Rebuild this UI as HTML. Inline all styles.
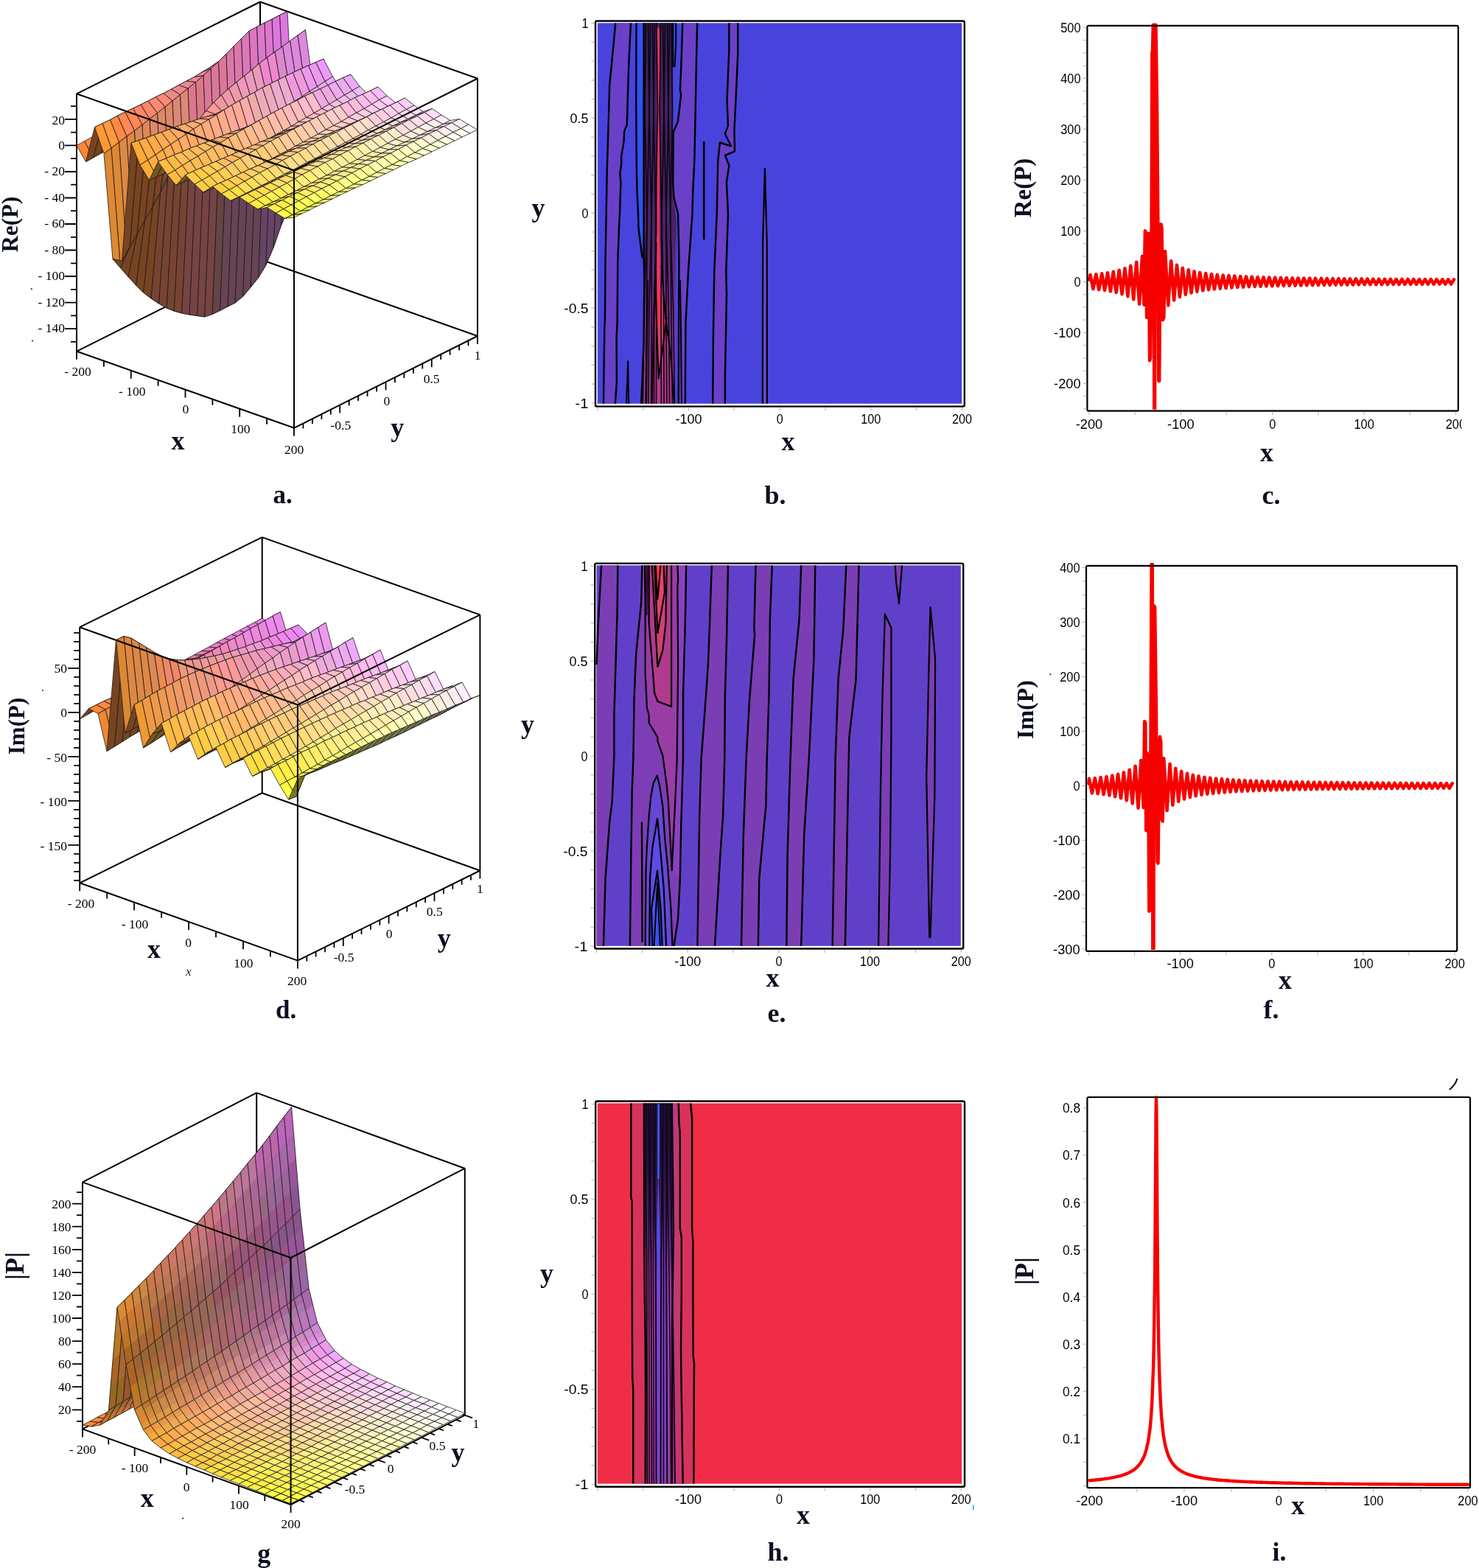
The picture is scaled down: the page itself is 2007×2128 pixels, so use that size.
<!DOCTYPE html>
<html><head><meta charset="utf-8"><title>Figure</title>
<style>html,body{margin:0;padding:0;background:#fff;}svg{display:block;}</style></head>
<body><svg xmlns="http://www.w3.org/2000/svg" width="2007" height="2128" viewBox="0 0 2007 2128">
<rect width="2007" height="2128" fill="#fff"/>
<rect x="810.8" y="31.3" width="494.4" height="516.5" fill="#4843dc"/>
<path d="M835.2 31.3 832 66.6 827.2 115.1 825.8 163.7 823.7 233 822.7 290 821.6 348.8 821 430.6 820.3 448.6 818.9 547.8 834.8 547.8 836.9 517.9 836.6 458.3 837.6 437.5 838.3 354.3 840.4 300 841 290 842.4 246.8 841.3 235.8 843.1 223.3 843.1 212.2 846.6 191.4 847.3 177.5 850.8 169.2 852.1 122 853.5 80.5 856 31.3Z" fill="#6a40c8"/>
<path d="M850 547.8 852.1 490.2 853.2 547.8Z" fill="#3a3fb8"/>
<path d="M863.5 31.3 863.2 136 863.9 233 864.6 260.7 866 290 866.5 310 871.6 350.2 873.6 300 873.6 31.3Z" fill="#3152f2"/>
<linearGradient id="gbd" x1="0" y1="0" x2="0" y2="1"><stop offset="0" stop-color="#3c1f5c"/><stop offset="0.55" stop-color="#4a2268"/><stop offset="0.75" stop-color="#7a3090"/><stop offset="1" stop-color="#a33a9a"/></linearGradient>
<path d="M873.6 31.3 873.6 350 874.3 375 873.6 465.3 870.2 547.8 915.9 547.8 916.5 400 918 300 914.5 267.7 913.2 246.9 913.2 31.3Z" fill="url(#gbd)"/>
<path d="M884.7 547.8 887.5 420 890.5 330 893.5 300 897.5 360 903 430 910 480 915 547.8Z" fill="#b23a88"/>
<path d="M889.5 393 893 380 897 393 904.8 430 893.7 513.8Z" fill="#e0406e"/>
<path d="M893 45 893.2 150 893.5 300 893.7 400 893.7 440" fill="none" stroke="#ff3050" stroke-width="3.2" stroke-linejoin="round"/>
<path d="M891.5 40 893 36 894.5 40 895 120 894.2 200 892.2 200 891.6 120Z" fill="#ff3a5a"/>
<path d="M913.8 31.3 917.2 31.3 917.2 60 914.8 90 913.8 90Z" fill="#3152f2"/>
<path d="M926.3 31.3 924.2 94.3 922.9 122 924.2 129 920.1 163.7 919.4 166.4 913.8 178.9 913.2 246.9 914.5 267.7 920.1 290 921.5 350 921 450 920.8 547.8 929.8 547.8 930.5 437.5 934 368.2 939.5 290 940.2 260.7 942.3 219.1 943.7 149.8 945 80.5 946.2 31.3Z" fill="#6a40c8"/>
<path d="M989.4 31.3 989.4 66.6 986.6 136 988 170.6 983.9 181.7 992.2 198.3 976.9 193.5 974.2 219.1 972.8 290 969.3 368.2 967.9 458.3 967.2 547.8 983.9 547.8 983.9 509.6 986 400 985.3 368.2 988 290 985.9 246.9 989.4 224.7 983.9 210.8 997 205.3 996.4 177.5 999.1 122 1001.2 73.5 1001.2 31.3Z" fill="#6a40c8"/>
<path d="M1034.8 547.8 1035.2 330 1037.9 228.8 1040.7 330 1040.9 547.8Z" fill="#6a48d0"/>
<path d="M876.5 31.3 875 150 878 300 874 420 872.4 547.8" fill="none" stroke="#0a0510" stroke-width="1.6" stroke-linejoin="round"/>
<path d="M879.5 31.3 881 150 878 300 877.5 420 876.1 547.8" fill="none" stroke="#0a0510" stroke-width="1.6" stroke-linejoin="round"/>
<path d="M882.5 31.3 881 150 884 300 880.9 420 879.9 547.8" fill="none" stroke="#0a0510" stroke-width="1.6" stroke-linejoin="round"/>
<path d="M885.5 31.3 887 150 884 300 884.4 420 883.6 547.8" fill="none" stroke="#0a0510" stroke-width="1.6" stroke-linejoin="round"/>
<path d="M888.5 31.3 887 150 890 300 887.8 420 887.4 547.8" fill="none" stroke="#0a0510" stroke-width="1.6" stroke-linejoin="round"/>
<path d="M891 31.3 892.5 150 889.5 300 890.7 420 890.5 547.8" fill="none" stroke="#0a0510" stroke-width="1.6" stroke-linejoin="round"/>
<path d="M896.5 31.3 895 150 898 300 897 420 897.4 547.8" fill="none" stroke="#0a0510" stroke-width="1.6" stroke-linejoin="round"/>
<path d="M899.5 31.3 901 150 898 300 900.5 420 901.1 547.8" fill="none" stroke="#0a0510" stroke-width="1.6" stroke-linejoin="round"/>
<path d="M902.5 31.3 901 150 904 300 903.9 420 904.9 547.8" fill="none" stroke="#0a0510" stroke-width="1.6" stroke-linejoin="round"/>
<path d="M905.5 31.3 907 150 904 300 907.4 420 908.6 547.8" fill="none" stroke="#0a0510" stroke-width="1.6" stroke-linejoin="round"/>
<path d="M908.5 31.3 907 150 910 300 910.8 420 912.4 547.8" fill="none" stroke="#0a0510" stroke-width="1.6" stroke-linejoin="round"/>
<path d="M911 31.3 912.5 150 909.5 300 913.7 420 915.5 547.8" fill="none" stroke="#0a0510" stroke-width="1.6" stroke-linejoin="round"/>
<path d="M835.2 31.3 832 66.6 827.2 115.1 825.8 163.7 823.7 233 822.7 290 821.6 348.8 821 430.6 820.3 448.6 818.9 547.8" fill="none" stroke="#000" stroke-width="2.4" stroke-linejoin="round"/>
<path d="M856 31.3 853.5 80.5 852.1 122 850.8 169.2 847.3 177.5 846.6 191.4 843.1 212.2 843.1 223.3 841.3 235.8 842.4 246.8 841 290 840.4 300 838.3 354.3 837.6 437.5 836.6 458.3 836.9 517.9 834.8 547.8" fill="none" stroke="#000" stroke-width="2.4" stroke-linejoin="round"/>
<path d="M926.3 31.3 924.2 94.3 922.9 122 924.2 129 920.1 163.7 919.4 166.4 913.8 178.9 913.2 246.9 914.5 267.7 920.1 290 921.5 350 921 450 920.8 547.8" fill="none" stroke="#000" stroke-width="2.4" stroke-linejoin="round"/>
<path d="M946.2 31.3 945 80.5 943.7 149.8 942.3 219.1 940.2 260.7 939.5 290 934 368.2 930.5 437.5 929.8 547.8" fill="none" stroke="#000" stroke-width="2.4" stroke-linejoin="round"/>
<path d="M989.4 31.3 989.4 66.6 986.6 136 988 170.6 983.9 181.7 992.2 198.3 976.9 193.5 974.2 219.1 972.8 290 969.3 368.2 967.9 458.3 967.2 547.8" fill="none" stroke="#000" stroke-width="2.4" stroke-linejoin="round"/>
<path d="M1001.2 31.3 1001.2 73.5 999.1 122 996.4 177.5 997 205.3 983.9 210.8 989.4 224.7 985.9 246.9 988 290 985.3 368.2 986 400 983.9 509.6 983.9 547.8" fill="none" stroke="#000" stroke-width="2.4" stroke-linejoin="round"/>
<path d="M863.5 31.3 863.2 136 863.9 233 864.6 260.7 866 290 866.5 310 871.6 350.2" fill="none" stroke="#000" stroke-width="2.4" stroke-linejoin="round"/>
<path d="M873.6 31.3 873.6 350 874.3 375 873.6 465.3 870.2 547.8" fill="none" stroke="#000" stroke-width="2.4" stroke-linejoin="round"/>
<path d="M913.2 31.3 913.2 90 915.5 90 917.2 60 917.2 31.3" fill="none" stroke="#000" stroke-width="2" stroke-linejoin="round"/>
<path d="M850 547.8 852.1 490.2 853.2 547.8" fill="none" stroke="#000" stroke-width="2" stroke-linejoin="round"/>
<path d="M1034.8 547.8 1035.2 330 1037.9 228.8 1040.7 330 1040.9 547.8" fill="none" stroke="#000" stroke-width="2.2" stroke-linejoin="round"/>
<path d="M955.2 191.9 955.2 325.2" fill="none" stroke="#000" stroke-width="2.6" stroke-linejoin="round"/>
<path d="M884.7 547.8 887.5 420 890.5 330" fill="none" stroke="#000" stroke-width="2" stroke-linejoin="round"/>
<path d="M915 547.8 910 480 903 430 897.5 360" fill="none" stroke="#000" stroke-width="2" stroke-linejoin="round"/>
<path d="M889.5 393 893.7 513.8 904.8 430" fill="none" stroke="#000" stroke-width="2" stroke-linejoin="round"/>
<path d="M877.1 547.8 878 450 879 380" fill="none" stroke="#000" stroke-width="2" stroke-linejoin="round"/>
<path d="M924.9 547.8 924 450 923 380" fill="none" stroke="#000" stroke-width="2" stroke-linejoin="round"/>
<rect x="808" y="28.5" width="500.8" height="523.1" fill="none" stroke="#000" stroke-width="2.4" rx="2"/>
<path d="M810.8 553.2v4M872.6 553.2v4M934.5 553.2v4M996.3 553.2v4M1058.2 553.2v4M1120 553.2v4M1181.8 553.2v4M1243.7 553.2v4M1305.5 553.2v4M806.4 547h-4M806.4 521.2h-4M806.4 495.4h-4M806.4 469.6h-4M806.4 443.9h-4M806.4 418.1h-4M806.4 392.3h-4M806.4 366.5h-4M806.4 340.8h-4M806.4 315h-4M806.4 289.2h-4M806.4 263.4h-4M806.4 237.6h-4M806.4 211.9h-4M806.4 186.1h-4M806.4 160.3h-4M806.4 134.5h-4M806.4 108.8h-4M806.4 83h-4M806.4 57.2h-4M806.4 31.4h-4" stroke="#b8b8b8" stroke-width="1.2" fill="none"/>
<text x="934.5" y="574.9" text-anchor="middle" font-family="'Liberation Sans', Arial, sans-serif" font-size="19" fill="#000" textLength="36" lengthAdjust="spacingAndGlyphs">-100</text>
<text x="1058.2" y="574.9" text-anchor="middle" font-family="'Liberation Sans', Arial, sans-serif" font-size="19" fill="#000" textLength="9" lengthAdjust="spacingAndGlyphs">0</text>
<text x="1181.8" y="574.9" text-anchor="middle" font-family="'Liberation Sans', Arial, sans-serif" font-size="19" fill="#000" textLength="27" lengthAdjust="spacingAndGlyphs">100</text>
<text x="1305.5" y="574.9" text-anchor="middle" font-family="'Liberation Sans', Arial, sans-serif" font-size="19" fill="#000" textLength="27" lengthAdjust="spacingAndGlyphs">200</text>
<text x="798.5" y="38.2" text-anchor="end" font-family="'Liberation Sans', Arial, sans-serif" font-size="19" fill="#000" textLength="9" lengthAdjust="spacingAndGlyphs">1</text>
<text x="798.5" y="167.1" text-anchor="end" font-family="'Liberation Sans', Arial, sans-serif" font-size="19" fill="#000" textLength="24.9" lengthAdjust="spacingAndGlyphs">0.5</text>
<text x="798.5" y="295.9" text-anchor="end" font-family="'Liberation Sans', Arial, sans-serif" font-size="19" fill="#000" textLength="9" lengthAdjust="spacingAndGlyphs">0</text>
<text x="798.5" y="424.8" text-anchor="end" font-family="'Liberation Sans', Arial, sans-serif" font-size="19" fill="#000" textLength="33.2" lengthAdjust="spacingAndGlyphs">-0.5</text>
<text x="798.5" y="553.7" text-anchor="end" font-family="'Liberation Sans', Arial, sans-serif" font-size="19" fill="#000" textLength="18" lengthAdjust="spacingAndGlyphs">-1</text>
<rect x="809.5" y="767.3" width="494.3" height="516.5" fill="#6040c9"/>
<path d="M809.5 902 809.5 902 811.2 859 813.3 817.5 816.1 767.3 838.3 767.3 837.6 831.3 835.5 900.7 833.4 970 833.4 1025 830.7 1087.4 827.2 1115.1 821.6 1191.4 818.9 1283.8 809.5 1283.8Z" fill="#7b3db4"/>
<path d="M871.3 767.3 870.2 817.5 863.2 886.8 860.5 949.2 859.4 1030 857.7 1073.5 856.3 1163.7 854.9 1283.8 914.5 1283.8 920.1 1246.9 922.9 1191.4 924.2 1122.1 927 1025 927 942.3 929.8 845.2 931.2 767.3Z" fill="#7d3db6"/>
<path d="M875 767.3 875.7 817.5 875.7 914.5 877.1 942.3 877.8 960.3 880.6 970 880.6 981 892.4 1000.5 892.4 1006 899.3 1025.4 902.1 1045.8 904.8 1066.6 906.9 1087.4 908.3 1115.1 911.8 1181.7 911.8 1181.7 913.2 1149.8 915.9 1094.3 918.7 1030 920.1 900.7 919.4 796.7 920.1 787 919.4 767.3Z" fill="#9a3ca6"/>
<path d="M880.6 767.3 880.6 845.2 888.2 940.9 892.4 952 911.1 958.9 911.1 767.3Z" fill="#b03a8c"/>
<path d="M884.7 767.3 892.4 904.8 899.3 882.6 900.7 870.2 903.4 845.2 904.8 767.3Z" fill="#d03f78"/>
<path d="M888.2 767.3 892.4 859 902 803.6 900.7 767.3Z" fill="#e5426a"/>
<path d="M889.6 767.3 892.4 813.3 896.5 767.3Z" fill="#fa3448"/>
<path d="M919.4 767.3 920.1 787 919.4 796.7 920.1 900.7 918.7 1030 915.9 1094.3 913.2 1149.8 911.8 1181.7 922.9 1191.4 924.2 1122.1 927 1025 927 942.3 929.8 845.2 931.2 767.3Z" fill="#8a40c0"/>
<path d="M875.7 1283.8 876.4 1184.5 877.8 1149.8 880.6 1108.2 883.3 1080.5 886.8 1062.4 891.7 1052.7 895.1 1066.6 899.3 1094.3 902.1 1135.9 906.2 1177.5 910.4 1233 912.5 1283.8Z" fill="#6646d4"/>
<path d="M881.3 1283.8 882 1191.4 885.4 1149.8 892.1 1111 895.8 1149.8 900.7 1205.3 904.1 1283.8Z" fill="#5a4ce6"/>
<path d="M885.4 1283.8 884 1233 892.1 1181.7 896.5 1233 898.6 1283.8Z" fill="#4a52f4"/>
<path d="M887.5 1283.8 892.1 1198.3 895.8 1283.8Z" fill="#3452ff"/>
<path d="M965.8 767.3 963.1 845.2 961 900.7 956.1 970 951.6 1030 949.2 1108.2 946.4 1283.8 970 1283.8 977.6 1156.7 981.1 1108.2 983.2 1030 983.9 942.3 985.9 873 988 767.3Z" fill="#7b3db4"/>
<path d="M1025.5 767.3 1023.4 852.1 1024.1 861.8 1017.1 949.2 1012.6 1030 1008.8 1135.9 1006 1283.8 1028.9 1283.8 1030.3 1191.4 1039.3 1094.3 1040.7 1030 1043.5 942.3 1044.9 838.3 1047.7 767.3Z" fill="#7b3db4"/>
<path d="M1087.2 767.3 1084.5 841.7 1076.6 921.4 1072.6 1027.6 1068.6 1160.4 1067.3 1283.8 1087.2 1283.8 1091.2 1133.8 1097.8 1027.6 1104.4 894.8 1106.3 767.3Z" fill="#7b3db4"/>
<path d="M1148.3 767.3 1144.3 855 1137.6 921.4 1133.7 1027.6 1129.7 1283.8 1146.9 1283.8 1149.6 1133.8 1152.3 1001 1161.6 921.4 1165.5 767.3Z" fill="#7b3db4"/>
<path d="M1214.7 767.3 1216 788.6 1220 819.1 1224 767.3Z" fill="#7b3db4"/>
<path d="M1192.1 1283.8 1194.8 1080.7 1197.4 947.9 1200.9 833.7 1209.4 852.3 1209.4 1001 1208 1160.4 1205.4 1283.8Z" fill="#7b3db4"/>
<path d="M1262.5 823.1 1269.1 894.8 1268.3 1080.7 1262.5 1272 1261.2 1271.9 1257.2 1054.2 1259.8 934.6Z" fill="#7b3db4"/>
<path d="M816.1 767.3 813.3 817.5 811.2 859 809.5 902" fill="none" stroke="#000" stroke-width="2.4" stroke-linejoin="round"/>
<path d="M838.3 767.3 837.6 831.3 835.5 900.7 833.4 970 833.4 1025 830.7 1087.4 827.2 1115.1 821.6 1191.4 818.9 1283.8" fill="none" stroke="#000" stroke-width="2.4" stroke-linejoin="round"/>
<path d="M871.3 767.3 870.2 817.5 863.2 886.8 860.5 949.2 859.4 1030 857.7 1073.5 856.3 1163.7 854.9 1283.8" fill="none" stroke="#000" stroke-width="2.4" stroke-linejoin="round"/>
<path d="M931.2 767.3 929.8 845.2 927 942.3 927 1025 924.2 1122.1 922.9 1191.4 920.1 1246.9 914.5 1283.8" fill="none" stroke="#000" stroke-width="2.4" stroke-linejoin="round"/>
<path d="M965.8 767.3 963.1 845.2 961 900.7 956.1 970 951.6 1030 949.2 1108.2 946.4 1283.8" fill="none" stroke="#000" stroke-width="2.4" stroke-linejoin="round"/>
<path d="M988 767.3 985.9 873 983.9 942.3 983.2 1030 981.1 1108.2 977.6 1156.7 970 1283.8" fill="none" stroke="#000" stroke-width="2.4" stroke-linejoin="round"/>
<path d="M1025.5 767.3 1023.4 852.1 1024.1 861.8 1017.1 949.2 1012.6 1030 1008.8 1135.9 1006 1283.8" fill="none" stroke="#000" stroke-width="2.4" stroke-linejoin="round"/>
<path d="M1047.7 767.3 1044.9 838.3 1043.5 942.3 1040.7 1030 1039.3 1094.3 1030.3 1191.4 1028.9 1283.8" fill="none" stroke="#000" stroke-width="2.4" stroke-linejoin="round"/>
<path d="M1087.2 767.3 1084.5 841.7 1076.6 921.4 1072.6 1027.6 1068.6 1160.4 1067.3 1283.8" fill="none" stroke="#000" stroke-width="2.4" stroke-linejoin="round"/>
<path d="M1106.3 767.3 1104.4 894.8 1097.8 1027.6 1091.2 1133.8 1087.2 1283.8" fill="none" stroke="#000" stroke-width="2.4" stroke-linejoin="round"/>
<path d="M1148.3 767.3 1144.3 855 1137.6 921.4 1133.7 1027.6 1129.7 1283.8" fill="none" stroke="#000" stroke-width="2.4" stroke-linejoin="round"/>
<path d="M1165.5 767.3 1161.6 921.4 1152.3 1001 1149.6 1133.8 1146.9 1283.8" fill="none" stroke="#000" stroke-width="2.4" stroke-linejoin="round"/>
<path d="M875 767.3 875.7 817.5 875.7 914.5 877.1 942.3 877.8 960.3 880.6 970 880.6 981 892.4 1000.5 892.4 1006 899.3 1025.4 902.1 1045.8 904.8 1066.6 906.9 1087.4 908.3 1115.1 911.8 1181.7" fill="none" stroke="#000" stroke-width="2.2" stroke-linejoin="round"/>
<path d="M919.4 767.3 920.1 787 919.4 796.7 920.1 900.7 918.7 1030 915.9 1094.3 913.2 1149.8 911.8 1181.7" fill="none" stroke="#000" stroke-width="2.2" stroke-linejoin="round"/>
<path d="M880.6 767.3 880.6 845.2 888.2 940.9 892.4 952 911.1 958.9 911.1 767.3" fill="none" stroke="#000" stroke-width="2.2" stroke-linejoin="round"/>
<path d="M884.7 767.3 892.4 904.8 899.3 882.6 900.7 870.2 903.4 845.2 904.8 767.3" fill="none" stroke="#000" stroke-width="2.2" stroke-linejoin="round"/>
<path d="M888.2 767.3 892.4 859 902 803.6 900.7 767.3" fill="none" stroke="#000" stroke-width="2.2" stroke-linejoin="round"/>
<path d="M889.6 767.3 892.4 813.3 896.5 767.3" fill="none" stroke="#000" stroke-width="2" stroke-linejoin="round"/>
<path d="M875.7 1283.8 876.4 1184.5 877.8 1149.8 880.6 1108.2 883.3 1080.5 886.8 1062.4 891.7 1052.7 895.1 1066.6 899.3 1094.3 902.1 1135.9 906.2 1177.5 910.4 1233 912.5 1283.8" fill="none" stroke="#000" stroke-width="2.2" stroke-linejoin="round"/>
<path d="M881.3 1283.8 882 1191.4 885.4 1149.8 892.1 1111 895.8 1149.8 900.7 1205.3 904.1 1283.8" fill="none" stroke="#000" stroke-width="2.2" stroke-linejoin="round"/>
<path d="M885.4 1283.8 884 1233 892.1 1181.7 896.5 1233 898.6 1283.8" fill="none" stroke="#000" stroke-width="2.2" stroke-linejoin="round"/>
<path d="M887.5 1283.8 892.1 1198.3 895.8 1283.8" fill="none" stroke="#000" stroke-width="2" stroke-linejoin="round"/>
<path d="M1214.7 767.3 1216 788.6 1220 819.1 1224 767.3" fill="none" stroke="#000" stroke-width="2.2" stroke-linejoin="round"/>
<path d="M1192.1 1283.8 1194.8 1080.7 1197.4 947.9 1200.9 833.7 1209.4 852.3 1209.4 1001 1208 1160.4 1205.4 1283.8" fill="none" stroke="#000" stroke-width="2.2" stroke-linejoin="round"/>
<path d="M1262.5 823.1 1269.1 894.8 1268.3 1080.7 1262.5 1272 1261.2 1271.9 1257.2 1054.2 1259.8 934.6 1262.5 823.1" fill="none" stroke="#000" stroke-width="2.2" stroke-linejoin="round"/>
<path d="M870.9 1115.8 871.6 1278.7" fill="none" stroke="#000" stroke-width="2.4" stroke-linejoin="round"/>
<path d="M877.5 767.3 877 800 876.3 835" fill="none" stroke="#1a0a20" stroke-width="1.4" stroke-linejoin="round"/>
<path d="M879 767.3 878.5 800 877.8 835" fill="none" stroke="#1a0a20" stroke-width="1.4" stroke-linejoin="round"/>
<rect x="807.2" y="764.6" width="500" height="522.9" fill="none" stroke="#000" stroke-width="2.4" rx="2"/>
<path d="M809.5 1289.1v4M871.4 1289.1v4M933.2 1289.1v4M995 1289.1v4M1056.9 1289.1v4M1118.8 1289.1v4M1180.6 1289.1v4M1242.4 1289.1v4M1304.3 1289.1v4M805.6 1283.8h-4M805.6 1258.1h-4M805.6 1232.3h-4M805.6 1206.5h-4M805.6 1180.7h-4M805.6 1154.9h-4M805.6 1129.1h-4M805.6 1103.4h-4M805.6 1077.6h-4M805.6 1051.8h-4M805.6 1026h-4M805.6 1000.2h-4M805.6 974.4h-4M805.6 948.6h-4M805.6 922.9h-4M805.6 897.1h-4M805.6 871.3h-4M805.6 845.5h-4M805.6 819.7h-4M805.6 793.9h-4M805.6 768.1h-4" stroke="#b8b8b8" stroke-width="1.2" fill="none"/>
<text x="933.2" y="1311" text-anchor="middle" font-family="'Liberation Sans', Arial, sans-serif" font-size="19" fill="#000" textLength="36" lengthAdjust="spacingAndGlyphs">-100</text>
<text x="1056.9" y="1311" text-anchor="middle" font-family="'Liberation Sans', Arial, sans-serif" font-size="19" fill="#000" textLength="9" lengthAdjust="spacingAndGlyphs">0</text>
<text x="1180.6" y="1311" text-anchor="middle" font-family="'Liberation Sans', Arial, sans-serif" font-size="19" fill="#000" textLength="27" lengthAdjust="spacingAndGlyphs">100</text>
<text x="1304.3" y="1311" text-anchor="middle" font-family="'Liberation Sans', Arial, sans-serif" font-size="19" fill="#000" textLength="27" lengthAdjust="spacingAndGlyphs">200</text>
<text x="797.5" y="774.9" text-anchor="end" font-family="'Liberation Sans', Arial, sans-serif" font-size="19" fill="#000" textLength="9" lengthAdjust="spacingAndGlyphs">1</text>
<text x="797.5" y="903.8" text-anchor="end" font-family="'Liberation Sans', Arial, sans-serif" font-size="19" fill="#000" textLength="24.9" lengthAdjust="spacingAndGlyphs">0.5</text>
<text x="797.5" y="1032.7" text-anchor="end" font-family="'Liberation Sans', Arial, sans-serif" font-size="19" fill="#000" textLength="9" lengthAdjust="spacingAndGlyphs">0</text>
<text x="797.5" y="1161.7" text-anchor="end" font-family="'Liberation Sans', Arial, sans-serif" font-size="19" fill="#000" textLength="33.2" lengthAdjust="spacingAndGlyphs">-0.5</text>
<text x="797.5" y="1290.6" text-anchor="end" font-family="'Liberation Sans', Arial, sans-serif" font-size="19" fill="#000" textLength="18" lengthAdjust="spacingAndGlyphs">-1</text>
<rect x="810.8" y="1497.3" width="494.3" height="516.3" fill="#f02d46"/>
<path d="M856.3 1497.3 856.3 1625.7 857.6 1629.8 857.8 1755 858.2 1870 859.3 1885 859.3 2013.6 941.3 2013.6 942 1850 940.7 1840 940.4 1755 940.4 1686.8 939.1 1666.5 939.1 1517.1 937.1 1497.3Z" fill="#d8325a"/>
<path d="M873.9 1497.3 874.3 1700 874.7 1755 875.7 1820 876 1888 875.7 2013.6 926.7 2013.6 924.7 1888 924 1830 924.8 1760 924.8 1680 922.8 1666.5 922.8 1537.5 921.4 1524 920.8 1497.3Z" fill="#c83272"/>
<linearGradient id="ghb" x1="874" y1="0" x2="926" y2="0" gradientUnits="userSpaceOnUse"><stop offset="0" stop-color="#d83878"/><stop offset="0.16" stop-color="#c040a0"/><stop offset="0.3" stop-color="#a040b0"/><stop offset="0.45" stop-color="#7e42c4"/><stop offset="0.58" stop-color="#8a40c0"/><stop offset="0.72" stop-color="#b03c90"/><stop offset="0.88" stop-color="#c83570"/><stop offset="1" stop-color="#cc3468"/></linearGradient>
<path d="M873.9 1497.3 874.3 1700 874.7 1755 875.7 1820 876 1888 875.7 2013.6 926.7 2013.6 924.7 1888 924 1830 924.8 1760 924.8 1680 922.8 1666.5 922.8 1537.5 921.4 1524 920.8 1497.3Z" fill="url(#ghb)"/>
<linearGradient id="ghd" x1="0" y1="1497" x2="0" y2="2014" gradientUnits="userSpaceOnUse"><stop offset="0" stop-color="#22103a"/><stop offset="0.18" stop-color="#2a1244"/><stop offset="0.3" stop-color="#3a1a5a" stop-opacity="0.85"/><stop offset="0.45" stop-color="#4a2070" stop-opacity="0.25"/><stop offset="0.6" stop-color="#4a2070" stop-opacity="0"/><stop offset="1" stop-color="#4a2070" stop-opacity="0"/></linearGradient>
<path d="M874.3 1497.3 874.5 1700 875 1760 876 1800 876 2013.6 912 2013.6 912 1800 913 1740 914 1666.5 911.9 1497.3Z" fill="url(#ghd)"/>
<path d="M889.5 1760 893.3 1690 898 1760 900 1880 897 1960 893.3 2013.6 890 1960 888.5 1880Z" fill="#7a44cc"/>
<path d="M891.2 1690 893.3 1580 895.6 1690 893.3 1760Z" fill="#4a50f0"/>
<path d="M893.6 1498.3 893.6 1540 893.4 1600" fill="none" stroke="#3a5cff" stroke-width="2.6" stroke-linejoin="round"/>
<path d="M877 1497.3 876 1600 877.5 1700 878 1850 878.5 2013.6" fill="none" stroke="#12061c" stroke-width="2" stroke-linejoin="round"/>
<path d="M880 1497.3 881 1600 880.4 1700 880.9 1850 881.3 2013.6" fill="none" stroke="#12061c" stroke-width="1.5" stroke-linejoin="round"/>
<path d="M883 1497.3 882 1600 883.5 1700 884 1850 884.5 2013.6" fill="none" stroke="#12061c" stroke-width="2" stroke-linejoin="round"/>
<path d="M886 1497.3 887 1600 886.4 1700 886.9 1850 887.3 2013.6" fill="none" stroke="#12061c" stroke-width="1.5" stroke-linejoin="round"/>
<path d="M889.5 1497.3 888.5 1600 889.8 1700 890.2 1850 890.5 2013.6" fill="none" stroke="#12061c" stroke-width="2" stroke-linejoin="round"/>
<path d="M897.5 1497.3 898.5 1600 897.2 1700 896.8 1850 896.5 2013.6" fill="none" stroke="#12061c" stroke-width="2" stroke-linejoin="round"/>
<path d="M900.5 1497.3 899.5 1600 900.5 1700 900.5 1850 900.5 2013.6" fill="none" stroke="#12061c" stroke-width="1.5" stroke-linejoin="round"/>
<path d="M903.5 1497.3 904.5 1600 904 1700 904.8 1850 905.3 2013.6" fill="none" stroke="#12061c" stroke-width="2" stroke-linejoin="round"/>
<path d="M906.5 1497.3 905.5 1600 907.7 1700 909.3 1850 910.5 2013.6" fill="none" stroke="#12061c" stroke-width="1.5" stroke-linejoin="round"/>
<path d="M909.5 1497.3 910.5 1600 911.5 1700 914 1850 916 2013.6" fill="none" stroke="#12061c" stroke-width="2" stroke-linejoin="round"/>
<path d="M856.3 1497.3 856.3 1625.7 857.6 1629.8 857.8 1755 858.2 1870 859.3 1885 859.3 2013.6" fill="none" stroke="#000" stroke-width="2.4" stroke-linejoin="round"/>
<path d="M873.9 1497.3 874.3 1700 874.7 1755 875.7 1820 876 1888 875.7 2013.6" fill="none" stroke="#000" stroke-width="2.4" stroke-linejoin="round"/>
<path d="M920.8 1497.3 921.4 1524 922.8 1537.5 922.8 1666.5 924.8 1680 924.8 1760 924 1830 924.7 1888 926.7 2013.6" fill="none" stroke="#000" stroke-width="2.4" stroke-linejoin="round"/>
<path d="M937.1 1497.3 939.1 1517.1 939.1 1666.5 940.4 1686.8 940.4 1755 940.7 1840 942 1850 941.3 2013.6" fill="none" stroke="#000" stroke-width="2.4" stroke-linejoin="round"/>
<path d="M911.9 1497.3 914 1666.5 913 1740 912 1800 912 2013.6" fill="none" stroke="#000" stroke-width="2.2" stroke-linejoin="round"/>
<rect x="808.2" y="1494.5" width="500.8" height="523.2" fill="none" stroke="#000" stroke-width="2.4" rx="2"/>
<path d="M810.8 2019.3v4M872.5 2019.3v4M934.1 2019.3v4M995.8 2019.3v4M1057.5 2019.3v4M1119.2 2019.3v4M1180.8 2019.3v4M1242.5 2019.3v4M1304.2 2019.3v4M806.6 2014.5h-4M806.6 1988.7h-4M806.6 1962.9h-4M806.6 1937.1h-4M806.6 1911.3h-4M806.6 1885.5h-4M806.6 1859.7h-4M806.6 1833.9h-4M806.6 1808.1h-4M806.6 1782.3h-4M806.6 1756.5h-4M806.6 1730.7h-4M806.6 1704.9h-4M806.6 1679.1h-4M806.6 1653.3h-4M806.6 1627.5h-4M806.6 1601.7h-4M806.6 1575.9h-4M806.6 1550.1h-4M806.6 1524.3h-4M806.6 1498.5h-4" stroke="#b8b8b8" stroke-width="1.2" fill="none"/>
<text x="934.1" y="2040.7" text-anchor="middle" font-family="'Liberation Sans', Arial, sans-serif" font-size="19" fill="#000" textLength="36" lengthAdjust="spacingAndGlyphs">-100</text>
<text x="1057.5" y="2040.7" text-anchor="middle" font-family="'Liberation Sans', Arial, sans-serif" font-size="19" fill="#000" textLength="9" lengthAdjust="spacingAndGlyphs">0</text>
<text x="1180.8" y="2040.7" text-anchor="middle" font-family="'Liberation Sans', Arial, sans-serif" font-size="19" fill="#000" textLength="27" lengthAdjust="spacingAndGlyphs">100</text>
<text x="1304.2" y="2040.7" text-anchor="middle" font-family="'Liberation Sans', Arial, sans-serif" font-size="19" fill="#000" textLength="27" lengthAdjust="spacingAndGlyphs">200</text>
<text x="798.5" y="1505.2" text-anchor="end" font-family="'Liberation Sans', Arial, sans-serif" font-size="19" fill="#000" textLength="9" lengthAdjust="spacingAndGlyphs">1</text>
<text x="798.5" y="1634.2" text-anchor="end" font-family="'Liberation Sans', Arial, sans-serif" font-size="19" fill="#000" textLength="24.9" lengthAdjust="spacingAndGlyphs">0.5</text>
<text x="798.5" y="1763.2" text-anchor="end" font-family="'Liberation Sans', Arial, sans-serif" font-size="19" fill="#000" textLength="9" lengthAdjust="spacingAndGlyphs">0</text>
<text x="798.5" y="1892.2" text-anchor="end" font-family="'Liberation Sans', Arial, sans-serif" font-size="19" fill="#000" textLength="33.2" lengthAdjust="spacingAndGlyphs">-0.5</text>
<text x="798.5" y="2021.2" text-anchor="end" font-family="'Liberation Sans', Arial, sans-serif" font-size="19" fill="#000" textLength="18" lengthAdjust="spacingAndGlyphs">-1</text>
<path d="M1320.8 2042.5v6.5" stroke="#4a90e0" stroke-width="1.6"/>
<path d="M1478 559.2v4M1540.2 559.2v4M1602.3 559.2v4M1664.5 559.2v4M1726.7 559.2v4M1788.9 559.2v4M1851.1 559.2v4M1913.2 559.2v4M1975.4 559.2v4" stroke="#bbb" stroke-width="1.2" fill="none"/>
<path d="M1473.9 554.9h-4M1473.9 537.6h-4M1473.9 520.4h-4M1473.9 503.1h-4M1473.9 485.9h-4M1473.9 468.6h-4M1473.9 451.4h-4M1473.9 434.1h-4M1473.9 416.9h-4M1473.9 399.6h-4M1473.9 382.4h-4M1473.9 365.1h-4M1473.9 347.9h-4M1473.9 330.6h-4M1473.9 313.4h-4M1473.9 296.1h-4M1473.9 278.9h-4M1473.9 261.6h-4M1473.9 244.4h-4M1473.9 227.1h-4M1473.9 209.9h-4M1473.9 192.7h-4M1473.9 175.4h-4M1473.9 158.2h-4M1473.9 140.9h-4M1473.9 123.6h-4M1473.9 106.4h-4M1473.9 89.1h-4M1473.9 71.9h-4M1473.9 54.6h-4M1473.9 37.4h-4" stroke="#bbb" stroke-width="1.2" fill="none"/>
<clipPath id="clc"><rect x="1475.4" y="30.799999999999997" width="503.39999999999986" height="524.9000000000001"/></clipPath>
<polyline clip-path="url(#clc)" points="1478,379.6 1479.5,373 1483.4,392.1 1487.3,372.3 1491.2,393 1495.2,371.3 1499.1,394 1503,370.2 1506.9,395.3 1510.8,368.7 1514.7,396.9 1518.7,366.9 1522.6,399.1 1526.5,364.3 1530.4,402.1 1534.3,360.8 1538.2,406.3 1542.2,355.7 1546.1,412.6 1550,347.9 1552.4,413.4 1553.9,313.4 1554.7,314.8 1556.1,430.7 1557.6,341 1558.8,316.8 1560.1,489.3 1561.1,485.9 1562.6,341 1563.4,71.9 1564.1,68.4 1564.8,33.9 1565.7,33.9 1566.3,560.4 1567,560.4 1567.8,33.9 1568.4,33.9 1570,140.9 1571.3,299.6 1572.3,516.9 1573.1,516.9 1574.4,354.8 1575.6,304.4 1576.5,309.9 1578,434.1 1579.3,430.7 1581,341 1585.3,414.4 1589.2,354.2 1593.1,407.5 1597,359.9 1600.9,402.9 1604.8,363.7 1608.8,399.7 1612.7,366.4 1616.6,397.4 1620.5,368.4 1624.4,395.6 1628.3,369.9 1632.3,394.3 1636.2,371.1 1640.1,393.2 1644,372.1 1647.9,392.3 1651.8,372.9 1655.8,391.6 1659.7,373.5 1663.6,391 1667.5,374.1 1671.4,390.4 1675.3,374.6 1679.3,390 1683.2,375 1687.1,389.6 1691,375.4 1694.9,389.2 1698.8,375.7 1702.8,388.9 1706.7,376 1710.6,388.6 1714.5,376.3 1718.4,388.4 1722.3,376.5 1726.3,388.2 1730.2,376.7 1734.1,388 1738,376.9 1741.9,387.8 1745.8,377.1 1749.8,387.6 1753.7,377.3 1757.6,387.5 1761.5,377.4 1765.4,387.3 1769.4,377.6 1773.3,387.2 1777.2,377.7 1781.1,387.1 1785,377.8 1788.9,386.9 1792.9,377.9 1796.8,386.8 1800.7,378 1804.6,386.7 1808.5,378.1 1812.4,386.6 1816.4,378.2 1820.3,386.5 1824.2,378.3 1828.1,386.5 1832,378.4 1835.9,386.4 1839.9,378.4 1843.8,386.3 1847.7,378.5 1851.6,386.2 1855.5,378.6 1859.4,386.2 1863.4,378.7 1867.3,386.1 1871.2,378.7 1875.1,386.1 1879,378.8 1882.9,386 1886.9,378.8 1890.8,385.9 1894.7,378.9 1898.6,385.9 1902.5,378.9 1906.4,385.8 1910.4,379 1914.3,385.8 1918.2,379 1922.1,385.8 1926,379.1 1930,385.7 1933.9,379.1 1937.8,385.7 1941.7,379.1 1945.6,385.6 1949.5,379.2 1953.5,385.6 1957.4,379.2 1961.3,385.6 1965.2,379.3 1969.1,385.5 1973,379.3" fill="none" stroke="#f70000" stroke-width="4.6" stroke-linejoin="round" stroke-linecap="round"/>
<rect x="1475.4" y="34.8" width="503.4" height="522.9" fill="none" stroke="#000" stroke-width="2.2" rx="2"/>
<text x="1466.5" y="44.1" text-anchor="end" font-family="'Liberation Sans', Arial, sans-serif" font-size="19" fill="#000" textLength="27.3" lengthAdjust="spacingAndGlyphs">500</text>
<text x="1466.5" y="113.1" text-anchor="end" font-family="'Liberation Sans', Arial, sans-serif" font-size="19" fill="#000" textLength="27.3" lengthAdjust="spacingAndGlyphs">400</text>
<text x="1466.5" y="182.1" text-anchor="end" font-family="'Liberation Sans', Arial, sans-serif" font-size="19" fill="#000" textLength="27.3" lengthAdjust="spacingAndGlyphs">300</text>
<text x="1466.5" y="251.1" text-anchor="end" font-family="'Liberation Sans', Arial, sans-serif" font-size="19" fill="#000" textLength="27.3" lengthAdjust="spacingAndGlyphs">200</text>
<text x="1466.5" y="320.1" text-anchor="end" font-family="'Liberation Sans', Arial, sans-serif" font-size="19" fill="#000" textLength="27.3" lengthAdjust="spacingAndGlyphs">100</text>
<text x="1466.5" y="389.1" text-anchor="end" font-family="'Liberation Sans', Arial, sans-serif" font-size="19" fill="#000" textLength="9.1" lengthAdjust="spacingAndGlyphs">0</text>
<text x="1466.5" y="458.1" text-anchor="end" font-family="'Liberation Sans', Arial, sans-serif" font-size="19" fill="#000" textLength="36.4" lengthAdjust="spacingAndGlyphs">-100</text>
<text x="1466.5" y="527.1" text-anchor="end" font-family="'Liberation Sans', Arial, sans-serif" font-size="19" fill="#000" textLength="36.4" lengthAdjust="spacingAndGlyphs">-200</text>
<text x="1478" y="582.3" text-anchor="middle" font-family="'Liberation Sans', Arial, sans-serif" font-size="19" fill="#000" textLength="36.4" lengthAdjust="spacingAndGlyphs">-200</text>
<text x="1602.3" y="582.3" text-anchor="middle" font-family="'Liberation Sans', Arial, sans-serif" font-size="19" fill="#000" textLength="36.4" lengthAdjust="spacingAndGlyphs">-100</text>
<text x="1726.7" y="582.3" text-anchor="middle" font-family="'Liberation Sans', Arial, sans-serif" font-size="19" fill="#000" textLength="9.1" lengthAdjust="spacingAndGlyphs">0</text>
<text x="1851.1" y="582.3" text-anchor="middle" font-family="'Liberation Sans', Arial, sans-serif" font-size="19" fill="#000" textLength="27.3" lengthAdjust="spacingAndGlyphs">100</text>
<text x="1975.4" y="582.3" text-anchor="middle" font-family="'Liberation Sans', Arial, sans-serif" font-size="19" fill="#000" textLength="27.3" lengthAdjust="spacingAndGlyphs">200</text>
<rect x="1983.6" y="560" width="30" height="30" fill="#fff"/>
<path d="M1477.5 1292.4v4M1539.6 1292.4v4M1601.7 1292.4v4M1663.7 1292.4v4M1725.8 1292.4v4M1787.9 1292.4v4M1849.9 1292.4v4M1912 1292.4v4M1974.1 1292.4v4" stroke="#bbb" stroke-width="1.2" fill="none"/>
<path d="M1472.5 1288.4h-4M1472.5 1269.9h-4M1472.5 1251.4h-4M1472.5 1232.9h-4M1472.5 1214.4h-4M1472.5 1195.9h-4M1472.5 1177.4h-4M1472.5 1158.9h-4M1472.5 1140.4h-4M1472.5 1121.9h-4M1472.5 1103.4h-4M1472.5 1084.9h-4M1472.5 1066.4h-4M1472.5 1047.9h-4M1472.5 1029.4h-4M1472.5 1010.9h-4M1472.5 992.4h-4M1472.5 973.9h-4M1472.5 955.4h-4M1472.5 936.9h-4M1472.5 918.4h-4M1472.5 899.9h-4M1472.5 881.4h-4M1472.5 862.9h-4M1472.5 844.4h-4M1472.5 825.9h-4M1472.5 807.4h-4M1472.5 788.9h-4M1472.5 770.4h-4" stroke="#bbb" stroke-width="1.2" fill="none"/>
<clipPath id="clf"><rect x="1474" y="763.9" width="503.20000000000005" height="525.0000000000001"/></clipPath>
<polyline clip-path="url(#clf)" points="1477.5,1063.5 1478,1056.8 1481.9,1076.3 1485.8,1056.1 1489.7,1077.2 1493.6,1055.1 1497.6,1078.2 1501.5,1054 1505.4,1079.5 1509.3,1052.5 1513.2,1081.1 1517.1,1050.7 1521,1083.3 1524.9,1048.2 1528.8,1086.2 1532.7,1044.7 1536.7,1090.4 1540.6,1039.7 1544.5,1096.6 1548.4,1032 1551.7,1096 1553.2,979.1 1554.2,981.3 1555.3,1127.1 1556.7,1022 1558.2,1036.8 1559.4,1236.6 1560.4,1235.1 1561.5,1022 1562.7,764.5 1563.7,764.5 1564.4,1292.8 1565.4,1292.8 1566.1,822.2 1567.1,823.7 1568.8,955.4 1570.6,1170 1571.5,1171.5 1573.1,1022 1574,999.8 1575.2,1007.2 1576.4,1110.8 1577.7,1114.5 1579.3,1029.4 1583.6,1100 1587.5,1036.9 1591.4,1092.6 1595.3,1042.9 1599.2,1087.7 1603.1,1046.9 1607.1,1084.4 1611,1049.7 1614.9,1081.9 1618.8,1051.8 1622.7,1080.1 1626.6,1053.4 1630.5,1078.7 1634.4,1054.7 1638.3,1077.6 1642.2,1055.7 1646.2,1076.7 1650.1,1056.5 1654,1075.9 1657.9,1057.2 1661.8,1075.3 1665.7,1057.8 1669.6,1074.7 1673.5,1058.3 1677.4,1074.2 1681.4,1058.8 1685.3,1073.8 1689.2,1059.2 1693.1,1073.5 1697,1059.5 1700.9,1073.2 1704.8,1059.8 1708.7,1072.9 1712.6,1060.1 1716.6,1072.6 1720.5,1060.3 1724.4,1072.4 1728.3,1060.5 1732.2,1072.2 1736.1,1060.7 1740,1072 1743.9,1060.9 1747.8,1071.8 1751.7,1061.1 1755.7,1071.6 1759.6,1061.2 1763.5,1071.5 1767.4,1061.4 1771.3,1071.4 1775.2,1061.5 1779.1,1071.2 1783,1061.6 1786.9,1071.1 1790.9,1061.7 1794.8,1071 1798.7,1061.8 1802.6,1070.9 1806.5,1061.9 1810.4,1070.8 1814.3,1062 1818.2,1070.7 1822.1,1062.1 1826.1,1070.6 1830,1062.2 1833.9,1070.5 1837.8,1062.3 1841.7,1070.5 1845.6,1062.4 1849.5,1070.4 1853.4,1062.4 1857.3,1070.3 1861.2,1062.5 1865.2,1070.3 1869.1,1062.6 1873,1070.2 1876.9,1062.6 1880.8,1070.2 1884.7,1062.7 1888.6,1070.1 1892.5,1062.7 1896.4,1070 1900.4,1062.8 1904.3,1070 1908.2,1062.8 1912.1,1069.9 1916,1062.9 1919.9,1069.9 1923.8,1062.9 1927.7,1069.9 1931.6,1063 1935.6,1069.8 1939.5,1063 1943.4,1069.8 1947.3,1063 1951.2,1069.7 1955.1,1063.1 1959,1069.7 1962.9,1063.1 1966.8,1069.7 1970.7,1063.2" fill="none" stroke="#f70000" stroke-width="4.6" stroke-linejoin="round" stroke-linecap="round"/>
<rect x="1474" y="767.9" width="503.2" height="523" fill="none" stroke="#000" stroke-width="2.2" rx="2"/>
<text x="1465.5" y="777.1" text-anchor="end" font-family="'Liberation Sans', Arial, sans-serif" font-size="19" fill="#000" textLength="27.3" lengthAdjust="spacingAndGlyphs">400</text>
<text x="1465.5" y="851.1" text-anchor="end" font-family="'Liberation Sans', Arial, sans-serif" font-size="19" fill="#000" textLength="27.3" lengthAdjust="spacingAndGlyphs">300</text>
<text x="1465.5" y="925.1" text-anchor="end" font-family="'Liberation Sans', Arial, sans-serif" font-size="19" fill="#000" textLength="27.3" lengthAdjust="spacingAndGlyphs">200</text>
<text x="1465.5" y="999.1" text-anchor="end" font-family="'Liberation Sans', Arial, sans-serif" font-size="19" fill="#000" textLength="27.3" lengthAdjust="spacingAndGlyphs">100</text>
<text x="1465.5" y="1073.1" text-anchor="end" font-family="'Liberation Sans', Arial, sans-serif" font-size="19" fill="#000" textLength="9.1" lengthAdjust="spacingAndGlyphs">0</text>
<text x="1465.5" y="1147.1" text-anchor="end" font-family="'Liberation Sans', Arial, sans-serif" font-size="19" fill="#000" textLength="36.4" lengthAdjust="spacingAndGlyphs">-100</text>
<text x="1465.5" y="1221.1" text-anchor="end" font-family="'Liberation Sans', Arial, sans-serif" font-size="19" fill="#000" textLength="36.4" lengthAdjust="spacingAndGlyphs">-200</text>
<text x="1465.5" y="1295.1" text-anchor="end" font-family="'Liberation Sans', Arial, sans-serif" font-size="19" fill="#000" textLength="36.4" lengthAdjust="spacingAndGlyphs">-300</text>
<text x="1601.7" y="1313.9" text-anchor="middle" font-family="'Liberation Sans', Arial, sans-serif" font-size="19" fill="#000" textLength="36.4" lengthAdjust="spacingAndGlyphs">-100</text>
<text x="1725.8" y="1313.9" text-anchor="middle" font-family="'Liberation Sans', Arial, sans-serif" font-size="19" fill="#000" textLength="9.1" lengthAdjust="spacingAndGlyphs">0</text>
<text x="1849.9" y="1313.9" text-anchor="middle" font-family="'Liberation Sans', Arial, sans-serif" font-size="19" fill="#000" textLength="27.3" lengthAdjust="spacingAndGlyphs">100</text>
<text x="1974.1" y="1313.9" text-anchor="middle" font-family="'Liberation Sans', Arial, sans-serif" font-size="19" fill="#000" textLength="27.3" lengthAdjust="spacingAndGlyphs">200</text>
<path d="M1478.5 2020.7v4M1542.7 2020.7v4M1606.9 2020.7v4M1671.1 2020.7v4M1735.2 2020.7v4M1799.4 2020.7v4M1863.6 2020.7v4M1927.8 2020.7v4M1992 2020.7v4" stroke="#bbb" stroke-width="1.2" fill="none"/>
<path d="M1473.9 2016.5h-4M1473.9 1984.4h-4M1473.9 1952.4h-4M1473.9 1920.3h-4M1473.9 1888.2h-4M1473.9 1856.2h-4M1473.9 1824.1h-4M1473.9 1792h-4M1473.9 1760h-4M1473.9 1727.9h-4M1473.9 1695.8h-4M1473.9 1663.8h-4M1473.9 1631.7h-4M1473.9 1599.7h-4M1473.9 1567.6h-4M1473.9 1535.5h-4M1473.9 1503.5h-4" stroke="#bbb" stroke-width="1.2" fill="none"/>
<polyline points="1478.5,2009.2 1481.1,2009 1483.6,2008.7 1486.2,2008.5 1488.8,2008.2 1491.3,2008 1493.9,2007.7 1496.5,2007.4 1499,2007 1501.6,2006.7 1504.2,2006.3 1506.7,2005.9 1509.3,2005.4 1511.9,2004.9 1514.4,2004.3 1517,2003.7 1519.6,2003.1 1522.1,2002.4 1524.7,2001.5 1527.3,2000.6 1529.8,1999.6 1532.4,1998.4 1535,1997 1537.6,1995.4 1540.1,1993.6 1542.7,1991.3 1545.3,1988.6 1547.8,1985.2 1550.4,1981 1553,1975.3 1555.5,1967.5 1558.1,1956.1 1560.7,1937.9 1561.9,1924 1563.2,1904.3 1565.2,1852.8 1565.8,1824.1 1566.4,1784.5 1567.1,1728.2 1567.7,1647.5 1568.2,1566.9 1568.4,1546.9 1568.6,1512.4 1569,1489.4 1569.4,1511.6 1569.8,1564.5 1570.3,1643.7 1570.9,1724.1 1571.6,1780.8 1572.2,1820.7 1572.9,1849.8 1573.5,1871.7 1574.8,1902.1 1576.1,1922.2 1578.6,1946.8 1581.2,1961.3 1583.8,1970.8 1586.3,1977.6 1588.9,1982.6 1591.5,1986.4 1594,1989.5 1596.6,1992 1599.2,1994.1 1601.7,1995.8 1604.3,1997.3 1606.9,1998.6 1609.4,1999.8 1612,2000.8 1614.6,2001.7 1617.1,2002.4 1619.7,2003.2 1622.3,2003.8 1624.8,2004.4 1627.4,2004.9 1630,2005.4 1632.5,2005.9 1635.1,2006.3 1637.7,2006.6 1640.3,2007 1642.8,2007.3 1645.4,2007.6 1648,2007.9 1650.5,2008.2 1653.1,2008.5 1655.7,2008.7 1658.2,2008.9 1660.8,2009.1 1663.4,2009.3 1665.9,2009.5 1668.5,2009.7 1671.1,2009.9 1673.6,2010 1676.2,2010.2 1678.8,2010.3 1681.3,2010.5 1683.9,2010.6 1686.5,2010.7 1689,2010.9 1691.6,2011 1694.2,2011.1 1696.7,2011.2 1699.3,2011.3 1701.9,2011.4 1704.4,2011.5 1707,2011.6 1709.6,2011.7 1712.1,2011.8 1714.7,2011.9 1717.3,2011.9 1719.8,2012 1722.4,2012.1 1725,2012.2 1727.5,2012.2 1730.1,2012.3 1732.7,2012.4 1735.2,2012.4 1737.8,2012.5 1740.4,2012.6 1743,2012.6 1745.5,2012.7 1748.1,2012.7 1750.7,2012.8 1753.2,2012.8 1755.8,2012.9 1758.4,2012.9 1760.9,2013 1763.5,2013 1766.1,2013.1 1768.6,2013.1 1771.2,2013.2 1773.8,2013.2 1776.3,2013.2 1778.9,2013.3 1781.5,2013.3 1784,2013.4 1786.6,2013.4 1789.2,2013.4 1791.7,2013.5 1794.3,2013.5 1796.9,2013.5 1799.4,2013.6 1802,2013.6 1804.6,2013.6 1807.1,2013.7 1809.7,2013.7 1812.3,2013.7 1814.8,2013.7 1817.4,2013.8 1820,2013.8 1822.5,2013.8 1825.1,2013.9 1827.7,2013.9 1830.2,2013.9 1832.8,2013.9 1835.4,2014 1838,2014 1840.5,2014 1843.1,2014 1845.7,2014.1 1848.2,2014.1 1850.8,2014.1 1853.4,2014.1 1855.9,2014.1 1858.5,2014.2 1861.1,2014.2 1863.6,2014.2 1866.2,2014.2 1868.8,2014.2 1871.3,2014.3 1873.9,2014.3 1876.5,2014.3 1879,2014.3 1881.6,2014.3 1884.2,2014.4 1886.7,2014.4 1889.3,2014.4 1891.9,2014.4 1894.4,2014.4 1897,2014.4 1899.6,2014.5 1902.1,2014.5 1904.7,2014.5 1907.3,2014.5 1909.8,2014.5 1912.4,2014.5 1915,2014.5 1917.5,2014.6 1920.1,2014.6 1922.7,2014.6 1925.2,2014.6 1927.8,2014.6 1930.4,2014.6 1932.9,2014.6 1935.5,2014.7 1938.1,2014.7 1940.7,2014.7 1943.2,2014.7 1945.8,2014.7 1948.4,2014.7 1950.9,2014.7 1953.5,2014.7 1956.1,2014.8 1958.6,2014.8 1961.2,2014.8 1963.8,2014.8 1966.3,2014.8 1968.9,2014.8 1971.5,2014.8 1974,2014.8 1976.6,2014.8 1979.2,2014.8 1981.7,2014.8 1984.3,2014.8 1986.9,2014.8 1989.4,2014.8 1992,2014.8" fill="none" stroke="#f70000" stroke-width="4.4" stroke-linejoin="round" stroke-linecap="round"/>
<rect x="1475.4" y="1489" width="519.6" height="530.2" fill="none" stroke="#000" stroke-width="2.2" rx="2"/>
<text x="1466" y="1959.1" text-anchor="end" font-family="'Liberation Sans', Arial, sans-serif" font-size="19" fill="#000" textLength="24" lengthAdjust="spacingAndGlyphs">0.1</text>
<text x="1466" y="1895" text-anchor="end" font-family="'Liberation Sans', Arial, sans-serif" font-size="19" fill="#000" textLength="24" lengthAdjust="spacingAndGlyphs">0.2</text>
<text x="1466" y="1830.9" text-anchor="end" font-family="'Liberation Sans', Arial, sans-serif" font-size="19" fill="#000" textLength="24" lengthAdjust="spacingAndGlyphs">0.3</text>
<text x="1466" y="1766.7" text-anchor="end" font-family="'Liberation Sans', Arial, sans-serif" font-size="19" fill="#000" textLength="24" lengthAdjust="spacingAndGlyphs">0.4</text>
<text x="1466" y="1702.6" text-anchor="end" font-family="'Liberation Sans', Arial, sans-serif" font-size="19" fill="#000" textLength="24" lengthAdjust="spacingAndGlyphs">0.5</text>
<text x="1466" y="1638.5" text-anchor="end" font-family="'Liberation Sans', Arial, sans-serif" font-size="19" fill="#000" textLength="24" lengthAdjust="spacingAndGlyphs">0.6</text>
<text x="1466" y="1574.3" text-anchor="end" font-family="'Liberation Sans', Arial, sans-serif" font-size="19" fill="#000" textLength="24" lengthAdjust="spacingAndGlyphs">0.7</text>
<text x="1466" y="1510.2" text-anchor="end" font-family="'Liberation Sans', Arial, sans-serif" font-size="19" fill="#000" textLength="24" lengthAdjust="spacingAndGlyphs">0.8</text>
<text x="1478.5" y="2042.7" text-anchor="middle" font-family="'Liberation Sans', Arial, sans-serif" font-size="19" fill="#000" textLength="36.4" lengthAdjust="spacingAndGlyphs">-200</text>
<text x="1606.9" y="2042.7" text-anchor="middle" font-family="'Liberation Sans', Arial, sans-serif" font-size="19" fill="#000" textLength="36.4" lengthAdjust="spacingAndGlyphs">-100</text>
<text x="1735.2" y="2042.7" text-anchor="middle" font-family="'Liberation Sans', Arial, sans-serif" font-size="19" fill="#000" textLength="9.1" lengthAdjust="spacingAndGlyphs">0</text>
<text x="1863.6" y="2042.7" text-anchor="middle" font-family="'Liberation Sans', Arial, sans-serif" font-size="19" fill="#000" textLength="27.3" lengthAdjust="spacingAndGlyphs">100</text>
<text x="1992" y="2042.7" text-anchor="middle" font-family="'Liberation Sans', Arial, sans-serif" font-size="19" fill="#000" textLength="27.3" lengthAdjust="spacingAndGlyphs">200</text>
<path d="M1967.6 1478.3Q1975 1472 1977.2 1464.5" fill="none" stroke="#000" stroke-width="2" stroke-linecap="round"/>
<path d="M353 352L353 2.5M353 352L104 476.8M353 352L648 456M353 2.5L104 127.3M353 2.5L648 106.5M104 476.8L104 127.3M648 456L648 106.5M104 476.8L399 580.8M399 580.8L648 456" stroke="#000" stroke-width="2" fill="none"/>
<g stroke="#1a1a1a" stroke-width="0.8" stroke-linejoin="round"><path d="M342.5 61l12.5 22 10.5-6-12.5-22z" fill="#e7e"/><path d="M355 83l12-48 10.5-7-12 49z" fill="#637"/><path d="M332 67l12.5 22 10.5-6-12.5-22z" fill="#e7e"/><path d="M367 35l12.5-14.5 10.5-5-12.5 12.5z" fill="#637"/><path d="M344.5 89l12.5-46.5 10-7.5-12 48z" fill="#636"/><path d="M322 73l12 22.5 10.5-6.5-12.5-22z" fill="#e7e"/><path d="M379.5 20.5l12.5 260.5 10-22.5-12-243z" fill="#d7d"/><path d="M357 42.5l12-16.5 10.5-5.5-12.5 14.5zM334 95.5l12.5-46 10.5-7-12.5 46.5z" fill="#636"/><path d="M311.5 79.5l12.5 22 10-6-12-22.5z" fill="#e7d"/><path d="M392 281l12-233 10.5-7.5-12.5 218z" fill="#647"/><path d="M369 26l12.5 280 10.5-25-12.5-260.5z" fill="#d7d"/><path d="M346.5 49.5l12.5-18.5 10-5-12 16.5zM324 101.5l12-44.5 10.5-7.5-12.5 46z" fill="#636"/><path d="M301 85.5l12.5 22 10.5-6-12.5-22z" fill="#e7d"/><path d="M404 48l12.5 87.5 10.5-1.5-12.5-93.5z" fill="#d8d"/><path d="M381.5 306l12-250.5 10.5-7.5-12 233z" fill="#646"/><path d="M359 31l12 305 10.5-30-12.5-280z" fill="#d7c"/><path d="M336 57l12.5-20.5 10.5-5.5-12.5 18.5z" fill="#646"/><path d="M313.5 107.5l12-43.5 10.5-7-12 44.5z" fill="#636"/><path d="M291 91.5l12 22 10.5-6-12.5-22z" fill="#e7c"/><path d="M416.5 135.5l12-51 10.5-4.5-12 54z" fill="#647"/><path d="M393.5 55.5l12.5 81.5 10.5-1.5-12.5-87.5z" fill="#d8d"/><path d="M371 336l12.5-273 10-7.5-12 250.5z" fill="#646"/><path d="M348.5 36.5l12 324 10.5-24.5-12-305z" fill="#d7c"/><path d="M325.5 64l12.5-22 10.5-5.5-12.5 20.5z" fill="#646"/><path d="M303 113.5l12.5-42 10-7.5-12 43.5z" fill="#635"/><path d="M428.5 84.5l12.5 26 10.5-6.5-12.5-24z" fill="#e9f"/><path d="M280.5 98l12 22 10.5-6.5-12-22z" fill="#e7c"/><path d="M406 137l12.5-48 10-4.5-12 51z" fill="#646"/><path d="M383.5 63l12 75 10.5-1-12.5-81.5z" fill="#d8d"/><path d="M360.5 360.5l12.5-290 10.5-7.5-12.5 273z" fill="#646"/><path d="M338 42l12.5 335 10-16.5-12-324z" fill="#d7b"/><path d="M315.5 71.5l12-19 10.5-10.5-12.5 22z" fill="#645"/><path d="M441 110.5l12 15.5 10.5-4.5-12-17.5z" fill="#eaf"/><path d="M292.5 120l12.5-41.5 10.5-7-12.5 42z" fill="#635"/><path d="M418.5 89l12 28.5 10.5-7-12.5-26z" fill="#e9e"/><path d="M270 104l12.5 22 10-6-12-22z" fill="#e7b"/><path d="M395.5 138l12.5-44.5 10.5-4.5-12.5 48z" fill="#646"/><path d="M373 70.5l12 69 10.5-1.5-12-75z" fill="#d8c"/><path d="M350.5 377l12-299 10.5-7.5-12.5 290z" fill="#646"/><path d="M327.5 52.5l12.5 337.5 10.5-13-12.5-335z" fill="#d7b"/><path d="M453 126l12.5-20.5 10.5-4.5-12.5 20.5z" fill="#657"/><path d="M305 78.5l12-15.5 10.5-10.5-12 19z" fill="#645"/><path d="M430.5 117.5l12.5 13 10-4.5-12-15.5z" fill="#eae"/><path d="M282.5 126l12-40.5 10.5-7-12.5 41.5z" fill="#635"/><path d="M408 93.5l12 30.5 10.5-6.5-12-28.5z" fill="#e9e"/><path d="M259.5 110l12.5 22 10.5-6-12.5-22z" fill="#e7b"/><path d="M385 139.5l12.5-41 10.5-5-12.5 44.5z" fill="#646"/><path d="M362.5 78l12.5 62.5 10-1-12-69z" fill="#e8c"/><path d="M340 390l12-304 10.5-8-12 299z" fill="#645"/><path d="M465.5 105.5l12.5 17.5 10-6-12-16z" fill="#eaf"/><path d="M317 63l12.5 339.5 10.5-12.5-12.5-337.5z" fill="#d7a"/><path d="M443 130.5l12-20 10.5-5-12.5 20.5z" fill="#656"/><path d="M294.5 85.5l12.5-12 10-10.5-12 15.5z" fill="#645"/><path d="M420 124l12.5 10.5 10.5-4-12.5-13z" fill="#eae"/><path d="M272 132l12-40 10.5-6.5-12 40.5z" fill="#635"/><path d="M397.5 98.5l12.5 32.5 10-7-12-30.5z" fill="#e9d"/><path d="M249 116l12.5 22 10.5-6-12.5-22z" fill="#e7a"/><path d="M375 140.5l12-37 10.5-5-12.5 41z" fill="#646"/><path d="M352 86l12.5 55.5 10.5-1-12.5-62.5z" fill="#e8c"/><path d="M478 123l12 11.5 10.5-5-12.5-12.5z" fill="#ebf"/><path d="M329.5 402.5l12.5-308 10-8.5-12 304z" fill="#645"/><path d="M455 110.5l12.5 18.5 10.5-6-12.5-17.5z" fill="#eae"/><path d="M307 73.5l12 337.5 10.5-8.5-12.5-339.5z" fill="#d7a"/><path d="M432.5 134.5l12.5-19 10-5-12 20z" fill="#656"/><path d="M284 92l12.5-8.5 10.5-10-12.5 12z" fill="#645"/><path d="M410 131l12 8 10.5-4.5-12.5-10.5z" fill="#ead"/><path d="M261.5 138l12.5-40 10-6-12 40z" fill="#635"/><path d="M387 103.5l12.5 34 10.5-6.5-12.5-32.5z" fill="#e9d"/><path d="M239 122l12 22 10.5-6-12.5-22z" fill="#e7a"/><path d="M364.5 141.5l12.5-33 10-5-12 37z" fill="#645"/><path d="M490 134.5l12.5-11.5 10.5-5-12.5 11.5z" fill="#757"/><path d="M342 94.5l12 48.5 10.5-1.5-12.5-55.5z" fill="#e9b"/><path d="M467.5 129l12.5 10 10-4.5-12-11.5z" fill="#ebe"/><path d="M319 411l12.5-308 10.5-8.5-12.5 308z" fill="#645"/><path d="M445 115.5l12 20 10.5-6.5-12.5-18.5z" fill="#eae"/><path d="M296.5 83.5l12.5 332.5 10-5-12-337.5z" fill="#d79"/><path d="M422 139l12.5-18.5 10.5-5-12.5 19z" fill="#656"/><path d="M274 98l12-5 10.5-9.5-12.5 8.5z" fill="#e8a"/><path d="M399.5 137.5l12.5 5.5 10-4-12-8z" fill="#ead"/><path d="M251 144l12.5-39.5 10.5-6.5-12.5 40z" fill="#634"/><path d="M377 108.5l12 35.5 10.5-6.5-12.5-34z" fill="#eac"/><path d="M502.5 123l12 12.5 10.5-5.5-12-12z" fill="#fbf"/><path d="M228.5 128l12.5 22 10-6-12-22z" fill="#e79"/><path d="M354 143l12.5-29 10.5-5.5-12.5 33z" fill="#645"/><path d="M480 139l12-11 10.5-5-12.5 11.5z" fill="#756"/><path d="M331.5 103l12.5 41.5 10-1.5-12-48.5z" fill="#e9b"/><path d="M457 135.5l12.5 8 10.5-4.5-12.5-10z" fill="#ebe"/><path d="M309 416l12-304.5 10.5-8.5-12.5 308z" fill="#645"/><path d="M434.5 120.5l12 21 10.5-6-12-20z" fill="#ead"/><path d="M286 93l12.5 328.5 10.5-5.5-12.5-332.5z" fill="#d79"/><path d="M412 143l12-17.5 10.5-5-12.5 18.5z" fill="#756"/><path d="M263.5 104.5l12.5-2 10-9.5-12 5z" fill="#e8a"/><path d="M389 144l12.5 3 10.5-4-12.5-5.5z" fill="#eac"/><path d="M514.5 135.5l12.5 9.5 10.5-5-12.5-10z" fill="#fcf"/><path d="M241 150l12-40 10.5-5.5-12.5 39.5z" fill="#644"/><path d="M366.5 114l12 36.5 10.5-6.5-12-35.5z" fill="#eac"/><path d="M492 128l12.5 13.5 10-6-12-12.5z" fill="#fbe"/><path d="M218 134l12.5 22 10.5-6-12.5-22z" fill="#e89"/><path d="M344 144.5l12-25.5 10.5-5-12.5 29z" fill="#645"/><path d="M469.5 143.5l12-11 10.5-4.5-12 11z" fill="#756"/><path d="M321 111.5l12.5 34.5 10.5-1.5-12.5-41.5z" fill="#e9b"/><path d="M446.5 141.5l12.5 6.5 10.5-4.5-12.5-8z" fill="#fbd"/><path d="M298.5 421.5l12-301.5 10.5-8.5-12 304.5z" fill="#645"/><path d="M424 125.5l12.5 22 10-6-12-21z" fill="#ead"/><path d="M276 102.5l12 324 10.5-5-12.5-328.5z" fill="#d79"/><path d="M401.5 147l12-16.5 10.5-5-12 17.5z" fill="#755"/><path d="M527 145l12.5-7 10-5-12 7z" fill="#757"/><path d="M253 110l12.5 1.5 10.5-9-12.5 2z" fill="#e89"/><path d="M378.5 150.5l12.5 0.5 10.5-4-12.5-3z" fill="#eac"/><path d="M504.5 141.5l12 8 10.5-4.5-12.5-9.5z" fill="#fce"/><path d="M230.5 156l12-40.5 10.5-5.5-12 40z" fill="#644"/><path d="M356 119l12.5 38 10-6.5-12-36.5z" fill="#eab"/><path d="M481.5 132.5l12.5 15 10.5-6-12.5-13.5z" fill="#fbe"/><path d="M208 139.5l12 22.5 10.5-6-12.5-22z" fill="#e88"/><path d="M333.5 146l12-21 10.5-6-12 25.5z" fill="#645"/><path d="M459 148l12.5-10 10-5.5-12 11z" fill="#756"/><path d="M310.5 120l12.5 28 10.5-2-12.5-34.5z" fill="#e9a"/><path d="M436.5 147.5l12 5 10.5-4.5-12.5-6.5z" fill="#fbd"/><path d="M288 426.5l12.5-297.5 10-9-12 301.5z" fill="#644"/><path d="M413.5 130.5l12.5 23 10.5-6-12.5-22z" fill="#fbc"/><path d="M539.5 138l12 10.5 10.5-5.5-12.5-10z" fill="#fcf"/><path d="M265.5 111.5l12 318.5 10.5-3.5-12-324z" fill="#d78"/><path d="M391 151l12.5-15 10-5.5-12 16.5z" fill="#755"/><path d="M516.5 149.5l12.5-6.5 10.5-5-12.5 7z" fill="#756"/><path d="M242.5 115.5l12.5 4.5 10.5-8.5-12.5-1.5z" fill="#e89"/><path d="M368.5 157l12-2 10.5-4-12.5-0.5z" fill="#eab"/><path d="M494 147.5l12 7 10.5-5-12-8z" fill="#fce"/><path d="M220 162l12.5-41 10-5.5-12 40.5z" fill="#644"/><path d="M345.5 125l12.5 38.5 10.5-6.5-12.5-38z" fill="#eab"/><path d="M471.5 138l12 15 10.5-5.5-12.5-15z" fill="#fbd"/><path d="M197.5 145.5l12 22 10.5-5.5-12-22.5z" fill="#e88"/><path d="M323 148l12.5-17.5 10-5.5-12 21z" fill="#745"/><path d="M448.5 152.5l12.5-9.5 10.5-5-12.5 10z" fill="#756"/><path d="M300.5 129l12 21 10.5-2-12.5-28z" fill="#e9a"/><path d="M426 153.5l12 3.5 10.5-4.5-12-5z" fill="#fbc"/><path d="M551.5 148.5l12.5 8 10-5-12-8.5z" fill="#fdf"/><path d="M277.5 430l12.5-291 10.5-10-12.5 297.5z" fill="#744"/><path d="M403.5 136l12 23.5 10.5-6-12.5-23z" fill="#fbc"/><path d="M529 143l12 11 10.5-5.5-12-10.5z" fill="#fce"/><path d="M255 120l12.5 308.5 10 1.5-12-318.5z" fill="#d78"/><path d="M380.5 155l12.5-14 10.5-5-12.5 15z" fill="#755"/><path d="M506 154.5l12.5-6.5 10.5-5-12.5 6.5z" fill="#756"/><path d="M232.5 121l12 7.5 10.5-8.5-12.5-4.5z" fill="#e88"/><path d="M358 163.5l12-4.5 10.5-4-12 2z" fill="#eaa"/><path d="M483.5 153l12.5 6.5 10-5-12-7z" fill="#fcd"/><path d="M209.5 167.5l12.5-41 10.5-5.5-12.5 41z" fill="#743"/><path d="M335.5 130.5l12 39.5 10.5-6.5-12.5-38.5z" fill="#eaa"/><path d="M461 143l12 16 10.5-6-12-15z" fill="#fbd"/><path d="M187 151.5l12.5 22 10-6-12-22z" fill="#e87"/><path d="M312.5 150l12.5-13.5 10.5-6-12.5 17.5z" fill="#744"/><path d="M438 157l12.5-9 10.5-5-12.5 9.5z" fill="#756"/><path d="M564 156.5l12-4 10.5-5-12.5 4z" fill="#ede"/><path d="M290 139l12 13 10.5-2-12-21z" fill="#e99"/><path d="M415.5 159.5l12.5 2 10-4.5-12-3.5z" fill="#fbc"/><path d="M541 154l12.5 7.5 10.5-5-12.5-8z" fill="#fde"/><path d="M267.5 428.5l12-278 10.5-11.5-12.5 291z" fill="#744"/><path d="M393 141l12 24.5 10.5-6-12-23.5z" fill="#fbb"/><path d="M518.5 148l12.5 12 10-6-12-11z" fill="#fce"/><path d="M244.5 128.5l12.5 298.5 10.5 1.5-12.5-308.5z" fill="#d87"/><path d="M370 159l12.5-12.5 10.5-5.5-12.5 14z" fill="#755"/><path d="M496 159.5l12-6.5 10.5-5-12.5 6.5z" fill="#756"/><path d="M222 126.5l12 10.5 10.5-8.5-12-7.5z" fill="#e88"/><path d="M347.5 170l12.5-7 10-4-12 4.5z" fill="#d9a"/><path d="M473 159l12.5 5 10.5-4.5-12.5-6.5z" fill="#fcd"/><path d="M199.5 173.5l12-42 10.5-5-12.5 41z" fill="#743"/><path d="M325 136.5l12 39.5 10.5-6-12-39.5z" fill="#faa"/><path d="M450.5 148l12.5 17 10-6-12-16z" fill="#fcc"/><path d="M176.5 157l12.5 22 10.5-5.5-12.5-22z" fill="#e87"/><path d="M576 152.5l12.5 9 10.5-5.5-12.5-8.5z" fill="#fdf"/><path d="M302 152l12.5-9.5 10.5-6-12.5 13.5z" fill="#744"/><path d="M428 161.5l12-8 10.5-5.5-12.5 9z" fill="#755"/><path d="M553.5 161.5l12.5-4 10-5-12 4z" fill="#ede"/><path d="M279.5 150.5l12.5 4.5 10-3-12-13z" fill="#f99"/><path d="M405 165.5l12.5 0.5 10.5-4.5-12.5-2z" fill="#fbb"/><path d="M531 160l12 6 10.5-4.5-12.5-7.5z" fill="#fde"/><path d="M257 427l12-263.5 10.5-13-12 278z" fill="#744"/><path d="M382.5 146.5l12.5 25 10-6-12-24.5z" fill="#fbb"/><path d="M508 153l12.5 12.5 10.5-5.5-12.5-12z" fill="#fcd"/><path d="M234 137l12.5 288 10.5 2-12.5-298.5z" fill="#d87"/><path d="M360 163l12-11 10.5-5.5-12.5 12.5z" fill="#755"/><path d="M485.5 164l12.5-5.5 10-5.5-12 6.5z" fill="#ebc"/><path d="M211.5 131.5l12.5 13.5 10-8-12-10.5z" fill="#f87"/><path d="M337 176l12.5-9.5 10.5-3.5-12.5 7z" fill="#744"/><path d="M463 165l12 3.5 10.5-4.5-12.5-5z" fill="#fcc"/><path d="M189 179l12-42 10.5-5.5-12 42z" fill="#743"/><path d="M588.5 161.5l12.5 7 10-5-12-7.5z" fill="#fef"/><path d="M314.5 142.5l12.5 39.5 10-6-12-39.5z" fill="#fa9"/><path d="M440 153.5l12.5 17 10.5-5.5-12.5-17z" fill="#fcc"/><path d="M166 163l12.5 22 10.5-6-12.5-22z" fill="#f86"/><path d="M566 157.5l12 9.5 10.5-5.5-12.5-9z" fill="#fde"/><path d="M292 155l12-6 10.5-6.5-12.5 9.5z" fill="#744"/><path d="M417.5 166l12.5-7.5 10-5-12 8z" fill="#755"/><path d="M543 166l12.5-3.5 10.5-5-12.5 4z" fill="#edd"/><path d="M269 163.5l12.5-5.5 10.5-3-12.5-4.5z" fill="#f98"/><path d="M395 171.5l12-1 10.5-4.5-12.5-0.5z" fill="#fbb"/><path d="M520.5 165.5l12.5 5.5 10-5-12-6z" fill="#fdd"/><path d="M246.5 425l12.5-246 10-15.5-12 263.5z" fill="#744"/><path d="M372 152l12.5 25.5 10.5-6-12.5-25z" fill="#fba"/><path d="M498 158.5l12 12.5 10.5-5.5-12.5-12.5z" fill="#fcd"/><path d="M224 145l12 277 10.5 3-12.5-288z" fill="#d86"/><path d="M349.5 166.5l12.5-9 10-5.5-12 11z" fill="#754"/><path d="M475 168.5l12.5-5 10.5-5-12.5 5.5z" fill="#ebb"/><path d="M201 137l12.5 16.5 10.5-8.5-12.5-13.5z" fill="#f87"/><path d="M601 168.5l12-2 10.5-5-12.5 2z" fill="#fef"/><path d="M327 182l12-11.5 10.5-4-12.5 9.5z" fill="#754"/><path d="M452.5 170.5l12.5 3 10-5-12-3.5z" fill="#fcc"/><path d="M178.5 185l12.5-43 10-5-12 42z" fill="#743"/><path d="M578 167l12.5 6.5 10.5-5-12.5-7z" fill="#fee"/><path d="M304 149l12.5 39 10.5-6-12.5-39.5z" fill="#fa9"/><path d="M430 158.5l12 17.5 10.5-5.5-12.5-17z" fill="#fcb"/><path d="M156 168.5l12 22.5 10.5-6-12.5-22z" fill="#f86"/><path d="M555.5 162.5l12 10 10.5-5.5-12-9.5z" fill="#fde"/><path d="M281.5 158l12.5-2.5 10-6.5-12 6z" fill="#e98"/><path d="M407 170.5l12.5-6.5 10.5-5.5-12.5 7.5z" fill="#755"/><path d="M533 171l12-3.5 10.5-5-12.5 3.5z" fill="#edd"/><path d="M259 179l12-18 10.5-3-12.5 5.5z" fill="#744"/><path d="M384.5 177.5l12.5-2.5 10-4.5-12 1z" fill="#fba"/><path d="M510 171l12.5 5 10.5-5-12.5-5.5z" fill="#fdd"/><path d="M236 422l12.5-224 10.5-19-12.5 246z" fill="#743"/><path d="M362 157.5l12 25.5 10.5-5.5-12.5-25.5z" fill="#fba"/><path d="M487.5 163.5l12 13 10.5-5.5-12-12.5z" fill="#fdc"/><path d="M213.5 153.5l12.5 264.5 10 4-12-277z" fill="#d86"/><path d="M613 166.5l12.5 8 10-5.5-12-7.5z" fill="#fef"/><path d="M339 170.5l12.5-7 10.5-6-12.5 9z" fill="#754"/><path d="M465 173.5l12-4.5 10.5-5.5-12.5 5z" fill="#ecb"/><path d="M191 142l12 19.5 10.5-8-12.5-16.5z" fill="#f86"/><path d="M590.5 173.5l12-2 10.5-5-12 2z" fill="#fee"/><path d="M316.5 188l12.5-13.5 10-4-12 11.5z" fill="#754"/><path d="M442 176l12.5 2 10.5-4.5-12.5-3z" fill="#fcb"/><path d="M168 191l12.5-44 10.5-5-12.5 43z" fill="#743"/><path d="M567.5 172.5l12.5 6 10.5-5-12.5-6.5z" fill="#fee"/><path d="M294 155.5l12 38.5 10.5-6-12.5-39z" fill="#fa8"/><path d="M419.5 164l12 18 10.5-6-12-17.5z" fill="#fcb"/><path d="M145.5 174.5l12.5 22 10-5.5-12-22.5z" fill="#f85"/><path d="M545 167.5l12.5 10.5 10-5.5-12-10z" fill="#fdd"/><path d="M271 161l12.5 1 10.5-6.5-12.5 2.5z" fill="#f98"/><path d="M397 175l12-5.5 10.5-5.5-12.5 6.5z" fill="#755"/><path d="M522.5 176l12-3 10.5-5.5-12 3.5z" fill="#edc"/><path d="M248.5 198l12.5-33.5 10-3.5-12 18z" fill="#743"/><path d="M374 183l12.5-4 10.5-4-12.5 2.5z" fill="#eba"/><path d="M499.5 176.5l12.5 4.5 10.5-5-12.5-5z" fill="#fdc"/><path d="M226 418l12-199 10.5-21-12.5 224z" fill="#743"/><path d="M625.5 174.5l12 6.5 10.5-5-12.5-7z" fill="#fff"/><path d="M351.5 163.5l12 25.5 10.5-6-12-25.5z" fill="#fb9"/><path d="M477 169l12.5 13.5 10-6-12-13z" fill="#fdc"/><path d="M203 161.5l12.5 250.5 10.5 6-12.5-264.5z" fill="#d86"/><path d="M602.5 171.5l12.5 8 10.5-5-12.5-8z" fill="#fee"/><path d="M329 174.5l12-5 10.5-6-12.5 7z" fill="#754"/><path d="M454.5 178l12-4 10.5-5-12 4.5z" fill="#ecb"/><path d="M180.5 147l12.5 22.5 10-8-12-19.5z" fill="#f86"/><path d="M580 178.5l12.5-2 10-5-12 2z" fill="#fee"/><path d="M306 194l12.5-16 10.5-3.5-12.5 13.5z" fill="#754"/><path d="M431.5 182l12.5 0.5 10.5-4.5-12.5-2z" fill="#fcb"/><path d="M158 196.5l12-44.5 10.5-5-12.5 44z" fill="#742"/><path d="M557.5 178l12 5.5 10.5-5-12.5-6z" fill="#fed"/><path d="M283.5 162l12 37.5 10.5-5.5-12-38.5z" fill="#fa8"/><path d="M409 169.5l12.5 18 10-5.5-12-18z" fill="#fca"/><path d="M135 180l12.5 22 10.5-5.5-12.5-22z" fill="#f85"/><path d="M534.5 173l12.5 10.5 10.5-5.5-12.5-10.5z" fill="#fdd"/><path d="M261 164.5l12 4 10.5-6.5-12.5-1z" fill="#fa7"/><path d="M386.5 179l12-4 10.5-5.5-12 5.5z" fill="#eb9"/><path d="M512 181l12.5-3 10-5-12 3z" fill="#edc"/><path d="M238 219l12.5-51 10.5-3.5-12.5 33.5z" fill="#743"/><path d="M363.5 189l12.5-5.5 10.5-4.5-12.5 4z" fill="#ea9"/><path d="M489.5 182.5l12 3 10.5-4.5-12.5-4.5z" fill="#fdc"/><path d="M215.5 412l12-171.5 10.5-21.5-12 199z" fill="#743"/><path d="M615 179.5l12 6.5 10.5-5-12-6.5z" fill="#ffe"/><path d="M341 169.5l12.5 25 10-5.5-12-25.5z" fill="#fb9"/><path d="M466.5 174l12.5 14 10.5-5.5-12.5-13.5z" fill="#fdb"/><path d="M193 169.5l12 235.5 10.5 7-12.5-250.5z" fill="#d85"/><path d="M592.5 176.5l12 8.5 10.5-5.5-12.5-8z" fill="#fee"/><path d="M318.5 178l12-3 10.5-5.5-12 5z" fill="#ea8"/><path d="M444 182.5l12.5-3 10-5.5-12 4z" fill="#eca"/><path d="M170 152l12.5 25.5 10.5-8-12.5-22.5z" fill="#f85"/><path d="M569.5 183.5l12.5-2 10.5-5-12.5 2z" fill="#fed"/><path d="M295.5 199.5l12.5-17.5 10.5-4-12.5 16z" fill="#754"/><path d="M421.5 187.5l12 0 10.5-5-12.5-0.5z" fill="#fca"/><path d="M147.5 202l12-45 10.5-5-12 44.5z" fill="#742"/><path d="M547 183.5l12 5 10.5-5-12-5.5z" fill="#fed"/><path d="M273 168.5l12.5 36.5 10-5.5-12-37.5z" fill="#fa7"/><path d="M398.5 175l12.5 18 10.5-5.5-12.5-18z" fill="#fca"/><path d="M125 186l12 22 10.5-6-12.5-22z" fill="#f84"/><path d="M524.5 178l12 11 10.5-5.5-12.5-10.5z" fill="#fec"/><path d="M250.5 168l12 7 10.5-6.5-12-4z" fill="#fa7"/><path d="M376 183.5l12.5-3 10-5.5-12 4z" fill="#eb9"/><path d="M501.5 185.5l12.5-2 10.5-5.5-12.5 3z" fill="#fdc"/><path d="M227.5 240.5l12.5-69 10.5-3.5-12.5 51z" fill="#743"/><path d="M353.5 194.5l12-6.5 10.5-4.5-12.5 5.5z" fill="#754"/><path d="M479 188l12 2.5 10.5-5-12-3z" fill="#fdb"/><path d="M205 405l12.5-143.5 10-21-12 171.5z" fill="#743"/><path d="M604.5 185l12.5 6 10-5-12-6.5z" fill="#ffe"/><path d="M330.5 175l12.5 25 10.5-5.5-12.5-25z" fill="#fb8"/><path d="M456.5 179.5l12 14 10.5-5.5-12.5-14z" fill="#fdb"/><path d="M182.5 177.5l12 219.5 10.5 8-12-235.5z" fill="#d85"/><path d="M582 181.5l12 9 10.5-5.5-12-8.5z" fill="#fed"/><path d="M308 182l12.5-1 10-6-12 3z" fill="#ea8"/><path d="M433.5 187.5l12.5-3 10.5-5-12.5 3z" fill="#eca"/><path d="M159.5 157l12.5 28 10.5-7.5-12.5-25.5z" fill="#f85"/><path d="M559 188.5l12.5-1.5 10.5-5.5-12.5 2z" fill="#fed"/><path d="M285.5 205l12-19 10.5-4-12.5 17.5z" fill="#753"/><path d="M411 193l12-1 10.5-4.5-12 0z" fill="#fca"/><path d="M137 208l12.5-45.5 10-5.5-12 45z" fill="#742"/><path d="M536.5 189l12.5 4 10-4.5-12-5z" fill="#fec"/><path d="M262.5 175l12.5 35.5 10.5-5.5-12.5-36.5z" fill="#fa7"/><path d="M388.5 180.5l12 18 10.5-5.5-12.5-18z" fill="#fc9"/><path d="M114.5 191.5l12 22.5 10.5-6-12-22z" fill="#f84"/><path d="M514 183.5l12 11 10.5-5.5-12-11z" fill="#fec"/><path d="M240 171.5l12.5 10.5 10-7-12-7z" fill="#fa6"/><path d="M365.5 188l12.5-2 10.5-5.5-12.5 3z" fill="#eb9"/><path d="M491 190.5l12.5-2 10.5-5-12.5 2z" fill="#fdb"/><path d="M217.5 261.5l12-86 10.5-4-12.5 69z" fill="#743"/><path d="M343 200l12-8 10.5-4-12 6.5z" fill="#754"/><path d="M468.5 193.5l12.5 1.5 10-4.5-12-2.5z" fill="#fdb"/><path d="M194.5 397l12.5-116.5 10.5-19-12.5 143.5z" fill="#742"/><path d="M594 190.5l12.5 5.5 10.5-5-12.5-6z" fill="#ffd"/><path d="M320.5 181l12 24.5 10.5-5.5-12.5-25z" fill="#fb8"/><path d="M446 184.5l12 14.5 10.5-5.5-12-14z" fill="#fda"/><path d="M172 185l12.5 202 10 10-12-219.5z" fill="#d84"/><path d="M571.5 187l12.5 9 10-5.5-12-9z" fill="#fed"/><path d="M297.5 186l12.5 1 10.5-6-12.5 1z" fill="#fa7"/><path d="M423 192l12.5-2 10.5-5.5-12.5 3z" fill="#fca"/><path d="M149.5 162.5l12 30.5 10.5-8-12.5-28z" fill="#f84"/><path d="M549 193l12-1 10.5-5-12.5 1.5z" fill="#fec"/><path d="M275 210.5l12-20.5 10.5-4-12 19z" fill="#753"/><path d="M400.5 198.5l12.5-2 10-4.5-12 1z" fill="#fc9"/><path d="M126.5 214l12.5-46.5 10.5-5-12.5 45.5z" fill="#742"/><path d="M526 194.5l12.5 3.5 10.5-5-12.5-4z" fill="#fec"/><path d="M252.5 182l12 34 10.5-5.5-12.5-35.5z" fill="#fa6"/><path d="M378 186l12 18.5 10.5-6-12-18z" fill="#fc9"/><path d="M104 197.5l12.5 22 10-5.5-12-22.5z" fill="#f83"/><path d="M503.5 188.5l12.5 11.5 10-5.5-12-11z" fill="#feb"/><path d="M229.5 175.5l12.5 13.5 10.5-7-12.5-10.5z" fill="#fa6"/><path d="M355 192l12.5-0.5 10.5-5.5-12.5 2z" fill="#fb8"/><path d="M481 195l12-1 10.5-5.5-12.5 2z" fill="#fdb"/><path d="M207 280.5l12-101 10.5-4-12 86z" fill="#742"/><path d="M332.5 205.5l12.5-9 10-4.5-12 8z" fill="#754"/><path d="M458 199l12.5 1 10.5-5-12.5-1.5z" fill="#fda"/><path d="M184.5 387l12-88 10.5-18.5-12.5 116.5z" fill="#742"/><path d="M584 196l12 5 10.5-5-12.5-5.5z" fill="#ffd"/><path d="M310 187l12 24 10.5-5.5-12-24.5z" fill="#fb7"/><path d="M435.5 190l12.5 14.5 10-5.5-12-14.5z" fill="#fda"/><path d="M161.5 193l12.5 182.5 10.5 11.5-12.5-202z" fill="#d84"/><path d="M561 192l12.5 9.5 10.5-5.5-12.5-9z" fill="#ffc"/><path d="M287 190l12.5 3.5 10.5-6.5-12.5-1z" fill="#fa7"/><path d="M413 196.5l12-1 10.5-5.5-12.5 2z" fill="#fc9"/><path d="M139 167.5l12 33.5 10.5-8-12-30.5z" fill="#f94"/><path d="M538.5 198l12.5-1 10-5-12 1z" fill="#fec"/><path d="M264.5 216l12.5-22 10-4-12 20.5z" fill="#753"/><path d="M390 204.5l12.5-3.5 10.5-4.5-12.5 2z" fill="#ec9"/><path d="M116.5 219.5l12-47 10.5-5-12.5 46.5z" fill="#742"/><path d="M516 200l12 3 10.5-5-12.5-3.5z" fill="#feb"/><path d="M242 189l12 32 10.5-5-12-34z" fill="#fa6"/><path d="M367.5 191.5l12.5 18 10-5-12-18.5z" fill="#fc8"/><path d="M493 194l12.5 11.5 10.5-5.5-12.5-11.5z" fill="#feb"/><path d="M219 179.5l12.5 16.5 10.5-7-12.5-13.5z" fill="#fa5"/><path d="M345 196.5l12 1 10.5-6-12.5 0.5z" fill="#fb8"/><path d="M470.5 200l12.5-1 10-5-12 1z" fill="#fda"/><path d="M196.5 299l12.5-116 10-3.5-12 101z" fill="#742"/><path d="M322 211l12.5-10 10.5-4.5-12.5 9z" fill="#753"/><path d="M448 204.5l12 0 10.5-4.5-12.5-1z" fill="#fda"/><path d="M174 375.5l12-58 10.5-18.5-12 88z" fill="#742"/><path d="M573.5 201.5l12.5 4.5 10-5-12-5z" fill="#ffc"/><path d="M299.5 193.5l12.5 23 10-5.5-12-24z" fill="#fb7"/><path d="M425 195.5l12.5 14.5 10.5-5.5-12.5-14.5z" fill="#fd9"/><path d="M151 201l12.5 162.5 10.5 12-12.5-182.5z" fill="#d83"/><path d="M551 197l12 10 10.5-5.5-12.5-9.5z" fill="#ffc"/><path d="M277 194l12 5.5 10.5-6-12.5-3.5z" fill="#fb6"/><path d="M402.5 201l12.5 0 10-5.5-12 1z" fill="#fc9"/><path d="M128.5 172.5l12.5 36 10-7.5-12-33.5z" fill="#f93"/><path d="M528 203l12.5-0.5 10.5-5.5-12.5 1z" fill="#feb"/><path d="M254 221l12.5-23 10.5-4-12.5 22z" fill="#753"/><path d="M380 209.5l12-4 10.5-4.5-12.5 3.5z" fill="#ec8"/><path d="M505.5 205.5l12.5 2.5 10-5-12-3z" fill="#feb"/><path d="M231.5 196l12.5 30 10-5-12-32z" fill="#fa5"/><path d="M357 197.5l12.5 17.5 10.5-5.5-12.5-18z" fill="#fc8"/><path d="M483 199l12 12 10.5-5.5-12.5-11.5z" fill="#fea"/><path d="M209 183l12 20 10.5-7-12.5-16.5z" fill="#fa5"/><path d="M334.5 201l12.5 2 10-5.5-12-1z" fill="#fb7"/><path d="M460 204.5l12.5 0 10.5-5.5-12.5 1z" fill="#fda"/><path d="M186 317.5l12.5-130.5 10.5-4-12.5 116z" fill="#742"/><path d="M312 216.5l12-11 10.5-4.5-12.5 10z" fill="#753"/><path d="M437.5 210l12.5-0.5 10-5-12 0z" fill="#fd9"/><path d="M163.5 363.5l12.5-28 10-18-12 58z" fill="#742"/><path d="M563 207l12.5 4 10.5-5-12.5-4.5z" fill="#ffc"/><path d="M289 199.5l12.5 22 10.5-5-12.5-23z" fill="#fb6"/><path d="M415 201l12 14.5 10.5-5.5-12.5-14.5z" fill="#fd9"/><path d="M141 208.5l12 143 10.5 12-12.5-162.5z" fill="#d83"/><path d="M540.5 202.5l12 10 10.5-5.5-12-10z" fill="#ffb"/><path d="M266.5 198l12.5 7.5 10-6-12-5.5z" fill="#fb6"/><path d="M392 205.5l12.5 1 10.5-5.5-12.5 0z" fill="#fc8"/><path d="M518 208l12 0 10.5-5.5-12.5 0.5z" fill="#feb"/><path d="M244 226l12-24 10.5-4-12.5 23z" fill="#752"/><path d="M369.5 215l12.5-4.5 10-5-12 4z" fill="#eb8"/><path d="M495 211l12.5 2 10.5-5-12.5-2.5z" fill="#fea"/><path d="M221 203l12.5 28 10.5-5-12.5-30z" fill="#fa5"/><path d="M347 203l12 17.5 10.5-5.5-12.5-17.5z" fill="#fc7"/><path d="M472.5 204.5l12 12 10.5-5.5-12-12z" fill="#fea"/><path d="M198.5 187l12.5 23 10-7-12-20z" fill="#fa4"/><path d="M324 205.5l12.5 3.5 10.5-6-12.5-2z" fill="#fb7"/><path d="M450 209.5l12 0.5 10.5-5.5-12.5 0z" fill="#fd9"/><path d="M176 335.5l12-145 10.5-3.5-12.5 130.5z" fill="#742"/><path d="M301.5 221.5l12.5-11.5 10-4.5-12 11z" fill="#753"/><path d="M427 215.5l12.5-1 10.5-5-12.5 0.5z" fill="#fd9"/><path d="M153 351.5l12.5 2.5 10.5-18.5-12.5 28z" fill="#742"/><path d="M552.5 212.5l12.5 3.5 10.5-5-12.5-4z" fill="#ffb"/><path d="M279 205.5l12 21.5 10.5-5.5-12.5-22z" fill="#fb6"/><path d="M404.5 206.5l12 14 10.5-5-12-14.5z" fill="#fd8"/><path d="M530 208l12.5 10 10-5.5-12-10z" fill="#ffb"/><path d="M256 202l12.5 10 10.5-6.5-12.5-7.5z" fill="#fb5"/><path d="M382 210.5l12 1.5 10.5-5.5-12.5-1z" fill="#fc8"/><path d="M507.5 213l12 0 10.5-5-12 0z" fill="#fea"/><path d="M233.5 231l12.5-24.5 10-4.5-12 24z" fill="#752"/><path d="M359 220.5l12.5-5.5 10.5-4.5-12.5 4.5z" fill="#eb7"/><path d="M484.5 216.5l12.5 1 10.5-4.5-12.5-2z" fill="#fea"/><path d="M211 210l12 25.5 10.5-4.5-12.5-28z" fill="#fa4"/><path d="M336.5 209l12 16.5 10.5-5-12-17.5z" fill="#fc7"/><path d="M462 210l12.5 12 10-5.5-12-12z" fill="#fe9"/><path d="M188 190.5l12.5 26.5 10.5-7-12.5-23z" fill="#fa4"/><path d="M314 210l12 4.5 10.5-5.5-12.5-3.5z" fill="#fb6"/><path d="M439.5 214.5l12 1 10.5-5.5-12-0.5z" fill="#fd9"/><path d="M165.5 354l12.5-160 10-3.5-12 145z" fill="#742"/><path d="M291 227l12.5-12.5 10.5-4.5-12.5 11.5z" fill="#753"/><path d="M416.5 220.5l12.5-1.5 10.5-4.5-12.5 1z" fill="#fd8"/><path d="M542.5 218l12 2.5 10.5-4.5-12.5-3.5z" fill="#ffb"/><path d="M268.5 212l12 20 10.5-5-12-21.5z" fill="#fb5"/><path d="M394 212l12.5 14 10-5.5-12-14z" fill="#fd8"/><path d="M519.5 213l12.5 10.5 10.5-5.5-12.5-10z" fill="#ffa"/><path d="M246 206.5l12 11.5 10.5-6-12.5-10z" fill="#fb5"/><path d="M371.5 215l12 2.5 10.5-5.5-12-1.5z" fill="#fc7"/><path d="M497 217.5l12.5 1 10-5.5-12 0z" fill="#fea"/><path d="M223 235.5l12.5-25 10.5-4-12.5 24.5z" fill="#752"/><path d="M348.5 225.5l12.5-6 10.5-4.5-12.5 5.5z" fill="#eb7"/><path d="M474.5 222l12 0.5 10.5-5-12.5-1z" fill="#fe9"/><path d="M200.5 217l12 23 10.5-4.5-12-25.5z" fill="#fa4"/><path d="M326 214.5l12.5 16.5 10-5.5-12-16.5z" fill="#fc7"/><path d="M451.5 215.5l12.5 11.5 10.5-5-12.5-12z" fill="#fe9"/><path d="M178 194l12 30 10.5-7-12.5-26.5z" fill="#fa3"/><path d="M303.5 214.5l12 6 10.5-6-12-4.5z" fill="#fb6"/><path d="M429 219l12.5 1.5 10-5-12-1z" fill="#fd9"/><path d="M280.5 232l12.5-13 10.5-4.5-12.5 12.5z" fill="#752"/><path d="M406.5 226l12-2 10.5-5-12.5 1.5z" fill="#fd8"/><path d="M532 223.5l12 2 10.5-5-12-2.5z" fill="#ffa"/><path d="M258 218l12.5 19 10-5-12-20z" fill="#fb5"/><path d="M383.5 217.5l12.5 14 10.5-5.5-12.5-14z" fill="#fd8"/><path d="M509.5 218.5l12 10 10.5-5-12.5-10.5z" fill="#ffa"/><path d="M235.5 210.5l12 14 10.5-6.5-12-11.5z" fill="#fb5"/><path d="M361 219.5l12.5 4 10-6-12-2.5z" fill="#fc7"/><path d="M486.5 222.5l12.5 1 10.5-5-12.5-1z" fill="#fea"/><path d="M212.5 240l12.5-25 10.5-4.5-12.5 25z" fill="#752"/><path d="M338.5 231l12-6.5 10.5-5-12.5 6z" fill="#753"/><path d="M464 227l12 0.5 10.5-5-12-0.5z" fill="#fe9"/><path d="M190 224l12.5 20.5 10-4.5-12-23z" fill="#fa3"/><path d="M315.5 220.5l12.5 15.5 10.5-5-12.5-16.5z" fill="#fc6"/><path d="M441.5 220.5l12 12 10.5-5.5-12.5-11.5z" fill="#fe9"/><path d="M293 219l12.5 7.5 10-6-12-6z" fill="#fb6"/><path d="M418.5 224l12.5 2 10.5-5.5-12.5-1.5z" fill="#fd8"/><path d="M270.5 237l12-13.5 10.5-4.5-12.5 13z" fill="#752"/><path d="M396 231.5l12-3 10.5-4.5-12 2z" fill="#fd7"/><path d="M521.5 228.5l12.5 2 10-5-12-2z" fill="#ffa"/><path d="M247.5 224.5l12.5 17.5 10.5-5-12.5-19z" fill="#fb5"/><path d="M373.5 223.5l12 13 10.5-5-12.5-14z" fill="#fd7"/><path d="M499 223.5l12 10.5 10.5-5.5-12-10z" fill="#ffa"/><path d="M225 215l12.5 16 10-6.5-12-14z" fill="#fb4"/><path d="M350.5 224.5l12.5 4.5 10.5-5.5-12.5-4z" fill="#fc7"/><path d="M476 227.5l12.5 1.5 10.5-5.5-12.5-1z" fill="#fe9"/><path d="M202.5 244.5l12-25 10.5-4.5-12.5 25z" fill="#752"/><path d="M328 236l12-7 10.5-4.5-12 6.5z" fill="#753"/><path d="M453.5 232.5l12.5-0.5 10-4.5-12-0.5z" fill="#fe9"/><path d="M305.5 226.5l12 14.5 10.5-5-12.5-15.5z" fill="#fc6"/><path d="M431 226l12 12 10.5-5.5-12-12z" fill="#fe8"/><path d="M282.5 223.5l12.5 9 10.5-6-12.5-7.5z" fill="#fc5"/><path d="M408 228.5l12.5 3 10.5-5.5-12.5-2z" fill="#fd8"/><path d="M260 242l12-14 10.5-4.5-12 13.5z" fill="#752"/><path d="M385.5 236.5l12.5-3 10-5-12 3z" fill="#ed7"/><path d="M511 234l12.5 1.5 10.5-5-12.5-2z" fill="#ffa"/><path d="M237.5 231l12 15.5 10.5-4.5-12.5-17.5z" fill="#fb4"/><path d="M363 229l12 13 10.5-5.5-12-13z" fill="#fd7"/><path d="M488.5 229l12.5 10.5 10-5.5-12-10.5z" fill="#ff9"/><path d="M214.5 219.5l12.5 17.5 10.5-6-12.5-16z" fill="#fb4"/><path d="M340 229l12.5 5.5 10.5-5.5-12.5-4.5z" fill="#fc6"/><path d="M466 232l12 2.5 10.5-5.5-12.5-1.5z" fill="#fe9"/><path d="M317.5 241l12.5-7.5 10-4.5-12 7z" fill="#753"/><path d="M443 238l12.5-1 10.5-5-12.5 0.5z" fill="#fe8"/><path d="M295 232.5l12 14 10.5-5.5-12-14.5z" fill="#fc5"/><path d="M420.5 231.5l12.5 11.5 10-5-12-12z" fill="#fe8"/><path d="M272 228l12.5 10.5 10.5-6-12.5-9z" fill="#fc5"/><path d="M398 233.5l12 3.5 10.5-5.5-12.5-3z" fill="#fd7"/><path d="M249.5 246.5l12.5-14 10-4.5-12 14z" fill="#752"/><path d="M375 242l12.5-4 10.5-4.5-12.5 3z" fill="#ed6"/><path d="M501 239.5l12 1 10.5-5-12.5-1.5z" fill="#ff9"/><path d="M227 237l12 14.5 10.5-5-12-15.5z" fill="#fb4"/><path d="M352.5 234.5l12.5 12.5 10-5-12-13z" fill="#fd6"/><path d="M478 234.5l12.5 10 10.5-5-12.5-10.5z" fill="#ff9"/><path d="M330 233.5l12 7 10.5-6-12.5-5.5z" fill="#fc6"/><path d="M455.5 237l12.5 3 10-5.5-12-2.5z" fill="#fe8"/><path d="M307 246.5l12.5-8 10.5-5-12.5 7.5z" fill="#752"/><path d="M433 243l12-1 10.5-5-12.5 1z" fill="#fe8"/><path d="M284.5 238.5l12.5 13 10-5-12-14z" fill="#fc5"/><path d="M410 237l12.5 11.5 10.5-5.5-12.5-11.5z" fill="#fe7"/><path d="M262 232.5l12 12 10.5-6-12.5-10.5z" fill="#fc4"/><path d="M387.5 238l12.5 4.5 10-5.5-12-3.5z" fill="#fd7"/><path d="M239 251.5l12.5-14 10.5-5-12.5 14z" fill="#752"/><path d="M365 247l12-4 10.5-5-12.5 4z" fill="#ec6"/><path d="M490.5 244.5l12.5 1 10-5-12-1z" fill="#ff9"/><path d="M342 240.5l12.5 11.5 10.5-5-12.5-12.5z" fill="#fd6"/><path d="M468 240l12 10 10.5-5.5-12.5-10z" fill="#ff8"/><path d="M319.5 238.5l12.5 7.5 10-5.5-12-7z" fill="#fc5"/><path d="M445 242l12.5 3.5 10.5-5.5-12.5-3z" fill="#fe8"/><path d="M297 251.5l12-8 10.5-5-12.5 8z" fill="#752"/><path d="M422.5 248.5l12.5-1.5 10-5-12 1z" fill="#fe7"/><path d="M274 244.5l12.5 12 10.5-5-12.5-13z" fill="#fc4"/><path d="M400 242.5l12 11 10.5-5-12.5-11.5z" fill="#fe7"/><path d="M251.5 237.5l12.5 12.5 10-5.5-12-12z" fill="#fc4"/><path d="M377 243l12.5 5.5 10.5-6-12.5-4.5z" fill="#fd6"/><path d="M354.5 252l12.5-4 10-5-12 4z" fill="#ec5"/><path d="M480 250l12.5 0.5 10.5-5-12.5-1z" fill="#ff8"/><path d="M332 246l12 11.5 10.5-5.5-12.5-11.5z" fill="#fd5"/><path d="M457.5 245.5l12 10 10.5-5.5-12-10z" fill="#ff8"/><path d="M309 243.5l12.5 8.5 10.5-6-12.5-7.5z" fill="#fc5"/><path d="M435 247l12 4 10.5-5.5-12.5-3.5z" fill="#fe7"/><path d="M286.5 256.5l12.5-8.5 10-4.5-12 8z" fill="#752"/><path d="M412 253.5l12.5-1.5 10.5-5-12.5 1.5z" fill="#fe7"/><path d="M264 250l12 11 10.5-4.5-12.5-12z" fill="#fc4"/><path d="M389.5 248.5l12 10.5 10.5-5.5-12-11z" fill="#fe6"/><path d="M367 248l12 6 10.5-5.5-12.5-5.5z" fill="#fd6"/><path d="M344 257.5l12.5-4.5 10.5-5-12.5 4z" fill="#ec5"/><path d="M469.5 255.5l12.5-0.5 10.5-4.5-12.5-0.5z" fill="#ff8"/><path d="M321.5 252l12 10.5 10.5-5-12-11.5z" fill="#fd5"/><path d="M447 251l12.5 9.5 10-5-12-10z" fill="#ff7"/><path d="M299 248l12 9.5 10.5-5.5-12.5-8.5z" fill="#fc4"/><path d="M424.5 252l12 4 10.5-5-12-4z" fill="#fe7"/><path d="M276 261l12.5-8 10.5-5-12.5 8.5z" fill="#752"/><path d="M401.5 259l12.5-2.5 10.5-4.5-12.5 1.5zM379 254l12.5 10 10-5-12-10.5z" fill="#fe6"/><path d="M356.5 253l12 6.5 10.5-5.5-12-6z" fill="#fd5"/><path d="M333.5 262.5l12.5-5 10.5-4.5-12.5 4.5z" fill="#ec4"/><path d="M459.5 260.5l12-0.5 10.5-5-12.5 0.5z" fill="#ff7"/><path d="M311 257.5l12.5 10 10-5-12-10.5z" fill="#fd4"/><path d="M436.5 256l12.5 9.5 10.5-5-12.5-9.5z" fill="#ff7"/><path d="M288.5 253l12 10 10.5-5.5-12-9.5z" fill="#fc4"/><path d="M414 256.5l12.5 5 10-5.5-12-4zM391.5 264l12-2.5 10.5-5-12.5 2.5z" fill="#fe6"/><path d="M368.5 259.5l12.5 9.5 10.5-5-12.5-10z" fill="#fe5"/><path d="M346 257.5l12.5 7.5 10-5.5-12-6.5z" fill="#fd5"/><path d="M323.5 267.5l12-5 10.5-5-12.5 5z" fill="#ec4"/><path d="M449 265.5l12-0.5 10.5-5-12 0.5z" fill="#ff7"/><path d="M300.5 263l12.5 9.5 10.5-5-12.5-10z" fill="#fd4"/><path d="M426.5 261.5l12 9.5 10.5-5.5-12.5-9.5z" fill="#ff6"/><path d="M403.5 261.5l12.5 5.5 10.5-5.5-12.5-5z" fill="#fe6"/><path d="M381 269l12-2.5 10.5-5-12 2.5zM358.5 265l12 9 10.5-5-12.5-9.5z" fill="#fe5"/><path d="M335.5 262.5l12.5 8 10.5-5.5-12.5-7.5z" fill="#fd4"/><path d="M313 272.5l12-5 10.5-5-12 5z" fill="#ec4"/><path d="M438.5 271l12.5-1 10-5-12 0.5zM416 267l12 9 10.5-5-12-9.5z" fill="#ff6"/><path d="M393 266.5l12.5 6 10.5-5.5-12.5-5.5zM370.5 274l12.5-2.5 10-5-12 2.5z" fill="#fe5"/><path d="M348 270.5l12 8.5 10.5-5-12-9z" fill="#fe4"/><path d="M325 267.5l12.5 8.5 10.5-5.5-12.5-8z" fill="#fd4"/><path d="M428 276l12.5-1 10.5-5-12.5 1z" fill="#ff6"/><path d="M405.5 272.5l12.5 8.5 10-5-12-9z" fill="#ff5"/><path d="M383 271.5l12 6.5 10.5-5.5-12.5-6z" fill="#fe5"/><path d="M360 279l12.5-2.5 10.5-5-12.5 2.5zM337.5 276l12.5 8 10-5-12-8.5z" fill="#fe4"/><path d="M418 281l12-1 10.5-5-12.5 1zM395 278l12.5 8.5 10.5-5.5-12.5-8.5z" fill="#ff5"/><path d="M372.5 276.5l12.5 7 10-5.5-12-6.5zM350 284l12-2.5 10.5-5-12.5 2.5z" fill="#fe4"/><path d="M407.5 286.5l12.5-1.5 10-5-12 1z" fill="#ff5"/><path d="M385 283.5l12 8 10.5-5-12.5-8.5z" fill="#ff4"/><path d="M362 281.5l12.5 7.5 10.5-5.5-12.5-7z" fill="#fe4"/><path d="M397 291.5l12.5-1.5 10.5-5-12.5 1.5zM374.5 289l12 7.5 10.5-5-12-8zM386.5 296.5l12.5-1.5 10.5-5-12.5 1.5z" fill="#ff4"/></g>
<path d="M399 580.8L399 231.3M399 231.3L104 127.3M399 231.3L648 106.5" stroke="#000" stroke-width="2" fill="none"/>
<path d="M104 161.9h-16M104 197.4h-16M104 233h-16M104 268.5h-16M104 304h-16M104 339.5h-16M104 375h-16M104 410.6h-16M104 446.1h-16M104 144.2h-8M104 179.7h-8M104 215.2h-8M104 250.7h-8M104 286.2h-8M104 321.8h-8M104 357.3h-8M104 392.8h-8M104 428.3h-8M104 463.8h-8M104 476.8v11M140.9 489.8v8M177.8 502.8v11M214.6 515.8v8M251.5 528.8v11M288.4 541.8v8M325.2 554.8v11M362.1 567.8v8M399 580.8v11M411.4 574.6l0 7M423.9 568.3l0 7M436.4 562.1l0 7M448.8 555.8l0 7M461.2 549.6l0 11M473.7 543.4l0 7M486.1 537.1l0 7M498.6 530.9l0 7M511.1 524.6l0 7M523.5 518.4l0 11M536 512.2l0 7M548.4 505.9l0 7M560.9 499.7l0 7M573.3 493.4l0 7M585.8 487.2l0 11M598.2 481l0 7M610.6 474.7l0 7M623.1 468.5l0 7M635.5 462.2l0 7M648 456l0 11" stroke="#000" stroke-width="1.8" fill="none"/>
<text x="88" y="168.5" text-anchor="end" font-family="'Liberation Serif', 'Times New Roman', serif" font-size="17.5" fill="#000">20</text>
<text x="88" y="202.8" text-anchor="end" font-family="'Liberation Serif', 'Times New Roman', serif" font-size="17.5" fill="#000">0</text>
<text x="88" y="238.2" text-anchor="end" font-family="'Liberation Serif', 'Times New Roman', serif" font-size="17.5" fill="#000">- 20</text>
<text x="88" y="273.7" text-anchor="end" font-family="'Liberation Serif', 'Times New Roman', serif" font-size="17.5" fill="#000">- 40</text>
<text x="88" y="309.2" text-anchor="end" font-family="'Liberation Serif', 'Times New Roman', serif" font-size="17.5" fill="#000">- 60</text>
<text x="88" y="344.6" text-anchor="end" font-family="'Liberation Serif', 'Times New Roman', serif" font-size="17.5" fill="#000">- 80</text>
<text x="88" y="380.1" text-anchor="end" font-family="'Liberation Serif', 'Times New Roman', serif" font-size="17.5" fill="#000">- 100</text>
<text x="88" y="415.6" text-anchor="end" font-family="'Liberation Serif', 'Times New Roman', serif" font-size="17.5" fill="#000">- 120</text>
<text x="88" y="451.1" text-anchor="end" font-family="'Liberation Serif', 'Times New Roman', serif" font-size="17.5" fill="#000">- 140</text>
<text x="105.6" y="509.9" text-anchor="middle" font-family="'Liberation Serif', 'Times New Roman', serif" font-size="17.5" fill="#000">- 200</text>
<text x="179.2" y="536.5" text-anchor="middle" font-family="'Liberation Serif', 'Times New Roman', serif" font-size="17.5" fill="#000">- 100</text>
<text x="251.8" y="561.1" text-anchor="middle" font-family="'Liberation Serif', 'Times New Roman', serif" font-size="17.5" fill="#000">0</text>
<text x="326.4" y="588.3" text-anchor="middle" font-family="'Liberation Serif', 'Times New Roman', serif" font-size="17.5" fill="#000">100</text>
<text x="399" y="615.5" text-anchor="middle" font-family="'Liberation Serif', 'Times New Roman', serif" font-size="17.5" fill="#000">200</text>
<text x="462.4" y="582.9" text-anchor="middle" font-family="'Liberation Serif', 'Times New Roman', serif" font-size="17.5" fill="#000">-0.5</text>
<text x="524.8" y="549.9" text-anchor="middle" font-family="'Liberation Serif', 'Times New Roman', serif" font-size="17.5" fill="#000">0</text>
<text x="585.6" y="519.5" text-anchor="middle" font-family="'Liberation Serif', 'Times New Roman', serif" font-size="17.5" fill="#000">0.5</text>
<text x="648" y="487.5" text-anchor="middle" font-family="'Liberation Serif', 'Times New Roman', serif" font-size="17.5" fill="#000">1</text>
<path d="M355.7 1076.2L355.7 729.1M355.7 1076.2L108.2 1198.3M355.7 1076.2L651.4 1181.5M355.7 729.1L108.2 851.2M355.7 729.1L651.4 834.4M108.2 1198.3L108.2 851.2M651.4 1181.5L651.4 834.4M108.2 1198.3L403.9 1303.6M403.9 1303.6L651.4 1181.5" stroke="#000" stroke-width="2" fill="none"/>
<g stroke="#1a1a1a" stroke-width="0.8" stroke-linejoin="round"><path d="M345.5 844.5l12 7 10.5-4.5-12.5-8z" fill="#e7e"/><path d="M357.5 851.5l12.5-15.5 10.5-5.5-12.5 16.5z" fill="#637"/><path d="M335 850l12.5 6 10-4.5-12-7z" fill="#e7e"/><path d="M370 836l12.5 40.5 10-6-12-40z" fill="#e8e"/><path d="M347.5 856l12-14 10.5-6-12.5 15.5z" fill="#636"/><path d="M325 855.5l12 5.5 10.5-5-12.5-6z" fill="#e7e"/><path d="M382.5 876.5l12-24 10.5-4.5-12.5 22.5z" fill="#647"/><path d="M359.5 842l12.5 40.5 10.5-6-12.5-40.5z" fill="#e8e"/><path d="M337 861l12.5-13 10-6-12 14z" fill="#636"/><path d="M314.5 861l12.5 4.5 10-4.5-12-5.5z" fill="#e7d"/><path d="M394.5 852.5l12.5 14 10.5-6-12.5-12.5z" fill="#e8f"/><path d="M372 882.5l12.5-25.5 10-4.5-12 24z" fill="#646"/><path d="M349.5 848l12 40.5 10.5-6-12.5-40.5z" fill="#e8d"/><path d="M327 865.5l12-12 10.5-5.5-12.5 13z" fill="#636"/><path d="M304 866.5l12.5 3.5 10.5-4.5-12.5-4.5z" fill="#e7d"/><path d="M407 866.5l12.5 0 10-2-12-4z" fill="#e9f"/><path d="M384.5 857l12 15 10.5-5.5-12.5-14z" fill="#e8e"/><path d="M361.5 888.5l12.5-27 10.5-4.5-12.5 25.5z" fill="#646"/><path d="M339 853.5l12.5 41 10-6-12-40.5z" fill="#e8d"/><path d="M316.5 870l12.5-10.5 10-6-12 12z" fill="#636"/><path d="M294 872l12 3 10.5-5-12.5-3.5z" fill="#e7c"/><path d="M419.5 866.5l12-15 10.5-6.5-12.5 19.5z" fill="#647"/><path d="M396.5 872l12.5-3.5 10.5-2-12.5 0z" fill="#e9e"/><path d="M374 861.5l12.5 16 10-5.5-12-15z" fill="#e8e"/><path d="M351.5 894.5l12-29 10.5-4-12.5 27z" fill="#646"/><path d="M329 859.5l12 41 10.5-6-12.5-41z" fill="#e8d"/><path d="M306 875l12.5-9.5 10.5-6-12.5 10.5z" fill="#635"/><path d="M431.5 851.5l12.5 48 10.5-6-12.5-48.5z" fill="#e9e"/><path d="M283.5 878l12.5 1.5 10-4.5-12-3z" fill="#e7c"/><path d="M409 868.5l12.5-10.5 10-6.5-12 15zM386.5 877.5l12-6.5 10.5-2.5-12.5 3.5z" fill="#646"/><path d="M363.5 865.5l12.5 17.5 10.5-5.5-12.5-16z" fill="#e8d"/><path d="M341 900.5l12.5-30.5 10-4.5-12 29z" fill="#646"/><path d="M318.5 865.5l12.5 41 10-6-12-41z" fill="#e8c"/><path d="M444 899.5l12.5-18.5 10-3.5-12 16z" fill="#647"/><path d="M296 879.5l12-8.5 10.5-5.5-12.5 9.5z" fill="#635"/><path d="M421.5 858l12 47.5 10.5-6-12.5-48z" fill="#e9e"/><path d="M273 883.5l12.5 0.5 10.5-4.5-12.5-1.5z" fill="#e7b"/><path d="M398.5 871l12.5-6.5 10.5-6.5-12.5 10.5zM376 883l12.5-10 10-2-12 6.5z" fill="#646"/><path d="M353.5 870l12 18.5 10.5-5.5-12.5-17.5z" fill="#e8d"/><path d="M331 906.5l12-33 10.5-3.5-12.5 30.5z" fill="#645"/><path d="M456.5 881l12-9.5 10.5-6-12.5 12z" fill="#657"/><path d="M308 871l12.5 41.5 10.5-6-12.5-41z" fill="#e8c"/><path d="M433.5 905.5l12.5-21.5 10.5-3-12.5 18.5z" fill="#646"/><path d="M285.5 884l12.5-7 10-6-12 8.5z" fill="#635"/><path d="M411 864.5l12.5 47 10-6-12-47.5z" fill="#e9d"/><path d="M263 889l12 0 10.5-5-12.5-0.5z" fill="#e7b"/><path d="M388.5 873l12-1.5 10.5-7-12.5 6.5z" fill="#e9d"/><path d="M365.5 888.5l12.5-13 10.5-2.5-12.5 10z" fill="#646"/><path d="M343 873.5l12.5 21 10-6-12-18.5z" fill="#e9c"/><path d="M468.5 871.5l12.5 35.5 10-5.5-12-36z" fill="#eaf"/><path d="M320.5 912.5l12.5-35 10-4-12 33z" fill="#645"/><path d="M446 884l12.5-6 10-6.5-12 9.5z" fill="#656"/><path d="M298 877l12 41.5 10.5-6-12.5-41.5z" fill="#e8b"/><path d="M423.5 911.5l12-24 10.5-3.5-12.5 21.5z" fill="#646"/><path d="M275 889l12.5-6 10.5-6-12.5 7z" fill="#635"/><path d="M400.5 871.5l12.5 45.5 10.5-5.5-12.5-47z" fill="#e9d"/><path d="M252.5 894.5l12.5-1 10-4.5-12 0z" fill="#e7a"/><path d="M378 875.5l12.5 3 10-7-12 1.5z" fill="#e9d"/><path d="M355.5 894.5l12.5-16.5 10-2.5-12.5 13z" fill="#645"/><path d="M481 907l12-12.5 10.5-3.5-12.5 10.5z" fill="#757"/><path d="M333 877.5l12 22.5 10.5-5.5-12.5-21z" fill="#e9c"/><path d="M458.5 878l12 35 10.5-6-12.5-35.5z" fill="#eae"/><path d="M310 918.5l12.5-37.5 10.5-3.5-12.5 35z" fill="#645"/><path d="M435.5 887.5l12.5-3.5 10.5-6-12.5 6z" fill="#e9d"/><path d="M287.5 883l12.5 41.5 10-6-12-41.5z" fill="#e8b"/><path d="M413 917l12.5-26 10-3.5-12 24z" fill="#646"/><path d="M265 893.5l12-5 10.5-5.5-12.5 6z" fill="#d7a"/><path d="M390.5 878.5l12 43.5 10.5-5-12.5-45.5z" fill="#e9c"/><path d="M242.5 900l12-1.5 10.5-5-12.5 1z" fill="#e7a"/><path d="M368 878l12 7.5 10.5-7-12.5-3z" fill="#e9c"/><path d="M493 894.5l12.5-6.5 10.5-6-12.5 9z" fill="#757"/><path d="M345 900l12.5-19.5 10.5-2.5-12.5 16.5z" fill="#645"/><path d="M470.5 913l12.5-15 10-3.5-12 12.5z" fill="#756"/><path d="M322.5 881l12.5 24.5 10-5.5-12-22.5z" fill="#e9b"/><path d="M448 884l12.5 34.5 10-5.5-12-35z" fill="#eae"/><path d="M300 924.5l12-40 10.5-3.5-12.5 37.5z" fill="#645"/><path d="M425.5 891l12-0.5 10.5-6.5-12.5 3.5z" fill="#ead"/><path d="M277 888.5l12.5 42 10.5-6-12.5-41.5z" fill="#e8a"/><path d="M402.5 922l12.5-27.5 10.5-3.5-12.5 26z" fill="#646"/><path d="M254.5 898.5l12.5-4 10-6-12 5z" fill="#e79"/><path d="M380 885.5l12.5 42 10-5.5-12-43.5z" fill="#e9c"/><path d="M505.5 888l12.5 29.5 10-5.5-12-30z" fill="#fbf"/><path d="M232 906l12.5-3 10-4.5-12 1.5z" fill="#e79"/><path d="M357.5 880.5l12.5 12.5 10-7.5-12-7.5z" fill="#e9c"/><path d="M483 898l12-4 10.5-6-12.5 6.5z" fill="#ead"/><path d="M335 905.5l12-22.5 10.5-2.5-12.5 19.5z" fill="#645"/><path d="M460.5 918.5l12-16.5 10.5-4-12.5 15z" fill="#756"/><path d="M312 884.5l12.5 26.5 10.5-5.5-12.5-24.5z" fill="#e9b"/><path d="M437.5 890.5l12.5 33.5 10.5-5.5-12.5-34.5z" fill="#ead"/><path d="M289.5 930.5l12.5-43 10-3-12 40z" fill="#645"/><path d="M415 894.5l12.5 2 10-6-12 0.5z" fill="#ead"/><path d="M267 894.5l12 42.5 10.5-6.5-12.5-42z" fill="#e8a"/><path d="M392.5 927.5l12-29.5 10.5-3.5-12.5 27.5z" fill="#645"/><path d="M518 917.5l12-9.5 10.5-4-12.5 8z" fill="#757"/><path d="M244.5 903l12-3 10.5-5.5-12.5 4z" fill="#e89"/><path d="M370 893l12 39.5 10.5-5-12.5-42z" fill="#eac"/><path d="M495 894l12.5 29 10.5-5.5-12.5-29.5z" fill="#fbe"/><path d="M221.5 911.5l12.5-3.5 10.5-5-12.5 3z" fill="#e78"/><path d="M347 883l12.5 17 10.5-7-12.5-12.5z" fill="#e9b"/><path d="M472.5 902l12.5-2 10-6-12 4z" fill="#ebd"/><path d="M324.5 911l12.5-25 10-3-12 22.5z" fill="#645"/><path d="M450 924l12.5-18.5 10-3.5-12 16.5z" fill="#756"/><path d="M302 887.5l12 29 10.5-5.5-12.5-26.5z" fill="#e9a"/><path d="M427.5 896.5l12 32.5 10.5-5-12.5-33.5z" fill="#ead"/><path d="M279 937l12.5-47 10.5-2.5-12.5 43z" fill="#644"/><path d="M404.5 898l12.5 5 10.5-6.5-12.5-2z" fill="#eac"/><path d="M530 908l12.5-5 10.5-6-12.5 7z" fill="#757"/><path d="M256.5 900l12.5 43 10-6-12-42.5z" fill="#e89"/><path d="M382 932.5l12.5-31 10-3.5-12 29.5z" fill="#745"/><path d="M507.5 923l12.5-11 10-4-12 9.5z" fill="#756"/><path d="M234 908l12.5-2 10-6-12 3z" fill="#e89"/><path d="M359.5 900l12.5 37 10-4.5-12-39.5z" fill="#eab"/><path d="M485 900l12.5 28.5 10-5.5-12.5-29z" fill="#fbe"/><path d="M211.5 917.5l12-5 10.5-4.5-12.5 3.5z" fill="#e78"/><path d="M337 886l12 21.5 10.5-7.5-12.5-17z" fill="#e9b"/><path d="M462.5 905.5l12 0.5 10.5-6-12.5 2z" fill="#fbd"/><path d="M314 916.5l12.5-27.5 10.5-3-12.5 25z" fill="#645"/><path d="M439.5 929l12.5-19.5 10.5-4-12.5 18.5z" fill="#756"/><path d="M291.5 890l12.5 32 10-5.5-12-29z" fill="#e9a"/><path d="M417 903l12.5 31.5 10-5.5-12-32.5z" fill="#fbc"/><path d="M542.5 903l12.5 26 10-5.5-12-26.5z" fill="#fcf"/><path d="M269 943l12-51 10.5-2-12.5 47z" fill="#644"/><path d="M394.5 901.5l12 8 10.5-6.5-12.5-5z" fill="#eac"/><path d="M520 912l12-3.5 10.5-5.5-12.5 5z" fill="#ece"/><path d="M246.5 906l12 43 10.5-6-12.5-43z" fill="#e89"/><path d="M372 937l12-32 10.5-3.5-12.5 31z" fill="#745"/><path d="M497.5 928.5l12-12.5 10.5-4-12.5 11z" fill="#756"/><path d="M223.5 912.5l12.5-1 10.5-5.5-12.5 2z" fill="#e88"/><path d="M349 907.5l12.5 34.5 10.5-5-12.5-37z" fill="#eab"/><path d="M474.5 906l12.5 28 10.5-5.5-12.5-28.5z" fill="#fbd"/><path d="M201 923l12.5-5.5 10-5-12 5z" fill="#e77"/><path d="M326.5 889l12.5 26 10-7.5-12-21.5z" fill="#e9a"/><path d="M452 909.5l12.5 2.5 10-6-12-0.5z" fill="#fbd"/><path d="M304 922l12-30 10.5-3-12.5 27.5z" fill="#744"/><path d="M429.5 934.5l12-21 10.5-4-12.5 19.5z" fill="#755"/><path d="M555 929l12-8 10.5-4-12.5 6.5z" fill="#767"/><path d="M281 892l12.5 36 10.5-6-12.5-32z" fill="#e99"/><path d="M406.5 909.5l12.5 30 10.5-5-12.5-31.5z" fill="#fbc"/><path d="M532 908.5l12.5 26 10.5-5.5-12.5-26z" fill="#fce"/><path d="M258.5 949l12.5-55 10-2-12 51z" fill="#744"/><path d="M384 905l12.5 11.5 10-7-12-8z" fill="#fab"/><path d="M509.5 916l12.5-1.5 10-6-12 3.5z" fill="#ece"/><path d="M236 911.5l12.5 44 10-6.5-12-43z" fill="#e88"/><path d="M361.5 942l12.5-33.5 10-3.5-12 32z" fill="#745"/><path d="M487 934l12.5-14.5 10-3.5-12 12.5z" fill="#756"/><path d="M213.5 917.5l12 0 10.5-6-12.5 1z" fill="#e88"/><path d="M339 915l12 31.5 10.5-4.5-12.5-34.5z" fill="#eaa"/><path d="M464.5 912l12 27 10.5-5-12.5-28z" fill="#fbd"/><path d="M190.5 929l12.5-6.5 10.5-5-12.5 5.5z" fill="#d77"/><path d="M316 892l12.5 30.5 10.5-7.5-12.5-26z" fill="#e9a"/><path d="M441.5 913.5l12.5 4.5 10.5-6-12.5-2.5z" fill="#fbc"/><path d="M567 921l12.5-3.5 10.5-6-12.5 5.5z" fill="#ece"/><path d="M293.5 928l12.5-32.5 10-3.5-12 30z" fill="#744"/><path d="M419 939.5l12.5-22.5 10-3.5-12 21z" fill="#755"/><path d="M544.5 934.5l12.5-9 10-4.5-12 8z" fill="#766"/><path d="M271 894l12 39.5 10.5-5.5-12.5-36z" fill="#e99"/><path d="M396.5 916.5l12 27.5 10.5-4.5-12.5-30z" fill="#fbb"/><path d="M522 914.5l12 25.5 10.5-5.5-12.5-26z" fill="#fce"/><path d="M248.5 955.5l12-60.5 10.5-1-12.5 55z" fill="#744"/><path d="M374 908.5l12 14.5 10.5-6.5-12.5-11.5z" fill="#fab"/><path d="M499.5 919.5l12 1 10.5-6-12.5 1.5z" fill="#fcd"/><path d="M225.5 917.5l12.5 44.5 10.5-6.5-12.5-44z" fill="#e88"/><path d="M351 946.5l12.5-34 10.5-4-12.5 33.5z" fill="#745"/><path d="M476.5 939l12.5-15.5 10.5-4-12.5 14.5z" fill="#756"/><path d="M203 922.5l12.5 0.5 10-5.5-12 0z" fill="#e87"/><path d="M328.5 922.5l12.5 28 10-4-12-31.5z" fill="#faa"/><path d="M454 918l12.5 26.5 10-5.5-12-27z" fill="#fcc"/><path d="M579.5 917.5l12.5 23.5 10-5.5-12-24z" fill="#fdf"/><path d="M180.5 935l12-8 10.5-4.5-12.5 6.5z" fill="#733"/><path d="M306 895.5l12 34.5 10.5-7.5-12.5-30.5z" fill="#f99"/><path d="M431.5 917l12 7.5 10.5-6.5-12.5-4.5z" fill="#fbc"/><path d="M557 925.5l12-2.5 10.5-5.5-12.5 3.5z" fill="#ede"/><path d="M283 933.5l12.5-34 10.5-4-12.5 32.5z" fill="#744"/><path d="M408.5 944l12.5-23 10.5-4-12.5 22.5z" fill="#755"/><path d="M534 940l12.5-10.5 10.5-4-12.5 9z" fill="#766"/><path d="M260.5 895l12.5 44 10-5.5-12-39.5z" fill="#e98"/><path d="M386 923l12.5 26 10-5-12-27.5z" fill="#fbb"/><path d="M511.5 920.5l12.5 25 10-5.5-12-25.5z" fill="#fcd"/><path d="M238 962l12.5-66 10-1-12 60.5z" fill="#743"/><path d="M363.5 912.5l12.5 17 10-6.5-12-14.5z" fill="#faa"/><path d="M489 923.5l12.5 3 10-6-12-1z" fill="#fcd"/><path d="M215.5 923l12 45 10.5-6-12.5-44.5z" fill="#e87"/><path d="M341 950.5l12-34 10.5-4-12.5 34z" fill="#744"/><path d="M466.5 944.5l12-16.5 10.5-4.5-12.5 15.5z" fill="#756"/><path d="M592 941l12-6.5 10.5-4-12.5 5z" fill="#767"/><path d="M192.5 927l12.5 2 10.5-6-12.5-0.5z" fill="#f87"/><path d="M318 930l12.5 25 10.5-4.5-12.5-28z" fill="#fa9"/><path d="M443.5 924.5l12.5 25 10.5-5-12.5-26.5z" fill="#fcc"/><path d="M569 923l12.5 23.5 10.5-5.5-12.5-23.5z" fill="#fde"/><path d="M170 940.5l12.5-8.5 10-5-12 8z" fill="#733"/><path d="M295.5 899.5l12.5 38 10-7.5-12-34.5z" fill="#f99"/><path d="M421 921l12.5 10 10-6.5-12-7.5z" fill="#fbb"/><path d="M546.5 929.5l12.5-0.5 10-6-12 2.5z" fill="#fde"/><path d="M273 939l12-35.5 10.5-4-12.5 34z" fill="#744"/><path d="M398.5 949l12-23.5 10.5-4.5-12.5 23z" fill="#755"/><path d="M524 945.5l12-12 10.5-4-12.5 10.5z" fill="#766"/><path d="M250.5 896l12 48.5 10.5-5.5-12.5-44z" fill="#e98"/><path d="M376 929.5l12 24 10.5-4.5-12.5-26z" fill="#fba"/><path d="M501.5 926.5l12 24 10.5-5-12.5-25z" fill="#fcd"/><path d="M227.5 968l12.5-72.5 10.5 0.5-12.5 66z" fill="#743"/><path d="M353 916.5l12.5 20 10.5-7-12.5-17z" fill="#faa"/><path d="M478.5 928l12.5 4.5 10.5-6-12.5-3z" fill="#fcc"/><path d="M604 934.5l12.5-3 10.5-5.5-12.5 4.5z" fill="#eee"/><path d="M205 929l12.5 45.5 10-6.5-12-45z" fill="#e87"/><path d="M330.5 955l12.5-34.5 10-4-12 34z" fill="#754"/><path d="M456 949.5l12.5-17.5 10-4-12 16.5z" fill="#755"/><path d="M581.5 946.5l12.5-8 10-4-12 6.5z" fill="#766"/><path d="M182.5 932l12 2.5 10.5-5.5-12.5-2z" fill="#f86"/><path d="M308 937.5l12 21 10.5-3.5-12.5-25z" fill="#fa9"/><path d="M433.5 931l12 23.5 10.5-5-12.5-25z" fill="#fcb"/><path d="M559 929l12 23 10.5-5.5-12.5-23.5z" fill="#fde"/><path d="M160 946.5l12-9.5 10.5-5-12.5 8.5z" fill="#733"/><path d="M285 903.5l12.5 41.5 10.5-7.5-12.5-38z" fill="#f98"/><path d="M410.5 925.5l12.5 11.5 10.5-6-12.5-10z" fill="#fbb"/><path d="M536 933.5l12.5 1 10.5-5.5-12.5 0.5z" fill="#fdd"/><path d="M262.5 944.5l12.5-37 10-4-12 35.5z" fill="#744"/><path d="M388 953.5l12.5-24 10-4-12 23.5z" fill="#755"/><path d="M513.5 950.5l12.5-13 10-4-12 12z" fill="#766"/><path d="M240 895.5l12.5 54.5 10-5.5-12-48.5z" fill="#e97"/><path d="M365.5 936.5l12.5 21.5 10-4.5-12-24z" fill="#fba"/><path d="M491 932.5l12.5 23 10-5-12-24z" fill="#fdc"/><path d="M616.5 931.5l12.5 22 10-5.5-12-22z" fill="#fef"/><path d="M217.5 974.5l12-80.5 10.5 1.5-12.5 72.5z" fill="#743"/><path d="M343 920.5l12 22.5 10.5-6.5-12.5-20z" fill="#fa9"/><path d="M468.5 932l12 6.5 10.5-6-12.5-4.5z" fill="#fcc"/><path d="M594 938.5l12-1.5 10.5-5.5-12.5 3z" fill="#fee"/><path d="M194.5 934.5l12.5 46.5 10.5-6.5-12.5-45.5z" fill="#e86"/><path d="M320 958.5l12.5-33.5 10.5-4.5-12.5 34.5z" fill="#754"/><path d="M445.5 954.5l12.5-18.5 10.5-4-12.5 17.5z" fill="#755"/><path d="M571 952l12.5-9 10.5-4.5-12.5 8z" fill="#766"/><path d="M172 937l12.5 3 10-5.5-12-2.5z" fill="#f86"/><path d="M297.5 945l12.5 17.5 10-4-12-21z" fill="#fa8"/><path d="M423 937l12.5 22 10-4.5-12-23.5z" fill="#fcb"/><path d="M548.5 934.5l12.5 22.5 10-5-12-23z" fill="#fdd"/><path d="M149.5 952.5l12.5-10.5 10-5-12 9.5z" fill="#742"/><path d="M275 907.5l12.5 45 10-7.5-12.5-41.5z" fill="#e98"/><path d="M400.5 929.5l12 14 10.5-6.5-12.5-11.5z" fill="#fba"/><path d="M526 937.5l12 3 10.5-6-12.5-1z" fill="#fdd"/><path d="M252.5 950l12-38 10.5-4.5-12.5 37z" fill="#743"/><path d="M378 958l12-24.5 10.5-4-12.5 24z" fill="#754"/><path d="M503.5 955.5l12-13.5 10.5-4.5-12.5 13z" fill="#766"/><path d="M629 953.5l12-6 10.5-4-12.5 4.5z" fill="#eee"/><path d="M229.5 894l12.5 61.5 10.5-5.5-12.5-54.5z" fill="#e86"/><path d="M355 943l12.5 19.5 10.5-4.5-12.5-21.5z" fill="#fb9"/><path d="M480.5 938.5l12.5 22 10.5-5-12.5-23z" fill="#fdc"/><path d="M606 937l12.5 21.5 10.5-5-12.5-22z" fill="#fee"/><path d="M207 981l12.5-90.5 10 3.5-12 80.5z" fill="#743"/><path d="M332.5 925l12.5 25 10-7-12-22.5z" fill="#fa9"/><path d="M458 936l12.5 8.5 10-6-12-6.5z" fill="#fcb"/><path d="M583.5 943l12.5-0.5 10-5.5-12 1.5z" fill="#fee"/><path d="M184.5 940l12 47.5 10.5-6.5-12.5-46.5z" fill="#e86"/><path d="M310 962.5l12-33 10.5-4.5-12.5 33.5z" fill="#754"/><path d="M435.5 959l12-19 10.5-4-12.5 18.5z" fill="#755"/><path d="M561 957l12-10 10.5-4-12.5 9z" fill="#766"/><path d="M162 942l12 4 10.5-6-12.5-3z" fill="#f85"/><path d="M287.5 952.5l12 14 10.5-4-12.5-17.5z" fill="#fa8"/><path d="M412.5 943.5l12.5 20.5 10.5-5-12.5-22z" fill="#fca"/><path d="M538 940.5l12.5 22 10.5-5.5-12.5-22.5z" fill="#fdd"/><path d="M139 958l12.5-11 10.5-5-12.5 10.5z" fill="#742"/><path d="M264.5 912l12.5 48 10.5-7.5-12.5-45z" fill="#e97"/><path d="M390 933.5l12.5 16.5 10-6.5-12-14z" fill="#fba"/><path d="M515.5 942l12.5 4.5 10-6-12-3z" fill="#fdc"/><path d="M242 955.5l12.5-39 10-4.5-12 38z" fill="#743"/><path d="M367.5 962.5l12.5-24.5 10-4.5-12 24.5z" fill="#754"/><path d="M493 960.5l12.5-14.5 10-4-12 13.5z" fill="#765"/><path d="M618.5 958.5l12.5-6.5 10-4.5-12 6z" fill="#776"/><path d="M219.5 890.5l12 71 10.5-6-12.5-61.5z" fill="#e86"/><path d="M345 950l12 17 10.5-4.5-12.5-19.5z" fill="#fb9"/><path d="M470.5 944.5l12 21 10.5-5-12.5-22z" fill="#fdb"/><path d="M596 942.5l12 21.5 10.5-5.5-12.5-21.5z" fill="#fee"/><path d="M196.5 987.5l12.5-102.5 10.5 5.5-12.5 90.5z" fill="#743"/><path d="M322 929.5l12.5 27 10.5-6.5-12.5-25z" fill="#fa8"/><path d="M447.5 940l12.5 11 10.5-6.5-12.5-8.5z" fill="#fcb"/><path d="M573 947l12.5 1.5 10.5-6-12.5 0.5z" fill="#fed"/><path d="M174 946l12.5 48 10-6.5-12-47.5z" fill="#e85"/><path d="M299.5 966.5l12.5-32.5 10-4.5-12 33z" fill="#754"/><path d="M425 964l12.5-19.5 10-4.5-12 19z" fill="#755"/><path d="M550.5 962.5l12.5-11 10-4.5-12 10z" fill="#766"/><path d="M151.5 947l12.5 4.5 10-5.5-12-4z" fill="#f85"/><path d="M277 960l12.5 10 10-3.5-12-14z" fill="#fa7"/><path d="M402.5 950l12.5 18.5 10-4.5-12.5-20.5z" fill="#fca"/><path d="M528 946.5l12 21 10.5-5-12.5-22z" fill="#fec"/><path d="M129 964l12-12.5 10.5-4.5-12.5 11z" fill="#742"/><path d="M254.5 916.5l12 50.5 10.5-7-12.5-48z" fill="#e97"/><path d="M380 938l12 18.5 10.5-6.5-12.5-16.5z" fill="#fb9"/><path d="M505.5 946l12 6.5 10.5-6-12.5-4.5z" fill="#fdc"/><path d="M231.5 961.5l12.5-40 10.5-5-12.5 39z" fill="#743"/><path d="M357 967l12.5-24.5 10.5-4.5-12.5 24.5z" fill="#754"/><path d="M482.5 965.5l12.5-15 10.5-4.5-12.5 14.5z" fill="#765"/><path d="M608 964l12.5-8 10.5-4-12.5 6.5z" fill="#776"/><path d="M209 885l12.5 82 10-5.5-12-71z" fill="#e85"/><path d="M334.5 956.5l12.5 14.5 10-4-12-17z" fill="#fb8"/><path d="M460 951l12.5 19.5 10-5-12-21z" fill="#fdb"/><path d="M585.5 948.5l12.5 21 10-5.5-12-21.5z" fill="#fed"/><path d="M186.5 994l12-115.5 10.5 6.5-12.5 102.5z" fill="#742"/><path d="M312 934l12 29.5 10.5-7-12.5-27z" fill="#fa8"/><path d="M437.5 944.5l12 12.5 10.5-6-12.5-11z" fill="#fca"/><path d="M563 951.5l12 3 10.5-6-12.5-1.5z" fill="#fed"/><path d="M164 951.5l12 48.5 10.5-6-12.5-48z" fill="#e85"/><path d="M289.5 970l12-31.5 10.5-4.5-12.5 32.5z" fill="#753"/><path d="M415 968.5l12-19.5 10.5-4.5-12.5 19.5z" fill="#754"/><path d="M540 967.5l12.5-12 10.5-4-12.5 11z" fill="#766"/><path d="M141 951.5l12.5 6 10.5-6-12.5-4.5z" fill="#f84"/><path d="M266.5 967l12.5 6.5 10.5-3.5-12.5-10z" fill="#fa7"/><path d="M392 956.5l12.5 16.5 10.5-4.5-12.5-18.5z" fill="#fc9"/><path d="M517.5 952.5l12.5 20 10-5-12-21z" fill="#fec"/><path d="M118.5 970l12.5-13.5 10-5-12 12.5z" fill="#742"/><path d="M244 921.5l12.5 53 10-7.5-12-50.5z" fill="#e96"/><path d="M369.5 942.5l12.5 20 10-6-12-18.5z" fill="#fb9"/><path d="M495 950.5l12.5 8 10-6-12-6.5z" fill="#fdb"/><path d="M221.5 967l12-40 10.5-5.5-12.5 40z" fill="#743"/><path d="M347 971l12-24 10.5-4.5-12.5 24.5z" fill="#754"/><path d="M472.5 970.5l12-16 10.5-4-12.5 15z" fill="#765"/><path d="M598 969.5l12-9 10.5-4.5-12.5 8z" fill="#776"/><path d="M198.5 878.5l12.5 94 10.5-5.5-12.5-82z" fill="#d85"/><path d="M324 963.5l12.5 11.5 10.5-4-12.5-14.5z" fill="#fb8"/><path d="M449.5 957l12.5 18 10.5-4.5-12.5-19.5z" fill="#fda"/><path d="M575 954.5l12.5 20 10.5-5-12.5-21z" fill="#fed"/><path d="M176 1000l12.5-127.5 10 6-12 115.5z" fill="#742"/><path d="M301.5 938.5l12.5 31.5 10-6.5-12-29.5z" fill="#fa7"/><path d="M427 949l12.5 14 10-6-12-12.5z" fill="#fca"/><path d="M552.5 955.5l12.5 4.5 10-5.5-12-3z" fill="#fec"/><path d="M153.5 957.5l12.5 49 10-6.5-12-48.5z" fill="#e84"/><path d="M279 973.5l12.5-30 10-5-12 31.5z" fill="#753"/><path d="M404.5 973l12.5-19.5 10-4.5-12 19.5z" fill="#754"/><path d="M530 972.5l12-12.5 10.5-4.5-12.5 12z" fill="#765"/><path d="M131 956.5l12 6.5 10.5-5.5-12.5-6z" fill="#f84"/><path d="M256.5 974.5l12 2 10.5-3-12.5-6.5z" fill="#fa6"/><path d="M382 962.5l12 15 10.5-4.5-12.5-16.5z" fill="#fc9"/><path d="M507.5 958.5l12 19 10.5-5-12.5-20z" fill="#feb"/><path d="M108 976l12.5-14.5 10.5-5-12.5 13.5z" fill="#742"/><path d="M233.5 927l12.5 54.5 10.5-7-12.5-53z" fill="#e96"/><path d="M359 947l12.5 22 10.5-6.5-12.5-20z" fill="#fb8"/><path d="M484.5 954.5l12.5 10 10.5-6-12.5-8z" fill="#fdb"/><path d="M211 972.5l12.5-40 10-5.5-12 40z" fill="#742"/><path d="M336.5 975l12.5-23.5 10-4.5-12 24z" fill="#754"/><path d="M462 975l12.5-16 10-4.5-12 16z" fill="#765"/><path d="M587.5 974.5l12.5-9.5 10-4.5-12 9z" fill="#776"/><path d="M188.5 872.5l12 105.5 10.5-5.5-12.5-94z" fill="#d84"/><path d="M314 970l12 9 10.5-4-12.5-11.5z" fill="#fb7"/><path d="M439.5 963l12 17 10.5-5-12.5-18z" fill="#fda"/><path d="M565 960l12 19.5 10.5-5-12.5-20z" fill="#ffc"/><path d="M166 1006.5l12-140.5 10.5 6.5-12.5 127.5z" fill="#742"/><path d="M291.5 943.5l12 33 10.5-6.5-12.5-31.5z" fill="#fa7"/><path d="M417 953.5l12 16 10.5-6.5-12.5-14z" fill="#fc9"/><path d="M542 960l12.5 6 10.5-6-12.5-4.5z" fill="#fec"/><path d="M143 963l12.5 50 10.5-6.5-12.5-49z" fill="#e84"/><path d="M268.5 976.5l12.5-28 10.5-5-12.5 30z" fill="#753"/><path d="M394 977.5l12.5-19.5 10.5-4.5-12.5 19.5z" fill="#754"/><path d="M519.5 977.5l12.5-13.5 10-4-12 12.5z" fill="#765"/><path d="M120.5 961.5l12.5 7 10-5.5-12-6.5z" fill="#f83"/><path d="M246 981.5l12.5-1.5 10-3.5-12-2z" fill="#fa6"/><path d="M371.5 969l12.5 13 10-4.5-12-15z" fill="#fc8"/><path d="M497 964.5l12.5 18 10-5-12-19z" fill="#feb"/><path d="M223.5 932.5l12 56 10.5-7-12.5-54.5z" fill="#e95"/><path d="M349 951.5l12 24 10.5-6.5-12.5-22z" fill="#fb8"/><path d="M474.5 959l12 11.5 10.5-6-12.5-10z" fill="#fda"/><path d="M200.5 978l12.5-40 10.5-5.5-12.5 40z" fill="#742"/><path d="M326 979l12.5-22.5 10.5-5-12.5 23.5z" fill="#753"/><path d="M451.5 980l12.5-16.5 10.5-4.5-12.5 16z" fill="#764"/><path d="M577 979.5l12.5-10.5 10.5-4-12.5 9.5z" fill="#776"/><path d="M178 866l12.5 117.5 10-5.5-12-105.5z" fill="#d84"/><path d="M303.5 976.5l12.5 6.5 10-4-12-9z" fill="#fb7"/><path d="M429 969.5l12.5 15 10-4.5-12-17z" fill="#fd9"/><path d="M554.5 966l12.5 18.5 10-5-12-19.5z" fill="#ffc"/><path d="M155.5 1013l12.5-149.5 10 2.5-12 140.5z" fill="#742"/><path d="M281 948.5l12.5 34.5 10-6.5-12-33z" fill="#fb6"/><path d="M406.5 958l12.5 17.5 10-6-12-16z" fill="#fc9"/><path d="M532 964l12.5 8 10-6-12.5-6z" fill="#feb"/><path d="M133 968.5l12 51 10.5-6.5-12.5-50z" fill="#e83"/><path d="M258.5 980l12-26.5 10.5-5-12.5 28z" fill="#753"/><path d="M384 982l12-19.5 10.5-4.5-12.5 19.5z" fill="#754"/><path d="M509.5 982.5l12-14 10.5-4.5-12.5 13.5z" fill="#765"/><path d="M235.5 988.5l12.5-5.5 10.5-3-12.5 1.5z" fill="#ea5"/><path d="M361 975.5l12.5 10.5 10.5-4-12.5-13z" fill="#fc8"/><path d="M486.5 970.5l12.5 16.5 10.5-4.5-12.5-18z" fill="#fea"/><path d="M213 938l12.5 57.5 10-7-12-56z" fill="#e95"/><path d="M338.5 956.5l12.5 25.5 10-6.5-12-24z" fill="#fb7"/><path d="M464 963.5l12.5 13 10-6-12-11.5z" fill="#fda"/><path d="M190.5 983.5l12.5-39.5 10-6-12.5 40z" fill="#742"/><path d="M316 983l12-21.5 10.5-5-12.5 22.5z" fill="#753"/><path d="M441.5 984.5l12-16.5 10.5-4.5-12.5 16.5z" fill="#764"/><path d="M567 984.5l12-11 10.5-4.5-12.5 10.5z" fill="#775"/><path d="M168 863.5l12 126 10.5-6-12.5-117.5z" fill="#d84"/><path d="M293.5 983l12 3.5 10.5-3.5-12.5-6.5z" fill="#fb6"/><path d="M419 975.5l12 13.5 10.5-4.5-12.5-15z" fill="#fd9"/><path d="M544.5 972l12 17.5 10.5-5-12.5-18.5z" fill="#ffb"/><path d="M145 1019.5l12.5-151 10.5-5-12.5 149.5z" fill="#742"/><path d="M270.5 953.5l12.5 36 10.5-6.5-12.5-34.5z" fill="#fb6"/><path d="M396 962.5l12.5 19.5 10.5-6.5-12.5-17.5z" fill="#fc8"/><path d="M521.5 968.5l12.5 9.5 10.5-6-12.5-8z" fill="#feb"/><path d="M248 983l12.5-24 10-5.5-12 26.5z" fill="#752"/><path d="M373.5 986l12.5-18.5 10-5-12 19.5z" fill="#754"/><path d="M499 987l12.5-14 10-4.5-12 14z" fill="#765"/><path d="M225.5 995.5l12-9.5 10.5-3-12.5 5.5z" fill="#742"/><path d="M351 982l12 8 10.5-4-12.5-10.5z" fill="#fc7"/><path d="M476.5 976.5l12 15.5 10.5-5-12.5-16.5z" fill="#fea"/><path d="M203 944l12 58 10.5-6.5-12.5-57.5z" fill="#e94"/><path d="M328 961.5l12.5 26.5 10.5-6-12.5-25.5z" fill="#fb7"/><path d="M453.5 968l12.5 14.5 10.5-6-12.5-13z" fill="#fd9"/><path d="M180 989.5l12.5-39 10.5-6.5-12.5 39.5z" fill="#742"/><path d="M305.5 986.5l12.5-20 10-5-12 21.5z" fill="#753"/><path d="M431 989l12.5-16.5 10-4.5-12 16.5z" fill="#764"/><path d="M556.5 989.5l12.5-11.5 10-4.5-12 11z" fill="#775"/><path d="M157.5 868.5l12.5 126.5 10-5.5-12-126z" fill="#d83"/><path d="M283 989.5l12.5 1 10-4-12-3.5z" fill="#fb6"/><path d="M408.5 982l12.5 11.5 10-4.5-12-13.5z" fill="#fd8"/><path d="M534 978l12.5 16.5 10-5-12-17.5z" fill="#ffb"/><path d="M260.5 959l12 37 10.5-6.5-12.5-36z" fill="#fb5"/><path d="M386 967.5l12 20.5 10.5-6-12.5-19.5z" fill="#fc8"/><path d="M511.5 973l12 11 10.5-6-12.5-9.5z" fill="#fea"/><path d="M237.5 986l12.5-21.5 10.5-5.5-12.5 24z" fill="#752"/><path d="M363 990l12.5-18 10.5-4.5-12.5 18.5z" fill="#753"/><path d="M488.5 992l12.5-14.5 10.5-4.5-12.5 14z" fill="#764"/><path d="M215 1002l12.5-12.5 10-3.5-12 9.5z" fill="#752"/><path d="M340.5 988l12.5 6.5 10-4.5-12-8z" fill="#fc7"/><path d="M466 982.5l12.5 14 10-4.5-12-15.5z" fill="#fe9"/><path d="M192.5 950.5l12.5 58 10-6.5-12-58z" fill="#e94"/><path d="M318 966.5l12 28 10.5-6.5-12.5-26.5z" fill="#fb6"/><path d="M443.5 972.5l12 16 10.5-6-12.5-14.5z" fill="#fd9"/><path d="M170 995l12-38.5 10.5-6-12.5 39z" fill="#742"/><path d="M295.5 990.5l12-19 10.5-5-12.5 20z" fill="#753"/><path d="M421 993.5l12-16 10.5-5-12.5 16.5z" fill="#764"/><path d="M546.5 994.5l12-12 10.5-4.5-12.5 11.5z" fill="#775"/><path d="M272.5 996l12.5-2 10.5-3.5-12.5-1z" fill="#fb5"/><path d="M398 988l12.5 10 10.5-4.5-12.5-11.5z" fill="#fd8"/><path d="M523.5 984l12.5 15.5 10.5-5-12.5-16.5z" fill="#ffa"/><path d="M250 964.5l12.5 37.5 10-6-12-37z" fill="#fb5"/><path d="M375.5 972l12.5 22 10-6-12-20.5z" fill="#fc7"/><path d="M501 977.5l12.5 12.5 10-6-12-11z" fill="#fea"/><path d="M227.5 989.5l12-19.5 10.5-5.5-12.5 21.5z" fill="#752"/><path d="M353 994.5l12-17.5 10.5-5-12.5 18z" fill="#753"/><path d="M478.5 996.5l12-14.5 10.5-4.5-12.5 14.5z" fill="#764"/><path d="M205 1008.5l12-16 10.5-3-12.5 12.5z" fill="#752"/><path d="M330 994.5l12.5 4 10.5-4-12.5-6.5z" fill="#fc7"/><path d="M455.5 988.5l12.5 12.5 10.5-4.5-12.5-14z" fill="#fe9"/><path d="M182 956.5l12.5 58.5 10.5-6.5-12.5-58z" fill="#e93"/><path d="M307.5 971.5l12.5 29 10-6-12-28z" fill="#fb6"/><path d="M433 977.5l12.5 17.5 10-6.5-12-16z" fill="#fd9"/><path d="M285 994l12.5-17.5 10-5-12 19z" fill="#752"/><path d="M410.5 998l12.5-16 10-4.5-12 16z" fill="#764"/><path d="M536 999.5l12.5-12.5 10-4.5-12 12z" fill="#775"/><path d="M262.5 1002l12-4 10.5-4-12.5 2z" fill="#eb5"/><path d="M388 994l12 8 10.5-4-12.5-10z" fill="#fd8"/><path d="M513.5 990l12 14 10.5-4.5-12.5-15.5z" fill="#ffa"/><path d="M239.5 970l12.5 38.5 10.5-6.5-12.5-37.5z" fill="#fb5"/><path d="M365 977l12.5 23.5 10.5-6.5-12.5-22z" fill="#fc7"/><path d="M490.5 982l12.5 14 10.5-6-12.5-12.5z" fill="#fea"/><path d="M217 992.5l12.5-16.5 10-6-12 19.5z" fill="#752"/><path d="M342.5 998.5l12.5-16.5 10-5-12 17.5z" fill="#753"/><path d="M468 1001l12.5-14 10-5-12 14.5z" fill="#764"/><path d="M194.5 1015l12.5-19.5 10-3-12 16z" fill="#752"/><path d="M320 1000.5l12.5 2 10-4-12.5-4z" fill="#fc6"/><path d="M445.5 995l12 10.5 10.5-4.5-12.5-12.5z" fill="#fe9"/><path d="M297.5 976.5l12 30 10.5-6-12.5-29z" fill="#fb6"/><path d="M423 982l12 19 10.5-6-12.5-17.5z" fill="#fd8"/><path d="M274.5 998l12.5-16 10.5-5.5-12.5 17.5z" fill="#752"/><path d="M400 1002l12.5-15 10.5-5-12.5 16z" fill="#763"/><path d="M525.5 1004l12.5-12.5 10.5-4.5-12.5 12.5z" fill="#775"/><path d="M252 1008.5l12.5-7 10-3.5-12 4z" fill="#ea4"/><path d="M377.5 1000.5l12.5 6 10-4.5-12-8z" fill="#fd7"/><path d="M503 996l12.5 13 10-5-12-14z" fill="#ffa"/><path d="M229.5 976l12 38.5 10.5-6-12.5-38.5z" fill="#fb4"/><path d="M355 982l12 24.5 10.5-6-12.5-23.5z" fill="#fc7"/><path d="M480.5 987l12 15 10.5-6-12.5-14z" fill="#fe9"/><path d="M207 995.5l12-14 10.5-5.5-12.5 16.5z" fill="#752"/><path d="M332.5 1002.5l12-15.5 10.5-5-12.5 16.5z" fill="#753"/><path d="M457.5 1005.5l12.5-14 10.5-4.5-12.5 14z" fill="#764"/><path d="M309.5 1006.5l12.5-0.5 10.5-3.5-12.5-2z" fill="#fc6"/><path d="M435 1001l12.5 9 10-4.5-12-10.5z" fill="#fe8"/><path d="M287 982l12.5 30.5 10-6-12-30z" fill="#fc5"/><path d="M412.5 987l12.5 20 10-6-12-19z" fill="#fd8"/><path d="M264.5 1001.5l12-14 10.5-5.5-12.5 16z" fill="#752"/><path d="M390 1006.5l12-14.5 10.5-5-12.5 15z" fill="#763"/><path d="M515.5 1009l12-13 10.5-4.5-12.5 12.5z" fill="#774"/><path d="M241.5 1014.5l12.5-9.5 10.5-3.5-12.5 7z" fill="#752"/><path d="M367 1006.5l12.5 4 10.5-4-12.5-6z" fill="#fd7"/><path d="M492.5 1002l12.5 11.5 10.5-4.5-12.5-13z" fill="#ff9"/><path d="M219 981.5l12.5 39 10-6-12-38.5z" fill="#fb4"/><path d="M344.5 987l12.5 25.5 10-6-12-24.5z" fill="#fc6"/><path d="M470 991.5l12.5 16 10-5.5-12-15z" fill="#fe9"/><path d="M322 1006l12.5-13.5 10-5.5-12 15.5z" fill="#753"/><path d="M447.5 1010l12.5-13.5 10-5-12.5 14z" fill="#764"/><path d="M299.5 1012.5l12-2.5 10.5-4-12.5 0.5z" fill="#fc5"/><path d="M425 1007l12 7.5 10.5-4.5-12.5-9z" fill="#fe8"/><path d="M276.5 987.5l12.5 31 10.5-6-12.5-30.5z" fill="#fc5"/><path d="M402 992l12.5 21 10.5-6-12.5-20z" fill="#fd7"/><path d="M254 1005l12.5-11.5 10-6-12 14z" fill="#752"/><path d="M379.5 1010.5l12.5-13.5 10-5-12 14.5z" fill="#763"/><path d="M505 1013.5l12.5-12.5 10-5-12 13z" fill="#774"/><path d="M231.5 1020.5l12-12 10.5-3.5-12.5 9.5z" fill="#752"/><path d="M357 1012.5l12 2 10.5-4-12.5-4z" fill="#fd6"/><path d="M482.5 1007.5l12 10.5 10.5-4.5-12.5-11.5z" fill="#ff9"/><path d="M334.5 992.5l12 26 10.5-6-12.5-25.5z" fill="#fc6"/><path d="M460 996.5l12 17 10.5-6-12.5-16z" fill="#fe8"/><path d="M311.5 1010l12.5-12 10.5-5.5-12.5 13.5z" fill="#752"/><path d="M437 1014.5l12.5-13 10.5-5-12.5 13.5z" fill="#763"/><path d="M289 1018.5l12.5-4.5 10-4-12 2.5z" fill="#eb4"/><path d="M414.5 1013l12.5 5.5 10-4-12-7.5z" fill="#fe7"/><path d="M266.5 993.5l12 31 10.5-6-12.5-31z" fill="#fc4"/><path d="M392 997l12 22 10.5-6-12.5-21z" fill="#fd7"/><path d="M243.5 1008.5l12.5-9.5 10.5-5.5-12.5 11.5z" fill="#752"/><path d="M369 1014.5l12.5-12.5 10.5-5-12.5 13.5z" fill="#763"/><path d="M494.5 1018l12.5-12.5 10.5-4.5-12.5 12.5z" fill="#774"/><path d="M346.5 1018.5l12.5 0.5 10-4.5-12-2z" fill="#fd6"/><path d="M472 1013.5l12.5 9 10-4.5-12-10.5z" fill="#ff8"/><path d="M324 998l12.5 26.5 10-6-12-26z" fill="#fc5"/><path d="M449.5 1001.5l12.5 18 10-6-12-17z" fill="#fe8"/><path d="M301.5 1014l12-11 10.5-5-12.5 12z" fill="#752"/><path d="M427 1018.5l12-12.5 10.5-4.5-12.5 13z" fill="#763"/><path d="M278.5 1024.5l12.5-6.5 10.5-4-12.5 4.5z" fill="#eb4"/><path d="M404 1019l12.5 4 10.5-4.5-12.5-5.5z" fill="#fe7"/><path d="M256 999l12.5 31.5 10-6-12-31z" fill="#fc4"/><path d="M381.5 1002l12.5 23 10-6-12-22z" fill="#fd6"/><path d="M359 1019l12-11.5 10.5-5.5-12.5 12.5z" fill="#763"/><path d="M484.5 1022.5l12-12 10.5-5-12.5 12.5z" fill="#774"/><path d="M336.5 1024.5l12-1.5 10.5-4-12.5-0.5z" fill="#fd5"/><path d="M462 1019.5l12 7.5 10.5-4.5-12.5-9z" fill="#ff8"/><path d="M313.5 1003l12.5 27 10.5-5.5-12.5-26.5z" fill="#fc5"/><path d="M439 1006l12.5 19.5 10.5-6-12.5-18z" fill="#fe7"/><path d="M291 1018l12.5-9 10-6-12 11z" fill="#752"/><path d="M416.5 1023l12.5-11.5 10-5.5-12 12.5z" fill="#763"/><path d="M268.5 1030.5l12-9 10.5-3.5-12.5 6.5z" fill="#752"/><path d="M394 1025l12 2.5 10.5-4.5-12.5-4z" fill="#fe6"/><path d="M371 1007.5l12.5 23 10.5-5.5-12.5-23z" fill="#fd6"/><path d="M348.5 1023l12.5-10.5 10-5-12 11.5z" fill="#762"/><path d="M474 1027l12.5-11.5 10-5-12 12z" fill="#773"/><path d="M326 1030l12.5-3 10-4-12 1.5z" fill="#fd5"/><path d="M451.5 1025.5l12.5 6 10-4.5-12-7.5z" fill="#ff7"/><path d="M303.5 1009l12 27 10.5-6-12.5-27z" fill="#fc4"/><path d="M429 1011.5l12 20 10.5-6-12.5-19.5z" fill="#fe7"/><path d="M280.5 1021.5l12.5-7 10.5-5.5-12.5 9z" fill="#752"/><path d="M406 1027.5l12.5-11 10.5-5-12.5 11.5z" fill="#763"/><path d="M383.5 1030.5l12.5 1 10-4-12-2.5z" fill="#fe6"/><path d="M361 1012.5l12 24 10.5-6-12.5-23z" fill="#fd5"/><path d="M338.5 1027l12-9 10.5-5.5-12.5 10.5z" fill="#762"/><path d="M464 1031.5l12-11 10.5-5-12.5 11.5z" fill="#773"/><path d="M315.5 1036l12.5-5 10.5-4-12.5 3z" fill="#ec4"/><path d="M441 1031.5l12.5 4 10.5-4-12.5-6z" fill="#ff7"/><path d="M293 1014.5l12.5 27 10-5.5-12-27z" fill="#fc4"/><path d="M418.5 1016.5l12.5 21 10-6-12-20z" fill="#fe6"/><path d="M396 1031.5l12-10 10.5-5-12.5 11z" fill="#763"/><path d="M373 1036.5l12.5-1 10.5-4-12.5-1z" fill="#fe5"/><path d="M350.5 1018l12.5 24 10-5.5-12-24z" fill="#fd5"/><path d="M328 1031l12.5-7.5 10-5.5-12 9z" fill="#762"/><path d="M453.5 1035.5l12.5-10 10-5-12 11z" fill="#773"/><path d="M305.5 1041.5l12-6.5 10.5-4-12.5 5z" fill="#762"/><path d="M431 1037.5l12 2.5 10.5-4.5-12.5-4z" fill="#ff6"/><path d="M408 1021.5l12.5 21.5 10.5-5.5-12.5-21z" fill="#fe6"/><path d="M385.5 1035.5l12.5-8.5 10-5.5-12 10z" fill="#762"/><path d="M363 1042l12-2 10.5-4.5-12.5 1z" fill="#fe5"/><path d="M340.5 1023.5l12 24.5 10.5-6-12.5-24z" fill="#fd4"/><path d="M317.5 1035l12.5-6 10.5-5.5-12.5 7.5z" fill="#762"/><path d="M443 1040l12.5-9.5 10.5-5-12.5 10z" fill="#773"/><path d="M420.5 1043l12.5 1.5 10-4.5-12-2.5z" fill="#ff6"/><path d="M398 1027l12 22 10.5-6-12.5-21.5z" fill="#fe5"/><path d="M375 1040l12.5-7.5 10.5-5.5-12.5 8.5z" fill="#762"/><path d="M352.5 1048l12.5-4 10-4-12 2z" fill="#ed4"/><path d="M330 1029l12.5 24.5 10-5.5-12-24.5z" fill="#fd4"/><path d="M433 1044.5l12-9 10.5-5-12.5 9.5z" fill="#773"/><path d="M410 1049l12.5-0.5 10.5-4-12.5-1.5z" fill="#ff5"/><path d="M387.5 1032.5l12.5 22 10-5.5-12-22z" fill="#fe5"/><path d="M365 1044l12-6.5 10.5-5-12.5 7.5z" fill="#762"/><path d="M342.5 1053.5l12-5.5 10.5-4-12.5 4z" fill="#ed4"/><path d="M422.5 1048.5l12.5-7.5 10-5.5-12 9z" fill="#772"/><path d="M400 1054.5l12-1.5 10.5-4.5-12.5 0.5z" fill="#ff5"/><path d="M377 1037.5l12.5 22.5 10.5-5.5-12.5-22z" fill="#fe4"/><path d="M354.5 1048l12.5-5 10-5.5-12 6.5z" fill="#ed4"/><path d="M412 1053l12.5-6.5 10.5-5.5-12.5 7.5z" fill="#772"/><path d="M389.5 1060l12.5 21 10-28-12 1.5z" fill="#ff4"/><path d="M367 1043l12.5 22.5 10-5.5-12.5-22.5z" fill="#fe4"/><path d="M402 1081l12-29.5 10.5-5-12.5 6.5z" fill="#dd4"/><path d="M379.5 1065.5l12 19.5 10.5-4-12.5-21z" fill="#ff4"/><path d="M391.5 1085l12.5-28 10-5.5-12 29.5z" fill="#772"/></g>
<path d="M403.9 1303.6L403.9 956.5M403.9 956.5L108.2 851.2M403.9 956.5L651.4 834.4" stroke="#000" stroke-width="2" fill="none"/>
<path d="M108.2 906.9h-16M108.2 966.9h-16M108.2 1026.9h-16M108.2 1086.9h-16M108.2 1146.9h-16M108.2 858.9h-8M108.2 870.9h-8M108.2 882.9h-8M108.2 894.9h-8M108.2 918.9h-8M108.2 930.9h-8M108.2 942.9h-8M108.2 954.9h-8M108.2 978.9h-8M108.2 990.9h-8M108.2 1002.9h-8M108.2 1014.9h-8M108.2 1038.9h-8M108.2 1050.9h-8M108.2 1062.9h-8M108.2 1074.9h-8M108.2 1098.9h-8M108.2 1110.9h-8M108.2 1122.9h-8M108.2 1134.9h-8M108.2 1158.9h-8M108.2 1170.9h-8M108.2 1182.9h-8M108.2 1194.9h-8M108.2 1198.3v11M145.2 1211.5v8M182.1 1224.6v11M219.1 1237.8v8M256.1 1251v11M293 1264.1v8M330 1277.3v11M366.9 1290.4v8M403.9 1303.6v11M416.3 1297.5l0 7M428.6 1291.4l0 7M441 1285.3l0 7M453.4 1279.2l0 7M465.8 1273.1l0 11M478.1 1267l0 7M490.5 1260.9l0 7M502.9 1254.8l0 7M515.3 1248.7l0 7M527.6 1242.5l0 11M540 1236.4l0 7M552.4 1230.3l0 7M564.8 1224.2l0 7M577.1 1218.1l0 7M589.5 1212l0 11M601.9 1205.9l0 7M614.3 1199.8l0 7M626.6 1193.7l0 7M639 1187.6l0 7M651.4 1181.5l0 11" stroke="#000" stroke-width="1.8" fill="none"/>
<text x="91" y="913.1" text-anchor="end" font-family="'Liberation Serif', 'Times New Roman', serif" font-size="17.5" fill="#000">50</text>
<text x="91" y="972.8" text-anchor="end" font-family="'Liberation Serif', 'Times New Roman', serif" font-size="17.5" fill="#000">0</text>
<text x="91" y="1033.6" text-anchor="end" font-family="'Liberation Serif', 'Times New Roman', serif" font-size="17.5" fill="#000">- 50</text>
<text x="91" y="1094.1" text-anchor="end" font-family="'Liberation Serif', 'Times New Roman', serif" font-size="17.5" fill="#000">- 100</text>
<text x="91" y="1153.9" text-anchor="end" font-family="'Liberation Serif', 'Times New Roman', serif" font-size="17.5" fill="#000">- 150</text>
<text x="110" y="1232.2" text-anchor="middle" font-family="'Liberation Serif', 'Times New Roman', serif" font-size="17.5" fill="#000">- 200</text>
<text x="183" y="1260.2" text-anchor="middle" font-family="'Liberation Serif', 'Times New Roman', serif" font-size="17.5" fill="#000">- 100</text>
<text x="255.7" y="1284.5" text-anchor="middle" font-family="'Liberation Serif', 'Times New Roman', serif" font-size="17.5" fill="#000">0</text>
<text x="330.3" y="1312.5" text-anchor="middle" font-family="'Liberation Serif', 'Times New Roman', serif" font-size="17.5" fill="#000">100</text>
<text x="403.1" y="1336.7" text-anchor="middle" font-family="'Liberation Serif', 'Times New Roman', serif" font-size="17.5" fill="#000">200</text>
<text x="466.6" y="1305" text-anchor="middle" font-family="'Liberation Serif', 'Times New Roman', serif" font-size="17.5" fill="#000">-0.5</text>
<text x="528.2" y="1273.3" text-anchor="middle" font-family="'Liberation Serif', 'Times New Roman', serif" font-size="17.5" fill="#000">0</text>
<text x="589.8" y="1243.4" text-anchor="middle" font-family="'Liberation Serif', 'Times New Roman', serif" font-size="17.5" fill="#000">0.5</text>
<text x="651.4" y="1211.7" text-anchor="middle" font-family="'Liberation Serif', 'Times New Roman', serif" font-size="17.5" fill="#000">1</text>
<path d="M348.2 1818.1L348.2 1483.1M348.2 1818.1L112 1939.4M348.2 1818.1L630.8 1920.7M348.2 1483.1L112 1604.4M348.2 1483.1L630.8 1585.7M112 1939.4L112 1604.4M630.8 1920.7L630.8 1585.7M112 1939.4L394.6 2042M394.6 2042L630.8 1920.7" stroke="#000" stroke-width="2" fill="none"/>
<g stroke="#1a1a1a" stroke-width="0.8" stroke-linejoin="round"><path d="M338.5 1813.5l11.5-0.5 10-5-12 0z" fill="#e7f"/><path d="M350 1813l3-1.5 10-5.1-3 1.6z" fill="#e7e" stroke="#e7e" stroke-width="0.6"/><path d="M353 1811.5l3-1.5 10-5.2-3 1.6z" fill="#d7e" stroke="#d7e" stroke-width="0.6"/><path d="M356 1810l3-1.5 10-5.4-3 1.6z" fill="#d7d" stroke="#d7d" stroke-width="0.6"/><path d="M359 1808.5l3-1.5 10-5.5-3 1.6z" fill="#d7d" stroke="#d7d" stroke-width="0.6"/><path d="M350 1813l12-6 10-5.5-12 6.5z" fill="none"/><path d="M328.5 1818.5l12 0 9.5-5.5-11.5 0.5z" fill="#e7e"/><path d="M362 1807l2.9-9.8 10-5.9-2.9 10.1z" fill="#b6b" stroke="#b6b" stroke-width="0.6"/><path d="M364.9 1797.2l2.9-9.8 10-6.2-2.9 10.1z" fill="#a5a" stroke="#a5a" stroke-width="0.6"/><path d="M367.8 1787.5l2.9-9.8 10-6.6-2.9 10.1z" fill="#959" stroke="#959" stroke-width="0.6"/><path d="M370.6 1777.8l2.9-9.8 10-7-2.9 10.1z" fill="#858" stroke="#858" stroke-width="0.6"/><path d="M362 1807l11.5-39 10-7-11.5 40.5z" fill="none"/><path d="M340.5 1818.5l2.9-1.5 9.6-5.5-3 1.5z" fill="#e7e" stroke="#e7e" stroke-width="0.6"/><path d="M343.4 1817l2.9-1.5 9.8-5.5-3 1.5z" fill="#e7e" stroke="#e7e" stroke-width="0.6"/><path d="M346.2 1815.5l2.9-1.5 9.9-5.5-3 1.5z" fill="#d7d" stroke="#d7d" stroke-width="0.6"/><path d="M349.1 1814l2.9-1.5 10-5.5-3 1.5z" fill="#d7d" stroke="#d7d" stroke-width="0.6"/><path d="M340.5 1818.5l11.5-6 10-5.5-12 6z" fill="none"/><path d="M318.5 1824l12 0 10-5.5-12 0z" fill="#e7e"/><path d="M373.5 1768l3-63.1 10-8.5-3 64.6z" fill="#848" stroke="#848" stroke-width="0.6"/><path d="M376.5 1704.9l3-63.1 10-10-3 64.6z" fill="#959" stroke="#959" stroke-width="0.6"/><path d="M379.5 1641.8l3-63.1 10-11.5-3 64.6z" fill="#959" stroke="#959" stroke-width="0.6"/><path d="M382.5 1578.6l3-63.1 10-13-3 64.6z" fill="#a6a" stroke="#a6a" stroke-width="0.6"/><path d="M373.5 1768l12-252.5 10-13-12 258.5z" fill="none"/><path d="M352 1812.5l3-9.5 9.9-5.8-2.9 9.8z" fill="#b6b" stroke="#b6b" stroke-width="0.6"/><path d="M355 1803l3-9.5 9.8-6-2.9 9.8z" fill="#a5a" stroke="#a5a" stroke-width="0.6"/><path d="M358 1793.5l3-9.5 9.6-6.2-2.9 9.8z" fill="#959" stroke="#959" stroke-width="0.6"/><path d="M361 1784l3-9.5 9.5-6.5-2.9 9.8z" fill="#858" stroke="#858" stroke-width="0.6"/><path d="M352 1812.5l12-38 9.5-6.5-11.5 39z" fill="none"/><path d="M330.5 1824l2.9-1.4 10-5.6-2.9 1.5z" fill="#e7d" stroke="#e7d" stroke-width="0.6"/><path d="M333.4 1822.6l2.9-1.4 10-5.8-2.9 1.5z" fill="#e7d" stroke="#e7d" stroke-width="0.6"/><path d="M336.2 1821.2l2.9-1.4 10-5.9-2.9 1.5z" fill="#d7d" stroke="#d7d" stroke-width="0.6"/><path d="M339.1 1819.9l2.9-1.4 10-6-2.9 1.5z" fill="#d7c" stroke="#d7c" stroke-width="0.6"/><path d="M330.5 1824l11.5-5.5 10-6-11.5 6z" fill="none"/><path d="M309 1829l11.5 0.5 10-5.5-12 0z" fill="#e7d"/><path d="M385.5 1515.5l2.9 33.9 10-12.2-2.9-34.6z" fill="#b6b" stroke="#b6b" stroke-width="0.6"/><path d="M388.4 1549.4l2.9 33.9 10-11.5-2.9-34.6z" fill="#a6a" stroke="#a6a" stroke-width="0.6"/><path d="M391.2 1583.2l2.9 33.9 10-10.8-2.9-34.6z" fill="#959" stroke="#959" stroke-width="0.6"/><path d="M394.1 1617.1l2.9 33.9 10-10-2.9-34.6z" fill="#859" stroke="#859" stroke-width="0.6"/><path d="M385.5 1515.5l11.5 135.5 10-10-11.5-138.5z" fill="none"/><path d="M364 1774.5l2.9-61.5 9.6-8.1-3 63.1z" fill="#858" stroke="#858" stroke-width="0.6"/><path d="M366.9 1713l2.9-61.5 9.8-9.8-3 63.1z" fill="#959" stroke="#959" stroke-width="0.6"/><path d="M369.8 1651.5l2.9-61.5 9.9-11.4-3 63.1z" fill="#959" stroke="#959" stroke-width="0.6"/><path d="M372.6 1590l2.9-61.5 10-13-3 63.1z" fill="#a6a" stroke="#a6a" stroke-width="0.6"/><path d="M364 1774.5l11.5-246 10-13-12 252.5z" fill="none"/><path d="M342 1818.5l3-9.4 10-6.1-3 9.5z" fill="#b6a" stroke="#b6a" stroke-width="0.6"/><path d="M345 1809.1l3-9.4 10-6.2-3 9.5z" fill="#a5a" stroke="#a5a" stroke-width="0.6"/><path d="M348 1799.8l3-9.4 10-6.4-3 9.5z" fill="#959" stroke="#959" stroke-width="0.6"/><path d="M351 1790.4l3-9.4 10-6.5-3 9.5z" fill="#858" stroke="#858" stroke-width="0.6"/><path d="M342 1818.5l12-37.5 10-6.5-12 38z" fill="none"/><path d="M320.5 1829.5l3-1.4 9.9-5.5-2.9 1.4z" fill="#e7d" stroke="#e7d" stroke-width="0.6"/><path d="M323.5 1828.1l3-1.4 9.8-5.5-2.9 1.4z" fill="#e7d" stroke="#e7d" stroke-width="0.6"/><path d="M326.5 1826.8l3-1.4 9.6-5.5-2.9 1.4z" fill="#d7c" stroke="#d7c" stroke-width="0.6"/><path d="M329.5 1825.4l3-1.4 9.5-5.5-2.9 1.4z" fill="#d7c" stroke="#d7c" stroke-width="0.6"/><path d="M320.5 1829.5l12-5.5 9.5-5.5-11.5 5.5z" fill="none"/><path d="M299 1834.5l12 0.5 9.5-5.5-11.5-0.5z" fill="#e7d"/><path d="M397 1651l3 26.2 10-9.4-3-26.9z" fill="#858" stroke="#858" stroke-width="0.6"/><path d="M400 1677.2l3 26.2 10-8.8-3-26.9z" fill="#959" stroke="#959" stroke-width="0.6"/><path d="M403 1703.5l3 26.2 10-8.1-3-26.9z" fill="#969" stroke="#969" stroke-width="0.6"/><path d="M406 1729.8l3 26.2 10-7.5-3-26.9z" fill="#96a" stroke="#96a" stroke-width="0.6"/><path d="M397 1651l12 105 10-7.5-12-107.5z" fill="none"/><path d="M375.5 1528.5l3 33.1 9.9-12.2-2.9-33.9z" fill="#b6b" stroke="#b6b" stroke-width="0.6"/><path d="M378.5 1561.6l3 33.1 9.8-11.5-2.9-33.9z" fill="#a6a" stroke="#a6a" stroke-width="0.6"/><path d="M381.5 1594.8l3 33.1 9.6-10.8-2.9-33.9z" fill="#969" stroke="#969" stroke-width="0.6"/><path d="M384.5 1627.9l3 33.1 9.5-10-2.9-33.9z" fill="#958" stroke="#958" stroke-width="0.6"/><path d="M375.5 1528.5l12 132.5 9.5-10-11.5-135.5z" fill="none"/><path d="M354 1781l3-59.9 9.9-8.1-2.9 61.5z" fill="#858" stroke="#858" stroke-width="0.6"/><path d="M357 1721.1l3-59.9 9.8-9.8-2.9 61.5z" fill="#958" stroke="#958" stroke-width="0.6"/><path d="M360 1661.2l3-59.9 9.6-11.4-2.9 61.5z" fill="#959" stroke="#959" stroke-width="0.6"/><path d="M363 1601.4l3-59.9 9.5-13-2.9 61.5z" fill="#a69" stroke="#a69" stroke-width="0.6"/><path d="M354 1781l12-239.5 9.5-13-11.5 246z" fill="none"/><path d="M332.5 1824l2.9-9 9.6-5.9-3 9.4z" fill="#b6a" stroke="#b6a" stroke-width="0.6"/><path d="M335.4 1815l2.9-9 9.8-6.2-3 9.4z" fill="#a69" stroke="#a69" stroke-width="0.6"/><path d="M338.2 1806l2.9-9 9.9-6.6-3 9.4z" fill="#958" stroke="#958" stroke-width="0.6"/><path d="M341.1 1797l2.9-9 10-7-3 9.4z" fill="#858" stroke="#858" stroke-width="0.6"/><path d="M332.5 1824l11.5-36 10-7-12 37.5z" fill="none"/><path d="M311 1835l2.9-1.4 9.6-5.5-3 1.4z" fill="#e7d" stroke="#e7d" stroke-width="0.6"/><path d="M313.9 1833.6l2.9-1.4 9.8-5.5-3 1.4z" fill="#e7c" stroke="#e7c" stroke-width="0.6"/><path d="M316.8 1832.2l2.9-1.4 9.9-5.5-3 1.4z" fill="#d7c" stroke="#d7c" stroke-width="0.6"/><path d="M319.6 1830.9l2.9-1.4 10-5.5-3 1.4z" fill="#d7c" stroke="#d7c" stroke-width="0.6"/><path d="M311 1835l11.5-5.5 10-5.5-12 5.5z" fill="none"/><path d="M289 1840l12 0 10-5-12-0.5z" fill="#e7c"/><path d="M409 1756l3 11.4 9.9-7.2-2.9-11.6z" fill="#a6a" stroke="#a6a" stroke-width="0.6"/><path d="M412 1767.4l3 11.4 9.8-7-2.9-11.6z" fill="#a6a" stroke="#a6a" stroke-width="0.6"/><path d="M415 1778.8l3 11.4 9.6-6.8-2.9-11.6z" fill="#b7b" stroke="#b7b" stroke-width="0.6"/><path d="M418 1790.1l3 11.4 9.5-6.5-2.9-11.6z" fill="#b7c" stroke="#b7c" stroke-width="0.6"/><path d="M409 1756l12 45.5 9.5-6.5-11.5-46.5z" fill="none"/><path d="M387.5 1661l2.9 25.5 9.6-9.2-3-26.2z" fill="#858" stroke="#858" stroke-width="0.6"/><path d="M390.4 1686.5l2.9 25.5 9.8-8.5-3-26.2z" fill="#959" stroke="#959" stroke-width="0.6"/><path d="M393.2 1712l2.9 25.5 9.9-7.8-3-26.2z" fill="#969" stroke="#969" stroke-width="0.6"/><path d="M396.1 1737.5l2.9 25.5 10-7-3-26.2z" fill="#969" stroke="#969" stroke-width="0.6"/><path d="M387.5 1661l11.5 102 10-7-12-105z" fill="none"/><path d="M366 1541.5l2.9 32.2 9.6-12.1-3-33.1z" fill="#b6a" stroke="#b6a" stroke-width="0.6"/><path d="M368.9 1573.8l2.9 32.2 9.8-11.2-3-33.1z" fill="#a6a" stroke="#a6a" stroke-width="0.6"/><path d="M371.8 1606l2.9 32.2 9.9-10.4-3-33.1z" fill="#969" stroke="#969" stroke-width="0.6"/><path d="M374.6 1638.2l2.9 32.2 10-9.5-3-33.1z" fill="#958" stroke="#958" stroke-width="0.6"/><path d="M366 1541.5l11.5 129 10-9.5-12-132.5z" fill="none"/><path d="M344 1788l3-58.4 10-8.5-3 59.9z" fill="#858" stroke="#858" stroke-width="0.6"/><path d="M347 1729.6l3-58.4 10-10-3 59.9z" fill="#958" stroke="#958" stroke-width="0.6"/><path d="M350 1671.2l3-58.4 10-11.5-3 59.9z" fill="#959" stroke="#959" stroke-width="0.6"/><path d="M353 1612.9l3-58.4 10-13-3 59.9z" fill="#a69" stroke="#a69" stroke-width="0.6"/><path d="M344 1788l12-233.5 10-13-12 239.5z" fill="none"/><path d="M322.5 1829.5l3-8.8 9.9-5.8-2.9 9z" fill="#b6a" stroke="#b6a" stroke-width="0.6"/><path d="M325.5 1820.8l3-8.8 9.8-6-2.9 9z" fill="#a69" stroke="#a69" stroke-width="0.6"/><path d="M328.5 1812l3-8.8 9.6-6.2-2.9 9z" fill="#958" stroke="#958" stroke-width="0.6"/><path d="M331.5 1803.2l3-8.8 9.5-6.5-2.9 9z" fill="#857" stroke="#857" stroke-width="0.6"/><path d="M322.5 1829.5l12-35 9.5-6.5-11.5 36z" fill="none"/><path d="M301 1840l2.9-1.2 10-5.1-2.9 1.4z" fill="#e7c" stroke="#e7c" stroke-width="0.6"/><path d="M303.9 1838.8l2.9-1.2 10-5.2-2.9 1.4z" fill="#e7c" stroke="#e7c" stroke-width="0.6"/><path d="M306.8 1837.5l2.9-1.2 10-5.4-2.9 1.4z" fill="#d7b" stroke="#d7b" stroke-width="0.6"/><path d="M309.6 1836.2l2.9-1.2 10-5.5-2.9 1.4z" fill="#d7b" stroke="#d7b" stroke-width="0.6"/><path d="M301 1840l11.5-5 10-5.5-11.5 5.5z" fill="none"/><path d="M421 1801.5l2.9 5.8 9.6-6.4-3-5.9z" fill="#c8c" stroke="#c8c" stroke-width="0.6"/><path d="M423.9 1807.2l2.9 5.8 9.8-6.2-3-5.9z" fill="#c8c" stroke="#c8c" stroke-width="0.6"/><path d="M426.8 1813l2.9 5.8 9.9-6.1-3-5.9z" fill="#d8d" stroke="#d8d" stroke-width="0.6"/><path d="M429.6 1818.8l2.9 5.8 10-6-3-5.9z" fill="#d9d" stroke="#d9d" stroke-width="0.6"/><path d="M421 1801.5l11.5 23 10-6-12-23.5z" fill="none"/><path d="M279.5 1845l11.5 0.5 10-5.5-12 0z" fill="#f7c"/><path d="M399 1763l3 11.2 10-6.9-3-11.4z" fill="#a6a" stroke="#a6a" stroke-width="0.6"/><path d="M402 1774.2l3 11.2 10-6.8-3-11.4z" fill="#a7a" stroke="#a7a" stroke-width="0.6"/><path d="M405 1785.5l3 11.2 10-6.6-3-11.4z" fill="#b7b" stroke="#b7b" stroke-width="0.6"/><path d="M408 1796.8l3 11.2 10-6.5-3-11.4z" fill="#b7b" stroke="#b7b" stroke-width="0.6"/><path d="M399 1763l12 45 10-6.5-12-45.5z" fill="none"/><path d="M377.5 1670.5l3 25 9.9-9-2.9-25.5z" fill="#858" stroke="#858" stroke-width="0.6"/><path d="M380.5 1695.5l3 25 9.8-8.5-2.9-25.5z" fill="#958" stroke="#958" stroke-width="0.6"/><path d="M383.5 1720.5l3 25 9.6-8-2.9-25.5z" fill="#969" stroke="#969" stroke-width="0.6"/><path d="M386.5 1745.5l3 25 9.5-7.5-2.9-25.5z" fill="#969" stroke="#969" stroke-width="0.6"/><path d="M377.5 1670.5l12 100 9.5-7.5-11.5-102z" fill="none"/><path d="M356 1554.5l2.9 31.5 10-12.2-2.9-32.2z" fill="#b6a" stroke="#b6a" stroke-width="0.6"/><path d="M358.9 1586l2.9 31.5 10-11.5-2.9-32.2z" fill="#a69" stroke="#a69" stroke-width="0.6"/><path d="M361.8 1617.5l2.9 31.5 10-10.8-2.9-32.2z" fill="#969" stroke="#969" stroke-width="0.6"/><path d="M364.6 1649l2.9 31.5 10-10-2.9-32.2z" fill="#958" stroke="#958" stroke-width="0.6"/><path d="M356 1554.5l11.5 126 10-10-11.5-129z" fill="none"/><path d="M334.5 1794.5l2.9-56.9 9.6-8-3 58.4z" fill="#857" stroke="#857" stroke-width="0.6"/><path d="M337.4 1737.6l2.9-56.9 9.8-9.5-3 58.4z" fill="#958" stroke="#958" stroke-width="0.6"/><path d="M340.2 1680.8l2.9-56.9 9.9-11-3 58.4z" fill="#958" stroke="#958" stroke-width="0.6"/><path d="M343.1 1623.9l2.9-56.9 10-12.5-3 58.4z" fill="#a69" stroke="#a69" stroke-width="0.6"/><path d="M334.5 1794.5l11.5-227.5 10-12.5-12 233.5z" fill="none"/><path d="M312.5 1835l3-8.5 10-5.8-3 8.8z" fill="#b69" stroke="#b69" stroke-width="0.6"/><path d="M315.5 1826.5l3-8.5 10-6-3 8.8z" fill="#a69" stroke="#a69" stroke-width="0.6"/><path d="M318.5 1818l3-8.5 10-6.2-3 8.8z" fill="#958" stroke="#958" stroke-width="0.6"/><path d="M321.5 1809.5l3-8.5 10-6.5-3 8.8z" fill="#857" stroke="#857" stroke-width="0.6"/><path d="M312.5 1835l12-34 10-6.5-12 35z" fill="none"/><path d="M432.5 1824.5l12 14.5 9.5-6-11.5-14.5z" fill="#e9e"/><path d="M291 1845.5l3-1.1 9.9-5.6-2.9 1.2z" fill="#e7c" stroke="#e7c" stroke-width="0.6"/><path d="M294 1844.4l3-1.1 9.8-5.8-2.9 1.2z" fill="#e7b" stroke="#e7b" stroke-width="0.6"/><path d="M297 1843.2l3-1.1 9.6-5.9-2.9 1.2z" fill="#d7b" stroke="#d7b" stroke-width="0.6"/><path d="M300 1842.1l3-1.1 9.5-6-2.9 1.2z" fill="#d7b" stroke="#d7b" stroke-width="0.6"/><path d="M291 1845.5l12-4.5 9.5-6-11.5 5z" fill="none"/><path d="M411 1808l2.9 5.6 10-6.4-2.9-5.8z" fill="#c8c" stroke="#c8c" stroke-width="0.6"/><path d="M413.9 1813.6l2.9 5.6 10-6.2-2.9-5.8z" fill="#c8c" stroke="#c8c" stroke-width="0.6"/><path d="M416.8 1819.2l2.9 5.6 10-6.1-2.9-5.8z" fill="#d8d" stroke="#d8d" stroke-width="0.6"/><path d="M419.6 1824.9l2.9 5.6 10-6-2.9-5.8z" fill="#d9d" stroke="#d9d" stroke-width="0.6"/><path d="M411 1808l11.5 22.5 10-6-11.5-23z" fill="none"/><path d="M269.5 1850.5l11.5 0.5 10-5.5-11.5-0.5z" fill="#f7b"/><path d="M389.5 1770.5l2.9 10.9 9.6-7.1-3-11.2z" fill="#a69" stroke="#a69" stroke-width="0.6"/><path d="M392.4 1781.4l2.9 10.9 9.8-6.8-3-11.2z" fill="#a7a" stroke="#a7a" stroke-width="0.6"/><path d="M395.2 1792.2l2.9 10.9 9.9-6.4-3-11.2z" fill="#b7a" stroke="#b7a" stroke-width="0.6"/><path d="M398.1 1803.1l2.9 10.9 10-6-3-11.2z" fill="#b7b" stroke="#b7b" stroke-width="0.6"/><path d="M389.5 1770.5l11.5 43.5 10-6-12-45z" fill="none"/><path d="M367.5 1680.5l3 24.2 10-9.2-3-25z" fill="#858" stroke="#858" stroke-width="0.6"/><path d="M370.5 1704.8l3 24.2 10-8.5-3-25z" fill="#958" stroke="#958" stroke-width="0.6"/><path d="M373.5 1729l3 24.2 10-7.8-3-25z" fill="#968" stroke="#968" stroke-width="0.6"/><path d="M376.5 1753.2l3 24.2 10-7-3-25z" fill="#a69" stroke="#a69" stroke-width="0.6"/><path d="M367.5 1680.5l12 97 10-7-12-100z" fill="none"/><path d="M346 1567l3 30.8 9.9-11.8-2.9-31.5z" fill="#b6a" stroke="#b6a" stroke-width="0.6"/><path d="M349 1597.8l3 30.8 9.8-11-2.9-31.5z" fill="#a69" stroke="#a69" stroke-width="0.6"/><path d="M352 1628.5l3 30.8 9.6-10.2-2.9-31.5z" fill="#968" stroke="#968" stroke-width="0.6"/><path d="M355 1659.2l3 30.8 9.5-9.5-2.9-31.5z" fill="#958" stroke="#958" stroke-width="0.6"/><path d="M346 1567l12 123 9.5-9.5-11.5-126z" fill="none"/><path d="M324.5 1801l2.9-55.5 10-7.9-2.9 56.9z" fill="#857" stroke="#857" stroke-width="0.6"/><path d="M327.4 1745.5l2.9-55.5 10-9.2-2.9 56.9z" fill="#958" stroke="#958" stroke-width="0.6"/><path d="M330.2 1690l2.9-55.5 10-10.6-2.9 56.9z" fill="#958" stroke="#958" stroke-width="0.6"/><path d="M333.1 1634.5l2.9-55.5 10-12-2.9 56.9z" fill="#a69" stroke="#a69" stroke-width="0.6"/><path d="M324.5 1801l11.5-222 10-12-11.5 227.5z" fill="none"/><path d="M444.5 1839l11.5 10 10-5.5-12-10.5z" fill="#eaf"/><path d="M303 1841l2.9-8.4 9.6-6.1-3 8.5z" fill="#b69" stroke="#b69" stroke-width="0.6"/><path d="M305.9 1832.6l2.9-8.4 9.8-6.2-3 8.5z" fill="#a68" stroke="#a68" stroke-width="0.6"/><path d="M308.8 1824.2l2.9-8.4 9.9-6.4-3 8.5z" fill="#958" stroke="#958" stroke-width="0.6"/><path d="M311.6 1815.9l2.9-8.4 10-6.5-3 8.5z" fill="#857" stroke="#857" stroke-width="0.6"/><path d="M303 1841l11.5-33.5 10-6.5-12 34z" fill="none"/><path d="M422.5 1830.5l12 14 10-5.5-12-14.5z" fill="#e9e"/><path d="M281 1851l3-1.1 10-5.5-3 1.1z" fill="#e8b" stroke="#e8b" stroke-width="0.6"/><path d="M284 1849.9l3-1.1 10-5.5-3 1.1z" fill="#e7b" stroke="#e7b" stroke-width="0.6"/><path d="M287 1848.8l3-1.1 10-5.5-3 1.1z" fill="#e7b" stroke="#e7b" stroke-width="0.6"/><path d="M290 1847.6l3-1.1 10-5.5-3 1.1z" fill="#d7a" stroke="#d7a" stroke-width="0.6"/><path d="M281 1851l12-4.5 10-5.5-12 4.5z" fill="none"/><path d="M401 1814l3 5.6 9.9-6-2.9-5.6z" fill="#c8b" stroke="#c8b" stroke-width="0.6"/><path d="M404 1819.6l3 5.6 9.8-6-2.9-5.6z" fill="#c8c" stroke="#c8c" stroke-width="0.6"/><path d="M407 1825.2l3 5.6 9.6-6-2.9-5.6z" fill="#d8c" stroke="#d8c" stroke-width="0.6"/><path d="M410 1830.9l3 5.6 9.5-6-2.9-5.6z" fill="#d9d" stroke="#d9d" stroke-width="0.6"/><path d="M401 1814l12 22.5 9.5-6-11.5-22.5z" fill="none"/><path d="M259.5 1855.5l12 1 9.5-5.5-11.5-0.5z" fill="#f8b"/><path d="M379.5 1777.5l3 10.8 9.9-6.9-2.9-10.9z" fill="#a69" stroke="#a69" stroke-width="0.6"/><path d="M382.5 1788.2l3 10.8 9.8-6.8-2.9-10.9z" fill="#a7a" stroke="#a7a" stroke-width="0.6"/><path d="M385.5 1799l3 10.8 9.6-6.6-2.9-10.9z" fill="#b7a" stroke="#b7a" stroke-width="0.6"/><path d="M388.5 1809.8l3 10.8 9.5-6.5-2.9-10.9z" fill="#c7b" stroke="#c7b" stroke-width="0.6"/><path d="M379.5 1777.5l12 43 9.5-6.5-11.5-43.5z" fill="none"/><path d="M358 1690l2.9 23.8 9.6-9-3-24.2z" fill="#857" stroke="#857" stroke-width="0.6"/><path d="M360.9 1713.8l2.9 23.8 9.8-8.5-3-24.2z" fill="#958" stroke="#958" stroke-width="0.6"/><path d="M363.8 1737.5l2.9 23.8 9.9-8-3-24.2z" fill="#968" stroke="#968" stroke-width="0.6"/><path d="M366.6 1761.2l2.9 23.8 10-7.5-3-24.2z" fill="#a68" stroke="#a68" stroke-width="0.6"/><path d="M358 1690l11.5 95 10-7.5-12-97z" fill="none"/><path d="M336 1579l3 30 10-11.2-3-30.8z" fill="#b79" stroke="#b79" stroke-width="0.6"/><path d="M339 1609l3 30 10-10.5-3-30.8z" fill="#a69" stroke="#a69" stroke-width="0.6"/><path d="M342 1639l3 30 10-9.8-3-30.8z" fill="#a68" stroke="#a68" stroke-width="0.6"/><path d="M345 1669l3 30 10-9-3-30.8z" fill="#957" stroke="#957" stroke-width="0.6"/><path d="M336 1579l12 120 10-9-12-123z" fill="none"/><path d="M456 1849l12 8 9.5-5.5-11.5-8z" fill="#fbf"/><path d="M314.5 1807.5l3-54.1 9.9-7.9-2.9 55.5z" fill="#857" stroke="#857" stroke-width="0.6"/><path d="M317.5 1753.4l3-54.1 9.8-9.2-2.9 55.5z" fill="#957" stroke="#957" stroke-width="0.6"/><path d="M320.5 1699.2l3-54.1 9.6-10.6-2.9 55.5z" fill="#a68" stroke="#a68" stroke-width="0.6"/><path d="M323.5 1645.1l3-54.1 9.5-12-2.9 55.5z" fill="#a68" stroke="#a68" stroke-width="0.6"/><path d="M314.5 1807.5l12-216.5 9.5-12-11.5 222z" fill="none"/><path d="M434.5 1844.5l12 10 9.5-5.5-11.5-10z" fill="#fae"/><path d="M293 1846.5l3-8.1 9.9-5.8-2.9 8.4z" fill="#b69" stroke="#b69" stroke-width="0.6"/><path d="M296 1838.4l3-8.1 9.8-6-2.9 8.4z" fill="#a68" stroke="#a68" stroke-width="0.6"/><path d="M299 1830.2l3-8.1 9.6-6.2-2.9 8.4z" fill="#957" stroke="#957" stroke-width="0.6"/><path d="M302 1822.1l3-8.1 9.5-6.5-2.9 8.4z" fill="#957" stroke="#957" stroke-width="0.6"/><path d="M293 1846.5l12-32.5 9.5-6.5-11.5 33.5z" fill="none"/><path d="M413 1836.5l11.5 13.5 10-5.5-12-14z" fill="#e9d"/><path d="M271.5 1856.5l2.9-1.1 9.6-5.5-3 1.1z" fill="#e8b" stroke="#e8b" stroke-width="0.6"/><path d="M274.4 1855.4l2.9-1.1 9.8-5.5-3 1.1z" fill="#e7a" stroke="#e7a" stroke-width="0.6"/><path d="M277.2 1854.2l2.9-1.1 9.9-5.5-3 1.1z" fill="#e7a" stroke="#e7a" stroke-width="0.6"/><path d="M280.1 1853.1l2.9-1.1 10-5.5-3 1.1z" fill="#d7a" stroke="#d7a" stroke-width="0.6"/><path d="M271.5 1856.5l11.5-4.5 10-5.5-12 4.5z" fill="none"/><path d="M391.5 1820.5l2.9 5.4 9.6-6.2-3-5.6z" fill="#c8b" stroke="#c8b" stroke-width="0.6"/><path d="M394.4 1825.9l2.9 5.4 9.8-6-3-5.6z" fill="#c8b" stroke="#c8b" stroke-width="0.6"/><path d="M397.2 1831.2l2.9 5.4 9.9-5.8-3-5.6z" fill="#d9c" stroke="#d9c" stroke-width="0.6"/><path d="M400.1 1836.6l2.9 5.4 10-5.5-3-5.6z" fill="#d9c" stroke="#d9c" stroke-width="0.6"/><path d="M391.5 1820.5l11.5 21.5 10-5.5-12-22.5z" fill="none"/><path d="M250 1861l11.5 0.5 10-5-12-1z" fill="#f8a"/><path d="M369.5 1785l3 10.4 10-7.1-3-10.8z" fill="#a69" stroke="#a69" stroke-width="0.6"/><path d="M372.5 1795.4l3 10.4 10-6.8-3-10.8z" fill="#b79" stroke="#b79" stroke-width="0.6"/><path d="M375.5 1805.8l3 10.4 10-6.4-3-10.8z" fill="#b7a" stroke="#b7a" stroke-width="0.6"/><path d="M378.5 1816.1l3 10.4 10-6-3-10.8z" fill="#c8a" stroke="#c8a" stroke-width="0.6"/><path d="M369.5 1785l12 41.5 10-6-12-43z" fill="none"/><path d="M348 1699l3 23.2 9.9-8.5-2.9-23.8z" fill="#957" stroke="#957" stroke-width="0.6"/><path d="M351 1722.2l3 23.2 9.8-8-2.9-23.8z" fill="#958" stroke="#958" stroke-width="0.6"/><path d="M354 1745.5l3 23.2 9.6-7.5-2.9-23.8z" fill="#968" stroke="#968" stroke-width="0.6"/><path d="M357 1768.8l3 23.2 9.5-7-2.9-23.8z" fill="#a68" stroke="#a68" stroke-width="0.6"/><path d="M348 1699l12 93 9.5-7-11.5-95z" fill="none"/><path d="M468 1857l11.5 7 10-5.5-12-7z" fill="#fbf"/><path d="M326.5 1591l2.9 29.4 9.6-11.4-3-30z" fill="#b79" stroke="#b79" stroke-width="0.6"/><path d="M329.4 1620.4l2.9 29.4 9.8-10.8-3-30z" fill="#a68" stroke="#a68" stroke-width="0.6"/><path d="M332.2 1649.8l2.9 29.4 9.9-10.1-3-30z" fill="#a68" stroke="#a68" stroke-width="0.6"/><path d="M335.1 1679.1l2.9 29.4 10-9.5-3-30z" fill="#957" stroke="#957" stroke-width="0.6"/><path d="M326.5 1591l11.5 117.5 10-9.5-12-120z" fill="none"/><path d="M446.5 1854.5l11.5 8 10-5.5-12-8z" fill="#fbf"/><path d="M305 1814l2.9-52.8 9.6-7.9-3 54.1z" fill="#857" stroke="#857" stroke-width="0.6"/><path d="M307.9 1761.2l2.9-52.8 9.8-9.2-3 54.1z" fill="#957" stroke="#957" stroke-width="0.6"/><path d="M310.8 1708.5l2.9-52.8 9.9-10.6-3 54.1z" fill="#a67" stroke="#a67" stroke-width="0.6"/><path d="M313.6 1655.8l2.9-52.8 10-12-3 54.1z" fill="#a68" stroke="#a68" stroke-width="0.6"/><path d="M305 1814l11.5-211 10-12-12 216.5z" fill="none"/><path d="M424.5 1850l12 10 10-5.5-12-10z" fill="#fae"/><path d="M283 1852l3-7.9 10-5.8-3 8.1z" fill="#b68" stroke="#b68" stroke-width="0.6"/><path d="M286 1844.1l3-7.9 10-6-3 8.1z" fill="#a68" stroke="#a68" stroke-width="0.6"/><path d="M289 1836.2l3-7.9 10-6.2-3 8.1z" fill="#a57" stroke="#a57" stroke-width="0.6"/><path d="M292 1828.4l3-7.9 10-6.5-3 8.1z" fill="#956" stroke="#956" stroke-width="0.6"/><path d="M283 1852l12-31.5 10-6.5-12 32.5z" fill="none"/><path d="M403 1842l12 13.5 9.5-5.5-11.5-13.5z" fill="#ead"/><path d="M261.5 1861.5l3-1 9.9-5.1-2.9 1.1z" fill="#e8a" stroke="#e8a" stroke-width="0.6"/><path d="M264.5 1860.5l3-1 9.8-5.2-2.9 1.1z" fill="#e8a" stroke="#e8a" stroke-width="0.6"/><path d="M267.5 1859.5l3-1 9.6-5.4-2.9 1.1z" fill="#e7a" stroke="#e7a" stroke-width="0.6"/><path d="M270.5 1858.5l3-1 9.5-5.5-2.9 1.1z" fill="#d79" stroke="#d79" stroke-width="0.6"/><path d="M261.5 1861.5l12-4 9.5-5.5-11.5 4.5z" fill="none"/><path d="M381.5 1826.5l2.9 5.4 10-6-2.9-5.4z" fill="#c8b" stroke="#c8b" stroke-width="0.6"/><path d="M384.4 1831.9l2.9 5.4 10-6-2.9-5.4z" fill="#d8b" stroke="#d8b" stroke-width="0.6"/><path d="M387.2 1837.2l2.9 5.4 10-6-2.9-5.4z" fill="#d9b" stroke="#d9b" stroke-width="0.6"/><path d="M390.1 1842.6l2.9 5.4 10-6-2.9-5.4z" fill="#d9c" stroke="#d9c" stroke-width="0.6"/><path d="M381.5 1826.5l11.5 21.5 10-6-11.5-21.5z" fill="none"/><path d="M240 1866l11.5 1 10-5.5-11.5-0.5z" fill="#f8a"/><path d="M360 1792l2.9 10.2 9.6-6.9-3-10.4z" fill="#a69" stroke="#a69" stroke-width="0.6"/><path d="M362.9 1802.2l2.9 10.2 9.8-6.8-3-10.4z" fill="#b79" stroke="#b79" stroke-width="0.6"/><path d="M365.8 1812.5l2.9 10.2 9.9-6.6-3-10.4z" fill="#b79" stroke="#b79" stroke-width="0.6"/><path d="M368.6 1822.8l2.9 10.2 10-6.5-3-10.4z" fill="#c8a" stroke="#c8a" stroke-width="0.6"/><path d="M360 1792l11.5 41 10-6.5-12-41.5z" fill="none"/><path d="M479.5 1864l12 6 10-5.5-12-6z" fill="#fbf"/><path d="M338 1708.5l3 22.6 10-8.9-3-23.2z" fill="#957" stroke="#957" stroke-width="0.6"/><path d="M341 1731.1l3 22.6 10-8.2-3-23.2z" fill="#967" stroke="#967" stroke-width="0.6"/><path d="M344 1753.8l3 22.6 10-7.6-3-23.2z" fill="#968" stroke="#968" stroke-width="0.6"/><path d="M347 1776.4l3 22.6 10-7-3-23.2z" fill="#a68" stroke="#a68" stroke-width="0.6"/><path d="M338 1708.5l12 90.5 10-7-12-93z" fill="none"/><path d="M458 1862.5l12 6.5 9.5-5-11.5-7z" fill="#fbf"/><path d="M316.5 1603l3 28.6 9.9-11.2-2.9-29.4z" fill="#b79" stroke="#b79" stroke-width="0.6"/><path d="M319.5 1631.6l3 28.6 9.8-10.5-2.9-29.4z" fill="#a68" stroke="#a68" stroke-width="0.6"/><path d="M322.5 1660.2l3 28.6 9.6-9.8-2.9-29.4z" fill="#a68" stroke="#a68" stroke-width="0.6"/><path d="M325.5 1688.9l3 28.6 9.5-9-2.9-29.4z" fill="#957" stroke="#957" stroke-width="0.6"/><path d="M316.5 1603l12 114.5 9.5-9-11.5-117.5z" fill="none"/><path d="M436.5 1860l11.5 8 10-5.5-11.5-8z" fill="#fbe"/><path d="M295 1820.5l2.9-51.4 10-7.9-2.9 52.8z" fill="#856" stroke="#856" stroke-width="0.6"/><path d="M297.9 1769.1l2.9-51.4 10-9.2-2.9 52.8z" fill="#957" stroke="#957" stroke-width="0.6"/><path d="M300.8 1717.8l2.9-51.4 10-10.6-2.9 52.8z" fill="#a67" stroke="#a67" stroke-width="0.6"/><path d="M303.6 1666.4l2.9-51.4 10-12-2.9 52.8z" fill="#a68" stroke="#a68" stroke-width="0.6"/><path d="M295 1820.5l11.5-205.5 10-12-11.5 211z" fill="none"/><path d="M415 1855.5l11.5 10 10-5.5-12-10z" fill="#fad"/><path d="M273.5 1857.5l2.9-7.6 9.6-5.8-3 7.9z" fill="#b68" stroke="#b68" stroke-width="0.6"/><path d="M276.4 1849.9l2.9-7.6 9.8-6-3 7.9z" fill="#a67" stroke="#a67" stroke-width="0.6"/><path d="M279.2 1842.2l2.9-7.6 9.9-6.2-3 7.9z" fill="#a57" stroke="#a57" stroke-width="0.6"/><path d="M282.1 1834.6l2.9-7.6 10-6.5-3 7.9z" fill="#956" stroke="#956" stroke-width="0.6"/><path d="M273.5 1857.5l11.5-30.5 10-6.5-12 31.5z" fill="none"/><path d="M393 1848l12 13.5 10-6-12-13.5z" fill="#eac"/><path d="M251.5 1867l3-1 10-5.5-3 1z" fill="#e8a" stroke="#e8a" stroke-width="0.6"/><path d="M254.5 1866l3-1 10-5.5-3 1z" fill="#e8a" stroke="#e8a" stroke-width="0.6"/><path d="M257.5 1865l3-1 10-5.5-3 1z" fill="#e79" stroke="#e79" stroke-width="0.6"/><path d="M260.5 1864l3-1 10-5.5-3 1z" fill="#d79" stroke="#d79" stroke-width="0.6"/><path d="M251.5 1867l12-4 10-5.5-12 4z" fill="none"/><path d="M371.5 1833l3 5.2 9.9-6.4-2.9-5.4z" fill="#c8a" stroke="#c8a" stroke-width="0.6"/><path d="M374.5 1838.2l3 5.2 9.8-6.2-2.9-5.4z" fill="#d8b" stroke="#d8b" stroke-width="0.6"/><path d="M377.5 1843.5l3 5.2 9.6-6.1-2.9-5.4z" fill="#d9b" stroke="#d9b" stroke-width="0.6"/><path d="M380.5 1848.8l3 5.2 9.5-6-2.9-5.4z" fill="#d9b" stroke="#d9b" stroke-width="0.6"/><path d="M371.5 1833l12 21 9.5-6-11.5-21.5z" fill="none"/><path d="M491.5 1870l11.5 5.5 10-5-11.5-6z" fill="#fcf"/><path d="M230 1871.5l12 1 9.5-5.5-11.5-1z" fill="#f89"/><path d="M350 1799l2.9 10 10-6.8-2.9-10.2z" fill="#a68" stroke="#a68" stroke-width="0.6"/><path d="M352.9 1809l2.9 10 10-6.5-2.9-10.2z" fill="#b79" stroke="#b79" stroke-width="0.6"/><path d="M355.8 1819l2.9 10 10-6.2-2.9-10.2z" fill="#b79" stroke="#b79" stroke-width="0.6"/><path d="M358.6 1829l2.9 10 10-6-2.9-10.2z" fill="#c8a" stroke="#c8a" stroke-width="0.6"/><path d="M350 1799l11.5 40 10-6-11.5-41z" fill="none"/><path d="M470 1869l11.5 6.5 10-5.5-12-6z" fill="#fcf"/><path d="M328.5 1717.5l2.9 22.1 9.6-8.5-3-22.6z" fill="#957" stroke="#957" stroke-width="0.6"/><path d="M331.4 1739.6l2.9 22.1 9.8-8-3-22.6z" fill="#967" stroke="#967" stroke-width="0.6"/><path d="M334.2 1761.8l2.9 22.1 9.9-7.5-3-22.6z" fill="#967" stroke="#967" stroke-width="0.6"/><path d="M337.1 1783.9l2.9 22.1 10-7-3-22.6z" fill="#a68" stroke="#a68" stroke-width="0.6"/><path d="M328.5 1717.5l11.5 88.5 10-7-12-90.5z" fill="none"/><path d="M448 1868l12 6.5 10-5.5-12-6.5z" fill="#fbe"/><path d="M306.5 1615l3 27.9 10-11.2-3-28.6z" fill="#b78" stroke="#b78" stroke-width="0.6"/><path d="M309.5 1642.9l3 27.9 10-10.5-3-28.6z" fill="#b68" stroke="#b68" stroke-width="0.6"/><path d="M312.5 1670.8l3 27.9 10-9.8-3-28.6z" fill="#a67" stroke="#a67" stroke-width="0.6"/><path d="M315.5 1698.6l3 27.9 10-9-3-28.6z" fill="#957" stroke="#957" stroke-width="0.6"/><path d="M306.5 1615l12 111.5 10-9-12-114.5z" fill="none"/><path d="M426.5 1865.5l12 7.5 9.5-5-11.5-8z" fill="#fbe"/><path d="M285 1827l3-50.1 9.9-7.8-2.9 51.4z" fill="#956" stroke="#956" stroke-width="0.6"/><path d="M288 1776.9l3-50.1 9.8-9-2.9 51.4z" fill="#956" stroke="#956" stroke-width="0.6"/><path d="M291 1726.8l3-50.1 9.6-10.2-2.9 51.4z" fill="#a67" stroke="#a67" stroke-width="0.6"/><path d="M294 1676.6l3-50.1 9.5-11.5-2.9 51.4z" fill="#a67" stroke="#a67" stroke-width="0.6"/><path d="M285 1827l12-200.5 9.5-11.5-11.5 205.5z" fill="none"/><path d="M405 1861.5l11.5 9.5 10-5.5-11.5-10z" fill="#fad"/><path d="M263.5 1863l3-7.4 9.9-5.8-2.9 7.6z" fill="#b68" stroke="#b68" stroke-width="0.6"/><path d="M266.5 1855.6l3-7.4 9.8-6-2.9 7.6z" fill="#b67" stroke="#b67" stroke-width="0.6"/><path d="M269.5 1848.2l3-7.4 9.6-6.2-2.9 7.6z" fill="#a56" stroke="#a56" stroke-width="0.6"/><path d="M272.5 1840.9l3-7.4 9.5-6.5-2.9 7.6z" fill="#956" stroke="#956" stroke-width="0.6"/><path d="M263.5 1863l12-29.5 9.5-6.5-11.5 30.5z" fill="none"/><path d="M383.5 1854l11.5 13 10-5.5-12-13.5z" fill="#eac"/><path d="M503 1875.5l12 5.5 10-5.5-12-5z" fill="#fcf"/><path d="M242 1872.5l2.9-1 9.6-5.5-3 1z" fill="#e89" stroke="#e89" stroke-width="0.6"/><path d="M244.9 1871.5l2.9-1 9.8-5.5-3 1z" fill="#e89" stroke="#e89" stroke-width="0.6"/><path d="M247.8 1870.5l2.9-1 9.9-5.5-3 1z" fill="#e89" stroke="#e89" stroke-width="0.6"/><path d="M250.6 1869.5l2.9-1 10-5.5-3 1z" fill="#e79" stroke="#e79" stroke-width="0.6"/><path d="M242 1872.5l11.5-4 10-5.5-12 4z" fill="none"/><path d="M361.5 1839l3 5.1 10-5.9-3-5.2z" fill="#c8a" stroke="#c8a" stroke-width="0.6"/><path d="M364.5 1844.1l3 5.1 10-5.8-3-5.2z" fill="#d8a" stroke="#d8a" stroke-width="0.6"/><path d="M367.5 1849.2l3 5.1 10-5.6-3-5.2z" fill="#d9b" stroke="#d9b" stroke-width="0.6"/><path d="M370.5 1854.4l3 5.1 10-5.5-3-5.2z" fill="#e9b" stroke="#e9b" stroke-width="0.6"/><path d="M361.5 1839l12 20.5 10-5.5-12-21z" fill="none"/><path d="M481.5 1875.5l12 5.5 9.5-5.5-11.5-5.5z" fill="#fcf"/><path d="M220.5 1876.5l11.5 1 10-5-12-1z" fill="#f89"/><path d="M340 1806l3 9.8 9.9-6.8-2.9-10z" fill="#a78" stroke="#a78" stroke-width="0.6"/><path d="M343 1815.8l3 9.8 9.8-6.5-2.9-10z" fill="#b78" stroke="#b78" stroke-width="0.6"/><path d="M346 1825.5l3 9.8 9.6-6.2-2.9-10z" fill="#b79" stroke="#b79" stroke-width="0.6"/><path d="M349 1835.2l3 9.8 9.5-6-2.9-10z" fill="#c89" stroke="#c89" stroke-width="0.6"/><path d="M340 1806l12 39 9.5-6-11.5-40z" fill="none"/><path d="M460 1874.5l12 6 9.5-5-11.5-6.5z" fill="#fce"/><path d="M318.5 1726.5l3 21.6 9.9-8.5-2.9-22.1z" fill="#956" stroke="#956" stroke-width="0.6"/><path d="M321.5 1748.1l3 21.6 9.8-8-2.9-22.1z" fill="#967" stroke="#967" stroke-width="0.6"/><path d="M324.5 1769.8l3 21.6 9.6-7.5-2.9-22.1z" fill="#967" stroke="#967" stroke-width="0.6"/><path d="M327.5 1791.4l3 21.6 9.5-7-2.9-22.1z" fill="#a67" stroke="#a67" stroke-width="0.6"/><path d="M318.5 1726.5l12 86.5 9.5-7-11.5-88.5z" fill="none"/><path d="M438.5 1873l11.5 7 10-5.5-12-6.5z" fill="#fbe"/><path d="M297 1626.5l2.9 27.2 9.6-10.9-3-27.9z" fill="#b78" stroke="#b78" stroke-width="0.6"/><path d="M299.9 1653.8l2.9 27.2 9.8-10.2-3-27.9z" fill="#b68" stroke="#b68" stroke-width="0.6"/><path d="M302.8 1681l2.9 27.2 9.9-9.6-3-27.9z" fill="#a67" stroke="#a67" stroke-width="0.6"/><path d="M305.6 1708.2l2.9 27.2 10-9-3-27.9z" fill="#956" stroke="#956" stroke-width="0.6"/><path d="M297 1626.5l11.5 109 10-9-12-111.5z" fill="none"/><path d="M416.5 1871l12 7.5 10-5.5-12-7.5z" fill="#fbd"/><path d="M275.5 1833.5l2.9-48.9 9.6-7.8-3 50.1z" fill="#956" stroke="#956" stroke-width="0.6"/><path d="M278.4 1784.6l2.9-48.9 9.8-9-3 50.1z" fill="#956" stroke="#956" stroke-width="0.6"/><path d="M281.2 1735.8l2.9-48.9 9.9-10.2-3 50.1z" fill="#a67" stroke="#a67" stroke-width="0.6"/><path d="M284.1 1686.9l2.9-48.9 10-11.5-3 50.1z" fill="#a67" stroke="#a67" stroke-width="0.6"/><path d="M275.5 1833.5l11.5-195.5 10-11.5-12 200.5z" fill="none"/><path d="M395 1867l12 9.5 9.5-5.5-11.5-9.5z" fill="#fac"/><path d="M515 1881l12 5 9.5-5-11.5-5.5z" fill="#fdf"/><path d="M253.5 1868.5l3-7.1 10-5.8-3 7.4z" fill="#c67" stroke="#c67" stroke-width="0.6"/><path d="M256.5 1861.4l3-7.1 10-6-3 7.4z" fill="#b67" stroke="#b67" stroke-width="0.6"/><path d="M259.5 1854.2l3-7.1 10-6.2-3 7.4z" fill="#a56" stroke="#a56" stroke-width="0.6"/><path d="M262.5 1847.1l3-7.1 10-6.5-3 7.4z" fill="#956" stroke="#956" stroke-width="0.6"/><path d="M253.5 1868.5l12-28.5 10-6.5-12 29.5z" fill="none"/><path d="M373.5 1859.5l12 13 9.5-5.5-11.5-13z" fill="#eab"/><path d="M493.5 1881l11.5 5 10-5-12-5.5z" fill="#fcf"/><path d="M232 1877.5l3-0.9 9.9-5.1-2.9 1z" fill="#f89" stroke="#f89" stroke-width="0.6"/><path d="M235 1876.6l3-0.9 9.8-5.2-2.9 1z" fill="#e89" stroke="#e89" stroke-width="0.6"/><path d="M238 1875.8l3-0.9 9.6-5.4-2.9 1z" fill="#e88" stroke="#e88" stroke-width="0.6"/><path d="M241 1874.9l3-0.9 9.5-5.5-2.9 1z" fill="#e78" stroke="#e78" stroke-width="0.6"/><path d="M232 1877.5l12-3.5 9.5-5.5-11.5 4z" fill="none"/><path d="M352 1845l2.9 5.1 9.6-6-3-5.1z" fill="#c8a" stroke="#c8a" stroke-width="0.6"/><path d="M354.9 1850.1l2.9 5.1 9.8-6-3-5.1z" fill="#d8a" stroke="#d8a" stroke-width="0.6"/><path d="M357.8 1855.2l2.9 5.1 9.9-6-3-5.1z" fill="#d9a" stroke="#d9a" stroke-width="0.6"/><path d="M360.6 1860.4l2.9 5.1 10-6-3-5.1z" fill="#e9b" stroke="#e9b" stroke-width="0.6"/><path d="M352 1845l11.5 20.5 10-6-12-20.5z" fill="none"/><path d="M472 1880.5l11.5 5.5 10-5-12-5.5z" fill="#fce"/><path d="M210.5 1882l11.5 1 10-5.5-11.5-1z" fill="#f88"/><path d="M330.5 1813l2.9 9.6 9.6-6.9-3-9.8z" fill="#a78" stroke="#a78" stroke-width="0.6"/><path d="M333.4 1822.6l2.9 9.6 9.8-6.8-3-9.8z" fill="#b78" stroke="#b78" stroke-width="0.6"/><path d="M336.2 1832.2l2.9 9.6 9.9-6.6-3-9.8z" fill="#b78" stroke="#b78" stroke-width="0.6"/><path d="M339.1 1841.9l2.9 9.6 10-6.5-3-9.8z" fill="#c89" stroke="#c89" stroke-width="0.6"/><path d="M330.5 1813l11.5 38.5 10-6.5-12-39z" fill="none"/><path d="M450 1880l12 6 10-5.5-12-6z" fill="#fce"/><path d="M308.5 1735.5l3 21.1 10-8.5-3-21.6z" fill="#956" stroke="#956" stroke-width="0.6"/><path d="M311.5 1756.6l3 21.1 10-8-3-21.6z" fill="#966" stroke="#966" stroke-width="0.6"/><path d="M314.5 1777.8l3 21.1 10-7.5-3-21.6z" fill="#a67" stroke="#a67" stroke-width="0.6"/><path d="M317.5 1798.9l3 21.1 10-7-3-21.6z" fill="#a67" stroke="#a67" stroke-width="0.6"/><path d="M308.5 1735.5l12 84.5 10-7-12-86.5z" fill="none"/><path d="M428.5 1878.5l12 6.5 9.5-5-11.5-7z" fill="#fbd"/><path d="M287 1638l3 26.6 9.9-10.9-2.9-27.2z" fill="#c78" stroke="#c78" stroke-width="0.6"/><path d="M290 1664.6l3 26.6 9.8-10.2-2.9-27.2z" fill="#b67" stroke="#b67" stroke-width="0.6"/><path d="M293 1691.2l3 26.6 9.6-9.6-2.9-27.2z" fill="#a67" stroke="#a67" stroke-width="0.6"/><path d="M296 1717.9l3 26.6 9.5-9-2.9-27.2z" fill="#966" stroke="#966" stroke-width="0.6"/><path d="M287 1638l12 106.5 9.5-9-11.5-109z" fill="none"/><path d="M407 1876.5l11.5 7.5 10-5.5-12-7.5z" fill="#fbd"/><path d="M527 1886l11.5 5 10-5-12-5z" fill="#fdf"/><path d="M265.5 1840l2.9-47.6 10-7.8-2.9 48.9z" fill="#956" stroke="#956" stroke-width="0.6"/><path d="M268.4 1792.4l2.9-47.6 10-9-2.9 48.9z" fill="#956" stroke="#956" stroke-width="0.6"/><path d="M271.2 1744.8l2.9-47.6 10-10.2-2.9 48.9z" fill="#a66" stroke="#a66" stroke-width="0.6"/><path d="M274.1 1697.1l2.9-47.6 10-11.5-2.9 48.9z" fill="#b67" stroke="#b67" stroke-width="0.6"/><path d="M265.5 1840l11.5-190.5 10-11.5-11.5 195.5z" fill="none"/><path d="M385.5 1872.5l11.5 9.5 10-5.5-12-9.5z" fill="#fac"/><path d="M505 1886l12 5.5 10-5.5-12-5z" fill="#fdf"/><path d="M244 1874l2.9-7 9.6-5.6-3 7.1z" fill="#c67" stroke="#c67" stroke-width="0.6"/><path d="M246.9 1867l2.9-7 9.8-5.8-3 7.1z" fill="#b66" stroke="#b66" stroke-width="0.6"/><path d="M249.8 1860l2.9-7 9.9-5.9-3 7.1z" fill="#a66" stroke="#a66" stroke-width="0.6"/><path d="M252.6 1853l2.9-7 10-6-3 7.1z" fill="#955" stroke="#955" stroke-width="0.6"/><path d="M244 1874l11.5-28 10-6-12 28.5z" fill="none"/><path d="M363.5 1865.5l12 12.5 10-5.5-12-13z" fill="#eab"/><path d="M483.5 1886l12 5.5 9.5-5.5-11.5-5z" fill="#fce"/><path d="M222 1883l3-0.9 10-5.5-3 0.9z" fill="#f88" stroke="#f88" stroke-width="0.6"/><path d="M225 1882.1l3-0.9 10-5.5-3 0.9z" fill="#e88" stroke="#e88" stroke-width="0.6"/><path d="M228 1881.2l3-0.9 10-5.5-3 0.9z" fill="#e88" stroke="#e88" stroke-width="0.6"/><path d="M231 1880.4l3-0.9 10-5.5-3 0.9z" fill="#e88" stroke="#e88" stroke-width="0.6"/><path d="M222 1883l12-3.5 10-5.5-12 3.5z" fill="none"/><path d="M342 1851.5l3 4.9 9.9-6.2-2.9-5.1z" fill="#c89" stroke="#c89" stroke-width="0.6"/><path d="M345 1856.4l3 4.9 9.8-6-2.9-5.1z" fill="#d8a" stroke="#d8a" stroke-width="0.6"/><path d="M348 1861.2l3 4.9 9.6-5.8-2.9-5.1z" fill="#d9a" stroke="#d9a" stroke-width="0.6"/><path d="M351 1866.1l3 4.9 9.5-5.5-2.9-5.1z" fill="#e9a" stroke="#e9a" stroke-width="0.6"/><path d="M342 1851.5l12 19.5 9.5-5.5-11.5-20.5z" fill="none"/><path d="M462 1886l11.5 5.5 10-5.5-11.5-5.5z" fill="#fce"/><path d="M200.5 1887l12 1.5 9.5-5.5-11.5-1z" fill="#f88"/><path d="M320.5 1820l2.9 9.4 10-6.8-2.9-9.6z" fill="#a77" stroke="#a77" stroke-width="0.6"/><path d="M323.4 1829.4l2.9 9.4 10-6.5-2.9-9.6z" fill="#b78" stroke="#b78" stroke-width="0.6"/><path d="M326.2 1838.8l2.9 9.4 10-6.2-2.9-9.6z" fill="#b78" stroke="#b78" stroke-width="0.6"/><path d="M329.1 1848.1l2.9 9.4 10-6-2.9-9.6z" fill="#c89" stroke="#c89" stroke-width="0.6"/><path d="M320.5 1820l11.5 37.5 10-6-11.5-38.5z" fill="none"/><path d="M440.5 1885l11.5 6 10-5-12-6z" fill="#fcd"/><path d="M299 1744.5l2.9 20.6 9.6-8.5-3-21.1z" fill="#956" stroke="#956" stroke-width="0.6"/><path d="M301.9 1765.1l2.9 20.6 9.8-8-3-21.1z" fill="#966" stroke="#966" stroke-width="0.6"/><path d="M304.8 1785.8l2.9 20.6 9.9-7.5-3-21.1z" fill="#a66" stroke="#a66" stroke-width="0.6"/><path d="M307.6 1806.4l2.9 20.6 10-7-3-21.1z" fill="#a67" stroke="#a67" stroke-width="0.6"/><path d="M299 1744.5l11.5 82.5 10-7-12-84.5z" fill="none"/><path d="M418.5 1884l12 6.5 10-5.5-12-6.5z" fill="#fbd"/><path d="M538.5 1891l12 5 9.5-5.5-11.5-4.5z" fill="#fdf"/><path d="M277 1649.5l3 26 10-10.9-3-26.6z" fill="#c77" stroke="#c77" stroke-width="0.6"/><path d="M280 1675.5l3 26 10-10.2-3-26.6z" fill="#b67" stroke="#b67" stroke-width="0.6"/><path d="M283 1701.5l3 26 10-9.6-3-26.6z" fill="#a66" stroke="#a66" stroke-width="0.6"/><path d="M286 1727.5l3 26 10-9-3-26.6z" fill="#966" stroke="#966" stroke-width="0.6"/><path d="M277 1649.5l12 104 10-9-12-106.5z" fill="none"/><path d="M397 1882l12 7.5 9.5-5.5-11.5-7.5z" fill="#fbc"/><path d="M517 1891.5l11.5 4.5 10-5-11.5-5z" fill="#fdf"/><path d="M255.5 1846l3-46.4 9.9-7.2-2.9 47.6z" fill="#955" stroke="#955" stroke-width="0.6"/><path d="M258.5 1799.6l3-46.4 9.8-8.5-2.9 47.6z" fill="#956" stroke="#956" stroke-width="0.6"/><path d="M261.5 1753.2l3-46.4 9.6-9.8-2.9 47.6z" fill="#a66" stroke="#a66" stroke-width="0.6"/><path d="M264.5 1706.9l3-46.4 9.5-11-2.9 47.6z" fill="#b66" stroke="#b66" stroke-width="0.6"/><path d="M255.5 1846l12-185.5 9.5-11-11.5 190.5z" fill="none"/><path d="M375.5 1878l11.5 9 10-5-11.5-9.5z" fill="#fab"/><path d="M495.5 1891.5l11.5 5 10-5-12-5.5z" fill="#fde"/><path d="M234 1879.5l2.9-6.8 10-5.8-2.9 7z" fill="#c77" stroke="#c77" stroke-width="0.6"/><path d="M236.9 1872.8l2.9-6.8 10-6-2.9 7z" fill="#b66" stroke="#b66" stroke-width="0.6"/><path d="M239.8 1866l2.9-6.8 10-6.2-2.9 7z" fill="#a66" stroke="#a66" stroke-width="0.6"/><path d="M242.6 1859.2l2.9-6.8 10-6.5-2.9 7z" fill="#955" stroke="#955" stroke-width="0.6"/><path d="M234 1879.5l11.5-27 10-6.5-11.5 28z" fill="none"/><path d="M354 1871l11.5 12.5 10-5.5-12-12.5z" fill="#eab"/><path d="M473.5 1891.5l12 5 10-5-12-5.5z" fill="#fce"/><path d="M212.5 1888.5l2.9-0.9 9.6-5.5-3 0.9z" fill="#f88" stroke="#f88" stroke-width="0.6"/><path d="M215.4 1887.6l2.9-0.9 9.8-5.5-3 0.9z" fill="#e88" stroke="#e88" stroke-width="0.6"/><path d="M218.2 1886.8l2.9-0.9 9.9-5.5-3 0.9z" fill="#e87" stroke="#e87" stroke-width="0.6"/><path d="M221.1 1885.9l2.9-0.9 10-5.5-3 0.9z" fill="#e87" stroke="#e87" stroke-width="0.6"/><path d="M212.5 1888.5l11.5-3.5 10-5.5-12 3.5z" fill="none"/><path d="M332 1857.5l3 4.9 10-6-3-4.9z" fill="#d89" stroke="#d89" stroke-width="0.6"/><path d="M335 1862.4l3 4.9 10-6-3-4.9z" fill="#d99" stroke="#d99" stroke-width="0.6"/><path d="M338 1867.2l3 4.9 10-6-3-4.9z" fill="#d99" stroke="#d99" stroke-width="0.6"/><path d="M341 1872.1l3 4.9 10-6-3-4.9z" fill="#e9a" stroke="#e9a" stroke-width="0.6"/><path d="M332 1857.5l12 19.5 10-6-12-19.5z" fill="none"/><path d="M452 1891l12 5.5 9.5-5-11.5-5.5z" fill="#fcd"/><path d="M190.5 1892.5l12 1 10-5-12-1.5z" fill="#f87"/><path d="M310.5 1827l3 9.1 9.9-6.8-2.9-9.4z" fill="#a77" stroke="#a77" stroke-width="0.6"/><path d="M313.5 1836.1l3 9.1 9.8-6.5-2.9-9.4z" fill="#b77" stroke="#b77" stroke-width="0.6"/><path d="M316.5 1845.2l3 9.1 9.6-6.2-2.9-9.4z" fill="#c88" stroke="#c88" stroke-width="0.6"/><path d="M319.5 1854.4l3 9.1 9.5-6-2.9-9.4z" fill="#c88" stroke="#c88" stroke-width="0.6"/><path d="M310.5 1827l12 36.5 9.5-6-11.5-37.5z" fill="none"/><path d="M430.5 1890.5l11.5 6 10-5.5-11.5-6z" fill="#fcd"/><path d="M550.5 1896l11.5 4.5 10-5-12-5z" fill="#fef"/><path d="M289 1753.5l3 20.1 9.9-8.5-2.9-20.6z" fill="#956" stroke="#956" stroke-width="0.6"/><path d="M292 1773.6l3 20.1 9.8-8-2.9-20.6z" fill="#966" stroke="#966" stroke-width="0.6"/><path d="M295 1793.8l3 20.1 9.6-7.5-2.9-20.6z" fill="#a66" stroke="#a66" stroke-width="0.6"/><path d="M298 1813.9l3 20.1 9.5-7-2.9-20.6z" fill="#a66" stroke="#a66" stroke-width="0.6"/><path d="M289 1753.5l12 80.5 9.5-7-11.5-82.5z" fill="none"/><path d="M409 1889.5l11.5 6.5 10-5.5-12-6.5z" fill="#fbc"/><path d="M528.5 1896l12 5 10-5-12-5z" fill="#fdf"/><path d="M267.5 1660.5l2.9 25.4 9.6-10.4-3-26z" fill="#c77" stroke="#c77" stroke-width="0.6"/><path d="M270.4 1685.9l2.9 25.4 9.8-9.8-3-26z" fill="#b77" stroke="#b77" stroke-width="0.6"/><path d="M273.2 1711.2l2.9 25.4 9.9-9.1-3-26z" fill="#a66" stroke="#a66" stroke-width="0.6"/><path d="M276.1 1736.6l2.9 25.4 10-8.5-3-26z" fill="#966" stroke="#966" stroke-width="0.6"/><path d="M267.5 1660.5l11.5 101.5 10-8.5-12-104z" fill="none"/><path d="M387 1887l12 7.5 10-5-12-7.5z" fill="#fbc"/><path d="M507 1896.5l12 5 9.5-5.5-11.5-4.5z" fill="#fde"/><path d="M245.5 1852.5l3-45.2 10-7.6-3 46.4z" fill="#955" stroke="#955" stroke-width="0.6"/><path d="M248.5 1807.2l3-45.2 10-8.8-3 46.4z" fill="#955" stroke="#955" stroke-width="0.6"/><path d="M251.5 1762l3-45.2 10-9.9-3 46.4z" fill="#a66" stroke="#a66" stroke-width="0.6"/><path d="M254.5 1716.8l3-45.2 10-11-3 46.4z" fill="#b66" stroke="#b66" stroke-width="0.6"/><path d="M245.5 1852.5l12-181 10-11-12 185.5z" fill="none"/><path d="M365.5 1883.5l12 9 9.5-5.5-11.5-9z" fill="#fab"/><path d="M485.5 1896.5l11.5 5 10-5-11.5-5z" fill="#fde"/><path d="M224 1885l3-6.5 9.9-5.8-2.9 6.8z" fill="#c76" stroke="#c76" stroke-width="0.6"/><path d="M227 1878.5l3-6.5 9.8-6-2.9 6.8z" fill="#b66" stroke="#b66" stroke-width="0.6"/><path d="M230 1872l3-6.5 9.6-6.2-2.9 6.8z" fill="#a65" stroke="#a65" stroke-width="0.6"/><path d="M233 1865.5l3-6.5 9.5-6.5-2.9 6.8z" fill="#955" stroke="#955" stroke-width="0.6"/><path d="M224 1885l12-26 9.5-6.5-11.5 27z" fill="none"/><path d="M344 1877l12 12 9.5-5.5-11.5-12.5z" fill="#eaa"/><path d="M464 1896.5l11.5 5.5 10-5.5-12-5z" fill="#fcd"/><path d="M202.5 1893.5l3-0.8 9.9-5.1-2.9 0.9z" fill="#f87" stroke="#f87" stroke-width="0.6"/><path d="M205.5 1892.8l3-0.8 9.8-5.2-2.9 0.9z" fill="#e87" stroke="#e87" stroke-width="0.6"/><path d="M208.5 1892l3-0.8 9.6-5.4-2.9 0.9z" fill="#e87" stroke="#e87" stroke-width="0.6"/><path d="M211.5 1891.2l3-0.8 9.5-5.5-2.9 0.9z" fill="#e87" stroke="#e87" stroke-width="0.6"/><path d="M202.5 1893.5l12-3 9.5-5.5-11.5 3.5z" fill="none"/><path d="M322.5 1863.5l2.9 4.8 9.6-5.9-3-4.9z" fill="#d88" stroke="#d88" stroke-width="0.6"/><path d="M325.4 1868.2l2.9 4.8 9.8-5.8-3-4.9z" fill="#d99" stroke="#d99" stroke-width="0.6"/><path d="M328.2 1873l2.9 4.8 9.9-5.6-3-4.9z" fill="#d99" stroke="#d99" stroke-width="0.6"/><path d="M331.1 1877.8l2.9 4.8 10-5.5-3-4.9z" fill="#e99" stroke="#e99" stroke-width="0.6"/><path d="M322.5 1863.5l11.5 19 10-5.5-12-19.5z" fill="none"/><path d="M442 1896.5l12 5.5 10-5.5-12-5.5z" fill="#fcd"/><path d="M562 1900.5l12 4.5 9.5-5-11.5-4.5z" fill="#fef"/><path d="M181 1897.5l11.5 1.5 10-5.5-12-1z" fill="#f87"/><path d="M301 1834l2.9 8.9 9.6-6.8-3-9.1z" fill="#b77" stroke="#b77" stroke-width="0.6"/><path d="M303.9 1842.9l2.9 8.9 9.8-6.5-3-9.1z" fill="#b77" stroke="#b77" stroke-width="0.6"/><path d="M306.8 1851.8l2.9 8.9 9.9-6.2-3-9.1z" fill="#c87" stroke="#c87" stroke-width="0.6"/><path d="M309.6 1860.6l2.9 8.9 10-6-3-9.1z" fill="#c88" stroke="#c88" stroke-width="0.6"/><path d="M301 1834l11.5 35.5 10-6-12-36.5z" fill="none"/><path d="M420.5 1896l12 5.5 9.5-5-11.5-6z" fill="#fcc"/><path d="M540.5 1901l11.5 4.5 10-5-11.5-4.5z" fill="#fef"/><path d="M279 1762l3 19.6 10-8-3-20.1z" fill="#965" stroke="#965" stroke-width="0.6"/><path d="M282 1781.6l3 19.6 10-7.5-3-20.1z" fill="#966" stroke="#966" stroke-width="0.6"/><path d="M285 1801.2l3 19.6 10-7-3-20.1z" fill="#a66" stroke="#a66" stroke-width="0.6"/><path d="M288 1820.9l3 19.6 10-6.5-3-20.1z" fill="#a66" stroke="#a66" stroke-width="0.6"/><path d="M279 1762l12 78.5 10-6.5-12-80.5z" fill="none"/><path d="M399 1894.5l12 6.5 9.5-5-11.5-6.5z" fill="#fbc"/><path d="M519 1901.5l11.5 4.5 10-5-12-5z" fill="#fde"/><path d="M257.5 1671.5l3 24.8 9.9-10.4-2.9-25.4z" fill="#c77" stroke="#c77" stroke-width="0.6"/><path d="M260.5 1696.2l3 24.8 9.8-9.8-2.9-25.4z" fill="#b76" stroke="#b76" stroke-width="0.6"/><path d="M263.5 1721l3 24.8 9.6-9.1-2.9-25.4z" fill="#a66" stroke="#a66" stroke-width="0.6"/><path d="M266.5 1745.8l3 24.8 9.5-8.5-2.9-25.4z" fill="#965" stroke="#965" stroke-width="0.6"/><path d="M257.5 1671.5l12 99 9.5-8.5-11.5-101.5z" fill="none"/><path d="M377.5 1892.5l11.5 7.5 10-5.5-12-7.5z" fill="#fbb"/><path d="M497 1901.5l12 5 10-5-12-5z" fill="#fde"/><path d="M236 1859l2.9-44.1 9.6-7.6-3 45.2z" fill="#955" stroke="#955" stroke-width="0.6"/><path d="M238.9 1814.9l2.9-44.1 9.8-8.8-3 45.2z" fill="#965" stroke="#965" stroke-width="0.6"/><path d="M241.8 1770.8l2.9-44.1 9.9-9.9-3 45.2z" fill="#a65" stroke="#a65" stroke-width="0.6"/><path d="M244.6 1726.6l2.9-44.1 10-11-3 45.2z" fill="#b66" stroke="#b66" stroke-width="0.6"/><path d="M236 1859l11.5-176.5 10-11-12 181z" fill="none"/><path d="M356 1889l11.5 9 10-5.5-12-9z" fill="#faa"/><path d="M475.5 1902l12 5 9.5-5.5-11.5-5z" fill="#fdd"/><path d="M214.5 1890.5l2.9-6.4 9.6-5.6-3 6.5z" fill="#c76" stroke="#c76" stroke-width="0.6"/><path d="M217.4 1884.1l2.9-6.4 9.8-5.8-3 6.5z" fill="#b65" stroke="#b65" stroke-width="0.6"/><path d="M220.2 1877.8l2.9-6.4 9.9-5.9-3 6.5z" fill="#a65" stroke="#a65" stroke-width="0.6"/><path d="M223.1 1871.4l2.9-6.4 10-6-3 6.5z" fill="#955" stroke="#955" stroke-width="0.6"/><path d="M214.5 1890.5l11.5-25.5 10-6-12 26z" fill="none"/><path d="M334 1882.5l12 12 10-5.5-12-12z" fill="#eaa"/><path d="M454 1902l12 5 9.5-5-11.5-5.5z" fill="#fcd"/><path d="M574 1905l11.5 4.5 10-5-12-4.5z" fill="#fef"/><path d="M192.5 1899l12-3 10-5.5-12 3z" fill="#e87"/><path d="M312.5 1869.5l3 4.6 9.9-5.9-2.9-4.8z" fill="#d88" stroke="#d88" stroke-width="0.6"/><path d="M315.5 1874.1l3 4.6 9.8-5.8-2.9-4.8z" fill="#d98" stroke="#d98" stroke-width="0.6"/><path d="M318.5 1878.8l3 4.6 9.6-5.6-2.9-4.8z" fill="#d99" stroke="#d99" stroke-width="0.6"/><path d="M321.5 1883.4l3 4.6 9.5-5.5-2.9-4.8z" fill="#e99" stroke="#e99" stroke-width="0.6"/><path d="M312.5 1869.5l12 18.5 9.5-5.5-11.5-19z" fill="none"/><path d="M432.5 1901.5l11.5 5.5 10-5-12-5.5z" fill="#fcc"/><path d="M552 1905.5l12 5 10-5.5-12-4.5z" fill="#fef"/><path d="M171 1903l12 1 9.5-5-11.5-1.5z" fill="#f86"/><path d="M291 1840.5l2.9 8.8 10-6.4-2.9-8.9z" fill="#b76" stroke="#b76" stroke-width="0.6"/><path d="M293.9 1849.2l2.9 8.8 10-6.2-2.9-8.9z" fill="#b77" stroke="#b77" stroke-width="0.6"/><path d="M296.8 1858l2.9 8.8 10-6.1-2.9-8.9z" fill="#c87" stroke="#c87" stroke-width="0.6"/><path d="M299.6 1866.8l2.9 8.8 10-6-2.9-8.9z" fill="#c87" stroke="#c87" stroke-width="0.6"/><path d="M291 1840.5l11.5 35 10-6-11.5-35.5z" fill="none"/><path d="M411 1901l11.5 6 10-5.5-12-5.5z" fill="#fcc"/><path d="M530.5 1906l12 5 9.5-5.5-11.5-4.5z" fill="#fee"/><path d="M269.5 1770.5l2.9 19.2 9.6-8.1-3-19.6z" fill="#965" stroke="#965" stroke-width="0.6"/><path d="M272.4 1789.8l2.9 19.2 9.8-7.8-3-19.6z" fill="#965" stroke="#965" stroke-width="0.6"/><path d="M275.2 1809l2.9 19.2 9.9-7.4-3-19.6z" fill="#a66" stroke="#a66" stroke-width="0.6"/><path d="M278.1 1828.2l2.9 19.2 10-7-3-19.6z" fill="#a76" stroke="#a76" stroke-width="0.6"/><path d="M269.5 1770.5l11.5 77 10-7-12-78.5z" fill="none"/><path d="M389 1900l12 6.5 10-5.5-12-6.5z" fill="#fbb"/><path d="M509 1906.5l12 5 9.5-5.5-11.5-4.5z" fill="#fde"/><path d="M247.5 1682.5l3 24.1 10-10.4-3-24.8z" fill="#c76" stroke="#c76" stroke-width="0.6"/><path d="M250.5 1706.6l3 24.1 10-9.8-3-24.8z" fill="#b76" stroke="#b76" stroke-width="0.6"/><path d="M253.5 1730.8l3 24.1 10-9.1-3-24.8z" fill="#a65" stroke="#a65" stroke-width="0.6"/><path d="M256.5 1754.9l3 24.1 10-8.5-3-24.8z" fill="#965" stroke="#965" stroke-width="0.6"/><path d="M247.5 1682.5l12 96.5 10-8.5-12-99z" fill="none"/><path d="M367.5 1898l12 7.5 9.5-5.5-11.5-7.5z" fill="#fbb"/><path d="M487.5 1907l11.5 4.5 10-5-12-5z" fill="#fdd"/><path d="M226 1865l3-43 9.9-7.1-2.9 44.1z" fill="#954" stroke="#954" stroke-width="0.6"/><path d="M229 1822l3-43 9.8-8.2-2.9 44.1z" fill="#a65" stroke="#a65" stroke-width="0.6"/><path d="M232 1779l3-43 9.6-9.4-2.9 44.1z" fill="#a65" stroke="#a65" stroke-width="0.6"/><path d="M235 1736l3-43 9.5-10.5-2.9 44.1z" fill="#b65" stroke="#b65" stroke-width="0.6"/><path d="M226 1865l12-172 9.5-10.5-11.5 176.5z" fill="none"/><path d="M346 1894.5l11.5 9 10-5.5-11.5-9z" fill="#fba"/><path d="M466 1907l11.5 5 10-5-12-5z" fill="#fdd"/><path d="M585.5 1909.5l12 5 9.5-5.5-11.5-4.5z" fill="#fff"/><path d="M204.5 1896l2.9-6.2 10-5.6-2.9 6.4z" fill="#c76" stroke="#c76" stroke-width="0.6"/><path d="M207.4 1889.8l2.9-6.2 10-5.8-2.9 6.4z" fill="#b65" stroke="#b65" stroke-width="0.6"/><path d="M210.2 1883.5l2.9-6.2 10-5.9-2.9 6.4z" fill="#a65" stroke="#a65" stroke-width="0.6"/><path d="M213.1 1877.2l2.9-6.2 10-6-2.9 6.4z" fill="#954" stroke="#954" stroke-width="0.6"/><path d="M204.5 1896l11.5-25 10-6-11.5 25.5z" fill="none"/><path d="M324.5 1888l11.5 12 10-5.5-12-12z" fill="#ea9"/><path d="M444 1907l12 5 10-5-12-5z" fill="#fcc"/><path d="M564 1910.5l12 4.5 9.5-5.5-11.5-4.5z" fill="#fef"/><path d="M183 1904l11.5-2.5 10-5.5-12 3z" fill="#e86"/><path d="M302.5 1875.5l3 4.6 10-6-3-4.6z" fill="#d88" stroke="#d88" stroke-width="0.6"/><path d="M305.5 1880.1l3 4.6 10-6-3-4.6z" fill="#d98" stroke="#d98" stroke-width="0.6"/><path d="M308.5 1884.8l3 4.6 10-6-3-4.6z" fill="#e98" stroke="#e98" stroke-width="0.6"/><path d="M311.5 1889.4l3 4.6 10-6-3-4.6z" fill="#e98" stroke="#e98" stroke-width="0.6"/><path d="M302.5 1875.5l12 18.5 10-6-12-18.5z" fill="none"/><path d="M422.5 1907l12 5.5 9.5-5.5-11.5-5.5z" fill="#fcc"/><path d="M542.5 1911l11.5 4.5 10-5-12-5z" fill="#fee"/><path d="M161 1908l12 1.5 10-5.5-12-1z" fill="#f86"/><path d="M281 1847.5l3 8.5 9.9-6.8-2.9-8.8z" fill="#b76" stroke="#b76" stroke-width="0.6"/><path d="M284 1856l3 8.5 9.8-6.5-2.9-8.8z" fill="#b76" stroke="#b76" stroke-width="0.6"/><path d="M287 1864.5l3 8.5 9.6-6.2-2.9-8.8z" fill="#c87" stroke="#c87" stroke-width="0.6"/><path d="M290 1873l3 8.5 9.5-6-2.9-8.8z" fill="#c87" stroke="#c87" stroke-width="0.6"/><path d="M281 1847.5l12 34 9.5-6-11.5-35z" fill="none"/><path d="M401 1906.5l11.5 5.5 10-5-11.5-6z" fill="#fcb"/><path d="M521 1911.5l11.5 4.5 10-5-12-5z" fill="#fee"/><path d="M259.5 1779l2.9 18.8 10-8-2.9-19.2z" fill="#965" stroke="#965" stroke-width="0.6"/><path d="M262.4 1797.8l2.9 18.8 10-7.5-2.9-19.2z" fill="#965" stroke="#965" stroke-width="0.6"/><path d="M265.2 1816.5l2.9 18.8 10-7-2.9-19.2z" fill="#a65" stroke="#a65" stroke-width="0.6"/><path d="M268.1 1835.2l2.9 18.8 10-6.5-2.9-19.2z" fill="#a76" stroke="#a76" stroke-width="0.6"/><path d="M259.5 1779l11.5 75 10-6.5-11.5-77z" fill="none"/><path d="M379.5 1905.5l11.5 6 10-5-12-6.5z" fill="#fbb"/><path d="M499 1911.5l12 5 10-5-12-5z" fill="#fdd"/><path d="M238 1693l2.9 23.6 9.6-10-3-24.1z" fill="#c76" stroke="#c76" stroke-width="0.6"/><path d="M240.9 1716.6l2.9 23.6 9.8-9.5-3-24.1z" fill="#b76" stroke="#b76" stroke-width="0.6"/><path d="M243.8 1740.2l2.9 23.6 9.9-9-3-24.1z" fill="#a65" stroke="#a65" stroke-width="0.6"/><path d="M246.6 1763.9l2.9 23.6 10-8.5-3-24.1z" fill="#965" stroke="#965" stroke-width="0.6"/><path d="M238 1693l11.5 94.5 10-8.5-12-96.5z" fill="none"/><path d="M357.5 1903.5l12 7 10-5-12-7.5z" fill="#fba"/><path d="M477.5 1912l12 5 9.5-5.5-11.5-4.5z" fill="#fdd"/><path d="M597.5 1914.5l11.5 4.5 10-5.5-12-4.5z" fill="#fff"/><path d="M216 1871l3-41.9 10-7.1-3 43z" fill="#954" stroke="#954" stroke-width="0.6"/><path d="M219 1829.1l3-41.9 10-8.2-3 43z" fill="#a64" stroke="#a64" stroke-width="0.6"/><path d="M222 1787.2l3-41.9 10-9.4-3 43z" fill="#a65" stroke="#a65" stroke-width="0.6"/><path d="M225 1745.4l3-41.9 10-10.5-3 43z" fill="#b75" stroke="#b75" stroke-width="0.6"/><path d="M216 1871l12-167.5 10-10.5-12 172z" fill="none"/><path d="M336 1900l12 9 9.5-5.5-11.5-9z" fill="#fb9"/><path d="M456 1912l11.5 5 10-5-11.5-5z" fill="#fdc"/><path d="M576 1915l11.5 4.5 10-5-12-5z" fill="#fff"/><path d="M194.5 1901.5l3-6 9.9-5.8-2.9 6.2z" fill="#c75" stroke="#c75" stroke-width="0.6"/><path d="M197.5 1895.5l3-6 9.8-6-2.9 6.2z" fill="#b65" stroke="#b65" stroke-width="0.6"/><path d="M200.5 1889.5l3-6 9.6-6.2-2.9 6.2z" fill="#a64" stroke="#a64" stroke-width="0.6"/><path d="M203.5 1883.5l3-6 9.5-6.5-2.9 6.2z" fill="#954" stroke="#954" stroke-width="0.6"/><path d="M194.5 1901.5l12-24 9.5-6.5-11.5 25z" fill="none"/><path d="M314.5 1894l11.5 11.5 10-5.5-11.5-12z" fill="#ea9"/><path d="M434.5 1912.5l11.5 5 10-5.5-12-5z" fill="#fcc"/><path d="M554 1915.5l12 4.5 10-5-12-4.5z" fill="#fee"/><path d="M173 1909.5l12-2.5 9.5-5.5-11.5 2.5z" fill="#e86"/><path d="M293 1881.5l2.9 4.5 9.6-5.9-3-4.6z" fill="#d97" stroke="#d97" stroke-width="0.6"/><path d="M295.9 1886l2.9 4.5 9.8-5.8-3-4.6z" fill="#d98" stroke="#d98" stroke-width="0.6"/><path d="M298.8 1890.5l2.9 4.5 9.9-5.6-3-4.6z" fill="#e98" stroke="#e98" stroke-width="0.6"/><path d="M301.6 1895l2.9 4.5 10-5.5-3-4.6z" fill="#e98" stroke="#e98" stroke-width="0.6"/><path d="M293 1881.5l11.5 18 10-5.5-12-18.5z" fill="none"/><path d="M412.5 1912l12 5.5 10-5-12-5.5z" fill="#fcb"/><path d="M532.5 1916l12 4.5 9.5-5-11.5-4.5z" fill="#fee"/><path d="M151.5 1913l11.5 1.5 10-5-12-1.5z" fill="#f85"/><path d="M271 1854l3 8.4 10-6.4-3-8.5z" fill="#b76" stroke="#b76" stroke-width="0.6"/><path d="M274 1862.4l3 8.4 10-6.2-3-8.5z" fill="#b76" stroke="#b76" stroke-width="0.6"/><path d="M277 1870.8l3 8.4 10-6.1-3-8.5z" fill="#c86" stroke="#c86" stroke-width="0.6"/><path d="M280 1879.1l3 8.4 10-6-3-8.5z" fill="#c87" stroke="#c87" stroke-width="0.6"/><path d="M271 1854l12 33.5 10-6-12-34z" fill="none"/><path d="M391 1911.5l12 6 9.5-5.5-11.5-5.5z" fill="#fcb"/><path d="M511 1916.5l11.5 4.5 10-5-11.5-4.5z" fill="#fed"/><path d="M249.5 1787.5l3 18.4 9.9-8.1-2.9-18.8z" fill="#965" stroke="#965" stroke-width="0.6"/><path d="M252.5 1805.9l3 18.4 9.8-7.8-2.9-18.8z" fill="#965" stroke="#965" stroke-width="0.6"/><path d="M255.5 1824.2l3 18.4 9.6-7.4-2.9-18.8z" fill="#a65" stroke="#a65" stroke-width="0.6"/><path d="M258.5 1842.6l3 18.4 9.5-7-2.9-18.8z" fill="#a75" stroke="#a75" stroke-width="0.6"/><path d="M249.5 1787.5l12 73.5 9.5-7-11.5-75z" fill="none"/><path d="M369.5 1910.5l11.5 6.5 10-5.5-11.5-6z" fill="#fba"/><path d="M489.5 1917l11.5 4.5 10-5-12-5z" fill="#fdd"/><path d="M609 1919l12 4.5 10-5.5-12-4.5z" fill="#fff"/><path d="M228 1703.5l3 23.1 9.9-10-2.9-23.6z" fill="#c76" stroke="#c76" stroke-width="0.6"/><path d="M231 1726.6l3 23.1 9.8-9.5-2.9-23.6z" fill="#b75" stroke="#b75" stroke-width="0.6"/><path d="M234 1749.8l3 23.1 9.6-9-2.9-23.6z" fill="#a65" stroke="#a65" stroke-width="0.6"/><path d="M237 1772.9l3 23.1 9.5-8.5-2.9-23.6z" fill="#964" stroke="#964" stroke-width="0.6"/><path d="M228 1703.5l12 92.5 9.5-8.5-11.5-94.5z" fill="none"/><path d="M348 1909l11.5 7 10-5.5-12-7z" fill="#fba"/><path d="M467.5 1917l12 5 10-5-12-5z" fill="#fdc"/><path d="M587.5 1919.5l12 4.5 9.5-5-11.5-4.5z" fill="#fff"/><path d="M206.5 1877.5l2.9-40.9 9.6-7.5-3 41.9z" fill="#954" stroke="#954" stroke-width="0.6"/><path d="M209.4 1836.6l2.9-40.9 9.8-8.5-3 41.9z" fill="#a64" stroke="#a64" stroke-width="0.6"/><path d="M212.2 1795.8l2.9-40.9 9.9-9.5-3 41.9z" fill="#a64" stroke="#a64" stroke-width="0.6"/><path d="M215.1 1754.9l2.9-40.9 10-10.5-3 41.9z" fill="#b75" stroke="#b75" stroke-width="0.6"/><path d="M206.5 1877.5l11.5-163.5 10-10.5-12 167.5z" fill="none"/><path d="M326 1905.5l12 8.5 10-5-12-9z" fill="#fb9"/><path d="M446 1917.5l12 5 9.5-5.5-11.5-5z" fill="#fdc"/><path d="M566 1920l11.5 4.5 10-5-11.5-4.5z" fill="#ffe"/><path d="M185 1907l2.9-5.9 9.6-5.6-3 6z" fill="#c75" stroke="#c75" stroke-width="0.6"/><path d="M187.9 1901.1l2.9-5.9 9.8-5.8-3 6z" fill="#b64" stroke="#b64" stroke-width="0.6"/><path d="M190.8 1895.2l2.9-5.9 9.9-5.9-3 6z" fill="#a64" stroke="#a64" stroke-width="0.6"/><path d="M193.6 1889.4l2.9-5.9 10-6-3 6z" fill="#954" stroke="#954" stroke-width="0.6"/><path d="M185 1907l11.5-23.5 10-6-12 24z" fill="none"/><path d="M304.5 1899.5l12 11.5 9.5-5.5-11.5-11.5z" fill="#ea8"/><path d="M424.5 1917.5l11.5 5 10-5-11.5-5z" fill="#fcb"/><path d="M544.5 1920.5l11.5 4.5 10-5-12-4.5z" fill="#fee"/><path d="M163 1914.5l12-2 10-5.5-12 2.5z" fill="#e85"/><path d="M283 1887.5l3 4.4 9.9-5.9-2.9-4.5z" fill="#d97" stroke="#d97" stroke-width="0.6"/><path d="M286 1891.9l3 4.4 9.8-5.8-2.9-4.5z" fill="#d97" stroke="#d97" stroke-width="0.6"/><path d="M289 1896.2l3 4.4 9.6-5.6-2.9-4.5z" fill="#e97" stroke="#e97" stroke-width="0.6"/><path d="M292 1900.6l3 4.4 9.5-5.5-2.9-4.5z" fill="#ea8" stroke="#ea8" stroke-width="0.6"/><path d="M283 1887.5l12 17.5 9.5-5.5-11.5-18z" fill="none"/><path d="M403 1917.5l11.5 5 10-5-12-5.5z" fill="#fcb"/><path d="M522.5 1921l12 4.5 10-5-12-4.5z" fill="#fed"/><path d="M141.5 1918.5l12 1.5 9.5-5.5-11.5-1.5z" fill="#f85"/><path d="M261.5 1861l2.9 8.1 9.6-6.8-3-8.4z" fill="#b75" stroke="#b75" stroke-width="0.6"/><path d="M264.4 1869.1l2.9 8.1 9.8-6.5-3-8.4z" fill="#b76" stroke="#b76" stroke-width="0.6"/><path d="M267.2 1877.2l2.9 8.1 9.9-6.2-3-8.4z" fill="#c86" stroke="#c86" stroke-width="0.6"/><path d="M270.1 1885.4l2.9 8.1 10-6-3-8.4z" fill="#d86" stroke="#d86" stroke-width="0.6"/><path d="M261.5 1861l11.5 32.5 10-6-12-33.5z" fill="none"/><path d="M381 1917l12 5.5 10-5-12-6z" fill="#fca"/><path d="M501 1921.5l12 5 9.5-5.5-11.5-4.5z" fill="#fed"/><path d="M240 1796l2.9 17.9 9.6-8-3-18.4z" fill="#964" stroke="#964" stroke-width="0.6"/><path d="M242.9 1813.9l2.9 17.9 9.8-7.5-3-18.4z" fill="#a64" stroke="#a64" stroke-width="0.6"/><path d="M245.8 1831.8l2.9 17.9 9.9-7-3-18.4z" fill="#a65" stroke="#a65" stroke-width="0.6"/><path d="M248.6 1849.6l2.9 17.9 10-6.5-3-18.4z" fill="#a75" stroke="#a75" stroke-width="0.6"/><path d="M240 1796l11.5 71.5 10-6.5-12-73.5z" fill="none"/><path d="M359.5 1916l12 6 9.5-5-11.5-6.5z" fill="#fba"/><path d="M479.5 1922l12 5 9.5-5.5-11.5-4.5z" fill="#fdc"/><path d="M599.5 1924l11.5 4.5 10-5-12-4.5z" fill="#fff"/><path d="M218 1714l3 22.5 10-9.9-3-23.1z" fill="#c75" stroke="#c75" stroke-width="0.6"/><path d="M221 1736.5l3 22.5 10-9.2-3-23.1z" fill="#b75" stroke="#b75" stroke-width="0.6"/><path d="M224 1759l3 22.5 10-8.6-3-23.1z" fill="#a64" stroke="#a64" stroke-width="0.6"/><path d="M227 1781.5l3 22.5 10-8-3-23.1z" fill="#964" stroke="#964" stroke-width="0.6"/><path d="M218 1714l12 90 10-8-12-92.5z" fill="none"/><path d="M338 1914l12 7 9.5-5-11.5-7z" fill="#fb9"/><path d="M458 1922.5l11.5 4.5 10-5-12-5z" fill="#fdc"/><path d="M577.5 1924.5l12 4.5 10-5-12-4.5z" fill="#ffe"/><path d="M196.5 1883.5l3-39.8 9.9-7.1-2.9 40.9z" fill="#954" stroke="#954" stroke-width="0.6"/><path d="M199.5 1843.8l3-39.8 9.8-8.2-2.9 40.9z" fill="#a64" stroke="#a64" stroke-width="0.6"/><path d="M202.5 1804l3-39.8 9.6-9.4-2.9 40.9z" fill="#a64" stroke="#a64" stroke-width="0.6"/><path d="M205.5 1764.2l3-39.8 9.5-10.5-2.9 40.9z" fill="#b74" stroke="#b74" stroke-width="0.6"/><path d="M196.5 1883.5l12-159 9.5-10.5-11.5 163.5z" fill="none"/><path d="M316.5 1911l11.5 8.5 10-5.5-12-8.5z" fill="#fb9"/><path d="M436 1922.5l12 5 10-5-12-5z" fill="#fdb"/><path d="M556 1925l12 4.5 9.5-5-11.5-4.5z" fill="#ffe"/><path d="M175 1912.5l2.9-5.8 10-5.6-2.9 5.9z" fill="#c74" stroke="#c74" stroke-width="0.6"/><path d="M177.9 1906.8l2.9-5.8 10-5.8-2.9 5.9z" fill="#b64" stroke="#b64" stroke-width="0.6"/><path d="M180.8 1901l2.9-5.8 10-5.9-2.9 5.9z" fill="#a64" stroke="#a64" stroke-width="0.6"/><path d="M183.6 1895.2l2.9-5.8 10-6-2.9 5.9z" fill="#953" stroke="#953" stroke-width="0.6"/><path d="M175 1912.5l11.5-23 10-6-11.5 23.5z" fill="none"/><path d="M295 1905l11.5 11.5 10-5.5-12-11.5z" fill="#fa8"/><path d="M414.5 1922.5l12 5.5 9.5-5.5-11.5-5z" fill="#fcb"/><path d="M534.5 1925.5l12 5 9.5-5.5-11.5-4.5z" fill="#fed"/><path d="M153.5 1920l11.5-2 10-5.5-12 2z" fill="#f85"/><path d="M273 1893.5l3 4.4 10-6-3-4.4z" fill="#d97" stroke="#d97" stroke-width="0.6"/><path d="M276 1897.9l3 4.4 10-6-3-4.4z" fill="#d97" stroke="#d97" stroke-width="0.6"/><path d="M279 1902.2l3 4.4 10-6-3-4.4z" fill="#e97" stroke="#e97" stroke-width="0.6"/><path d="M282 1906.6l3 4.4 10-6-3-4.4z" fill="#ea7" stroke="#ea7" stroke-width="0.6"/><path d="M273 1893.5l12 17.5 10-6-12-17.5z" fill="none"/><path d="M393 1922.5l12 5.5 9.5-5.5-11.5-5z" fill="#fca"/><path d="M513 1926.5l11.5 4.5 10-5.5-12-4.5z" fill="#fed"/><path d="M131.5 1923.5l12 2 10-5.5-12-1.5z" fill="#f84"/><path d="M251.5 1867.5l3 8 9.9-6.4-2.9-8.1z" fill="#b75" stroke="#b75" stroke-width="0.6"/><path d="M254.5 1875.5l3 8 9.8-6.2-2.9-8.1z" fill="#c75" stroke="#c75" stroke-width="0.6"/><path d="M257.5 1883.5l3 8 9.6-6.1-2.9-8.1z" fill="#c86" stroke="#c86" stroke-width="0.6"/><path d="M260.5 1891.5l3 8 9.5-6-2.9-8.1z" fill="#d86" stroke="#d86" stroke-width="0.6"/><path d="M251.5 1867.5l12 32 9.5-6-11.5-32.5z" fill="none"/><path d="M371.5 1922l11.5 6 10-5.5-12-5.5z" fill="#fca"/><path d="M491.5 1927l11.5 4.5 10-5-12-5z" fill="#fec"/><path d="M230 1804l2.9 17.5 10-7.6-2.9-17.9z" fill="#964" stroke="#964" stroke-width="0.6"/><path d="M232.9 1821.5l2.9 17.5 10-7.2-2.9-17.9z" fill="#a64" stroke="#a64" stroke-width="0.6"/><path d="M235.8 1839l2.9 17.5 10-6.9-2.9-17.9z" fill="#a64" stroke="#a64" stroke-width="0.6"/><path d="M238.6 1856.5l2.9 17.5 10-6.5-2.9-17.9z" fill="#b75" stroke="#b75" stroke-width="0.6"/><path d="M230 1804l11.5 70 10-6.5-11.5-71.5z" fill="none"/><path d="M350 1921l11.5 6.5 10-5.5-12-6z" fill="#fb9"/><path d="M469.5 1927l12 5 10-5-12-5z" fill="#fdc"/><path d="M589.5 1929l12 4.5 9.5-5-11.5-4.5z" fill="#ffe"/><path d="M208.5 1724.5l2.9 22 9.6-10-3-22.5z" fill="#c75" stroke="#c75" stroke-width="0.6"/><path d="M211.4 1746.5l2.9 22 9.8-9.5-3-22.5z" fill="#b75" stroke="#b75" stroke-width="0.6"/><path d="M214.2 1768.5l2.9 22 9.9-9-3-22.5z" fill="#a64" stroke="#a64" stroke-width="0.6"/><path d="M217.1 1790.5l2.9 22 10-8.5-3-22.5z" fill="#964" stroke="#964" stroke-width="0.6"/><path d="M208.5 1724.5l11.5 88 10-8.5-12-90z" fill="none"/><path d="M328 1919.5l12 7 10-5.5-12-7z" fill="#fb9"/><path d="M448 1927.5l12 5 9.5-5.5-11.5-4.5z" fill="#fdb"/><path d="M568 1929.5l11.5 4.5 10-5-12-4.5z" fill="#ffe"/><path d="M186.5 1889.5l3-38.8 10-7-3 39.8z" fill="#953" stroke="#953" stroke-width="0.6"/><path d="M189.5 1850.8l3-38.8 10-8-3 39.8z" fill="#a64" stroke="#a64" stroke-width="0.6"/><path d="M192.5 1812l3-38.8 10-9-3 39.8z" fill="#a64" stroke="#a64" stroke-width="0.6"/><path d="M195.5 1773.2l3-38.8 10-10-3 39.8z" fill="#b74" stroke="#b74" stroke-width="0.6"/><path d="M186.5 1889.5l12-155 10-10-12 159z" fill="none"/><path d="M306.5 1916.5l12 8.5 9.5-5.5-11.5-8.5z" fill="#fb8"/><path d="M426.5 1928l11.5 4.5 10-5-12-5z" fill="#fdb"/><path d="M546.5 1930.5l11.5 4.5 10-5.5-12-4.5z" fill="#ffd"/><path d="M165 1918l3-5.5 9.9-5.8-2.9 5.8z" fill="#c74" stroke="#c74" stroke-width="0.6"/><path d="M168 1912.5l3-5.5 9.8-6-2.9 5.8z" fill="#b64" stroke="#b64" stroke-width="0.6"/><path d="M171 1907l3-5.5 9.6-6.2-2.9 5.8z" fill="#a63" stroke="#a63" stroke-width="0.6"/><path d="M174 1901.5l3-5.5 9.5-6.5-2.9 5.8z" fill="#953" stroke="#953" stroke-width="0.6"/><path d="M165 1918l12-22 9.5-6.5-11.5 23z" fill="none"/><path d="M285 1911l11.5 11 10-5.5-11.5-11.5z" fill="#fa7"/><path d="M405 1928l11.5 5 10-5-12-5.5z" fill="#fca"/><path d="M524.5 1931l12 4.5 10-5-12-5z" fill="#fed"/><path d="M143.5 1925.5l11.5-2 10-5.5-11.5 2z" fill="#f84"/><path d="M263.5 1899.5l2.9 4.2 9.6-5.9-3-4.4z" fill="#d96" stroke="#d96" stroke-width="0.6"/><path d="M266.4 1903.8l2.9 4.2 9.8-5.8-3-4.4z" fill="#d96" stroke="#d96" stroke-width="0.6"/><path d="M269.2 1908l2.9 4.2 9.9-5.6-3-4.4z" fill="#e96" stroke="#e96" stroke-width="0.6"/><path d="M272.1 1912.2l2.9 4.2 10-5.5-3-4.4z" fill="#ea7" stroke="#ea7" stroke-width="0.6"/><path d="M263.5 1899.5l11.5 17 10-5.5-12-17.5z" fill="none"/><path d="M383 1928l12 5 10-5-12-5.5z" fill="#fca"/><path d="M503 1931.5l12 4.5 9.5-5-11.5-4.5z" fill="#fec"/><path d="M122 1929l11.5 1.5 10-5-12-2z" fill="#f84"/><path d="M241.5 1874l3 7.9 10-6.4-3-8z" fill="#b75" stroke="#b75" stroke-width="0.6"/><path d="M244.5 1881.9l3 7.9 10-6.2-3-8z" fill="#c85" stroke="#c85" stroke-width="0.6"/><path d="M247.5 1889.8l3 7.9 10-6.1-3-8z" fill="#c85" stroke="#c85" stroke-width="0.6"/><path d="M250.5 1897.6l3 7.9 10-6-3-8z" fill="#d86" stroke="#d86" stroke-width="0.6"/><path d="M241.5 1874l12 31.5 10-6-12-32z" fill="none"/><path d="M361.5 1927.5l12 5.5 9.5-5-11.5-6z" fill="#fc9"/><path d="M481.5 1932l11.5 4.5 10-5-11.5-4.5z" fill="#fec"/><path d="M220 1812.5l3 17 9.9-8-2.9-17.5z" fill="#964" stroke="#964" stroke-width="0.6"/><path d="M223 1829.5l3 17 9.8-7.5-2.9-17.5z" fill="#a64" stroke="#a64" stroke-width="0.6"/><path d="M226 1846.5l3 17 9.6-7-2.9-17.5z" fill="#a64" stroke="#a64" stroke-width="0.6"/><path d="M229 1863.5l3 17 9.5-6.5-2.9-17.5z" fill="#b74" stroke="#b74" stroke-width="0.6"/><path d="M220 1812.5l12 68 9.5-6.5-11.5-70z" fill="none"/><path d="M340 1926.5l11.5 6 10-5-11.5-6.5z" fill="#fb9"/><path d="M460 1932.5l11.5 4.5 10-5-12-5z" fill="#fdb"/><path d="M579.5 1934l12 4.5 10-5-12-4.5z" fill="#ffe"/><path d="M198.5 1734.5l2.9 21.5 10-9.5-2.9-22z" fill="#c74" stroke="#c74" stroke-width="0.6"/><path d="M201.4 1756l2.9 21.5 10-9-2.9-22z" fill="#b74" stroke="#b74" stroke-width="0.6"/><path d="M204.2 1777.5l2.9 21.5 10-8.5-2.9-22z" fill="#a64" stroke="#a64" stroke-width="0.6"/><path d="M207.1 1799l2.9 21.5 10-8-2.9-22z" fill="#a63" stroke="#a63" stroke-width="0.6"/><path d="M198.5 1734.5l11.5 86 10-8-11.5-88z" fill="none"/><path d="M318.5 1925l11.5 7 10-5.5-12-7z" fill="#fb8"/><path d="M438 1932.5l12 5 10-5-12-5z" fill="#fdb"/><path d="M558 1935l12 4.5 9.5-5.5-11.5-4.5z" fill="#ffd"/><path d="M177 1896l2.9-37.9 9.6-7.4-3 38.8z" fill="#953" stroke="#953" stroke-width="0.6"/><path d="M179.9 1858.1l2.9-37.9 9.8-8.2-3 38.8z" fill="#a63" stroke="#a63" stroke-width="0.6"/><path d="M182.8 1820.2l2.9-37.9 9.9-9.1-3 38.8z" fill="#b63" stroke="#b63" stroke-width="0.6"/><path d="M185.6 1782.4l2.9-37.9 10-10-3 38.8z" fill="#b74" stroke="#b74" stroke-width="0.6"/><path d="M177 1896l11.5-151.5 10-10-12 155z" fill="none"/><path d="M296.5 1922l12 8 10-5-12-8.5z" fill="#fb8"/><path d="M416.5 1933l12 5 9.5-5.5-11.5-4.5z" fill="#fda"/><path d="M536.5 1935.5l11.5 4.5 10-5-11.5-4.5z" fill="#ffd"/><path d="M155 1923.5l3-5.4 10-5.6-3 5.5z" fill="#c74" stroke="#c74" stroke-width="0.6"/><path d="M158 1918.1l3-5.4 10-5.8-3 5.5z" fill="#b73" stroke="#b73" stroke-width="0.6"/><path d="M161 1912.8l3-5.4 10-5.9-3 5.5z" fill="#a63" stroke="#a63" stroke-width="0.6"/><path d="M164 1907.4l3-5.4 10-6-3 5.5z" fill="#963" stroke="#963" stroke-width="0.6"/><path d="M155 1923.5l12-21.5 10-6-12 22z" fill="none"/><path d="M275 1916.5l12 11 9.5-5.5-11.5-11z" fill="#fa7"/><path d="M395 1933l11.5 5 10-5-11.5-5z" fill="#fca"/><path d="M515 1936l11.5 4.5 10-5-12-4.5z" fill="#fec"/><path d="M133.5 1930.5l12-2 9.5-5-11.5 2z" fill="#f84"/><path d="M253.5 1905.5l2.9 4.1 10-5.9-2.9-4.2z" fill="#d96" stroke="#d96" stroke-width="0.6"/><path d="M256.4 1909.6l2.9 4.1 10-5.8-2.9-4.2z" fill="#e96" stroke="#e96" stroke-width="0.6"/><path d="M259.2 1913.8l2.9 4.1 10-5.6-2.9-4.2z" fill="#e96" stroke="#e96" stroke-width="0.6"/><path d="M262.1 1917.9l2.9 4.1 10-5.5-2.9-4.2z" fill="#ea6" stroke="#ea6" stroke-width="0.6"/><path d="M253.5 1905.5l11.5 16.5 10-5.5-11.5-17z" fill="none"/><path d="M373.5 1933l11.5 5.5 10-5.5-12-5z" fill="#fc9"/><path d="M493 1936.5l12 4.5 10-5-12-4.5z" fill="#fec"/><path d="M112 1934l12 2 9.5-5.5-11.5-1.5z" fill="#f83"/><path d="M232 1880.5l2.9 7.6 9.6-6.2-3-7.9z" fill="#b74" stroke="#b74" stroke-width="0.6"/><path d="M234.9 1888.1l2.9 7.6 9.8-6-3-7.9z" fill="#c85" stroke="#c85" stroke-width="0.6"/><path d="M237.8 1895.8l2.9 7.6 9.9-5.8-3-7.9z" fill="#c85" stroke="#c85" stroke-width="0.6"/><path d="M240.6 1903.4l2.9 7.6 10-5.5-3-7.9z" fill="#d85" stroke="#d85" stroke-width="0.6"/><path d="M232 1880.5l11.5 30.5 10-5.5-12-31.5z" fill="none"/><path d="M351.5 1932.5l12 5.5 10-5-12-5.5z" fill="#fc9"/><path d="M471.5 1937l12 4.5 9.5-5-11.5-4.5z" fill="#feb"/><path d="M210 1820.5l3 16.6 10-7.6-3-17z" fill="#963" stroke="#963" stroke-width="0.6"/><path d="M213 1837.1l3 16.6 10-7.2-3-17z" fill="#a64" stroke="#a64" stroke-width="0.6"/><path d="M216 1853.8l3 16.6 10-6.9-3-17z" fill="#a74" stroke="#a74" stroke-width="0.6"/><path d="M219 1870.4l3 16.6 10-6.5-3-17z" fill="#b74" stroke="#b74" stroke-width="0.6"/><path d="M210 1820.5l12 66.5 10-6.5-12-68z" fill="none"/><path d="M330 1932l12 6 9.5-5.5-11.5-6z" fill="#fb8"/><path d="M450 1937.5l11.5 4.5 10-5-11.5-4.5z" fill="#fdb"/><path d="M570 1939.5l11.5 4.5 10-5.5-12-4.5z" fill="#ffd"/><path d="M188.5 1744.5l3 21 9.9-9.5-2.9-21.5z" fill="#c84" stroke="#c84" stroke-width="0.6"/><path d="M191.5 1765.5l3 21 9.8-9-2.9-21.5z" fill="#b74" stroke="#b74" stroke-width="0.6"/><path d="M194.5 1786.5l3 21 9.6-8.5-2.9-21.5z" fill="#b73" stroke="#b73" stroke-width="0.6"/><path d="M197.5 1807.5l3 21 9.5-8-2.9-21.5z" fill="#a63" stroke="#a63" stroke-width="0.6"/><path d="M188.5 1744.5l12 84 9.5-8-11.5-86z" fill="none"/><path d="M308.5 1930l12 7 9.5-5-11.5-7z" fill="#fb8"/><path d="M428.5 1938l11.5 4.5 10-5-12-5z" fill="#fda"/><path d="M548 1940l12 4.5 10-5-12-4.5z" fill="#ffd"/><path d="M167 1902l3-36.9 9.9-7-2.9 37.9z" fill="#953" stroke="#953" stroke-width="0.6"/><path d="M170 1865.1l3-36.9 9.8-8-2.9 37.9z" fill="#a63" stroke="#a63" stroke-width="0.6"/><path d="M173 1828.2l3-36.9 9.6-9-2.9 37.9z" fill="#b63" stroke="#b63" stroke-width="0.6"/><path d="M176 1791.4l3-36.9 9.5-10-2.9 37.9z" fill="#b73" stroke="#b73" stroke-width="0.6"/><path d="M167 1902l12-147.5 9.5-10-11.5 151.5z" fill="none"/><path d="M287 1927.5l11.5 8 10-5.5-12-8z" fill="#fb7"/><path d="M406.5 1938l12 5 10-5-12-5z" fill="#fda"/><path d="M526.5 1940.5l12 4.5 9.5-5-11.5-4.5z" fill="#ffc"/><path d="M145.5 1928.5l2.9-5.1 9.6-5.2-3 5.4z" fill="#c73" stroke="#c73" stroke-width="0.6"/><path d="M148.4 1923.4l2.9-5.1 9.8-5.5-3 5.4z" fill="#b73" stroke="#b73" stroke-width="0.6"/><path d="M151.2 1918.2l2.9-5.1 9.9-5.8-3 5.4z" fill="#a63" stroke="#a63" stroke-width="0.6"/><path d="M154.1 1913.1l2.9-5.1 10-6-3 5.4z" fill="#962" stroke="#962" stroke-width="0.6"/><path d="M145.5 1928.5l11.5-20.5 10-6-12 21.5z" fill="none"/><path d="M265 1922l12 11 10-5.5-12-11z" fill="#fa6"/><path d="M385 1938.5l12 5 9.5-5.5-11.5-5z" fill="#fc9"/><path d="M505 1941l11.5 4.5 10-5-11.5-4.5z" fill="#fec"/><path d="M124 1936l11.5-2 10-5.5-12 2z" fill="#f83"/><path d="M243.5 1911l3 4.1 9.9-5.5-2.9-4.1z" fill="#d95" stroke="#d95" stroke-width="0.6"/><path d="M246.5 1915.1l3 4.1 9.8-5.5-2.9-4.1z" fill="#e95" stroke="#e95" stroke-width="0.6"/><path d="M249.5 1919.2l3 4.1 9.6-5.5-2.9-4.1z" fill="#e96" stroke="#e96" stroke-width="0.6"/><path d="M252.5 1923.4l3 4.1 9.5-5.5-2.9-4.1z" fill="#ea6" stroke="#ea6" stroke-width="0.6"/><path d="M243.5 1911l12 16.5 9.5-5.5-11.5-16.5z" fill="none"/><path d="M363.5 1938l12 5.5 9.5-5-11.5-5.5z" fill="#fc9"/><path d="M483.5 1941.5l11.5 5 10-5.5-12-4.5z" fill="#feb"/><path d="M222 1887l3 7.5 9.9-6.4-2.9-7.6z" fill="#b74" stroke="#b74" stroke-width="0.6"/><path d="M225 1894.5l3 7.5 9.8-6.2-2.9-7.6z" fill="#c84" stroke="#c84" stroke-width="0.6"/><path d="M228 1902l3 7.5 9.6-6.1-2.9-7.6z" fill="#c85" stroke="#c85" stroke-width="0.6"/><path d="M231 1909.5l3 7.5 9.5-6-2.9-7.6z" fill="#d95" stroke="#d95" stroke-width="0.6"/><path d="M222 1887l12 30 9.5-6-11.5-30.5z" fill="none"/><path d="M342 1938l11.5 5.5 10-5.5-12-5.5z" fill="#fc8"/><path d="M461.5 1942l12 5 10-5.5-12-4.5z" fill="#feb"/><path d="M200.5 1828.5l2.9 16.2 9.6-7.6-3-16.6z" fill="#963" stroke="#963" stroke-width="0.6"/><path d="M203.4 1844.8l2.9 16.2 9.8-7.2-3-16.6z" fill="#a63" stroke="#a63" stroke-width="0.6"/><path d="M206.2 1861l2.9 16.2 9.9-6.9-3-16.6z" fill="#a73" stroke="#a73" stroke-width="0.6"/><path d="M209.1 1877.2l2.9 16.2 10-6.5-3-16.6z" fill="#b74" stroke="#b74" stroke-width="0.6"/><path d="M200.5 1828.5l11.5 65 10-6.5-12-66.5z" fill="none"/><path d="M320.5 1937l11.5 6 10-5-12-6z" fill="#fb8"/><path d="M440 1942.5l12 5 9.5-5.5-11.5-4.5z" fill="#fda"/><path d="M560 1944.5l12 4.5 9.5-5-11.5-4.5z" fill="#ffd"/><path d="M179 1754.5l2.9 20.5 9.6-9.5-3-21z" fill="#c84" stroke="#c84" stroke-width="0.6"/><path d="M181.9 1775l2.9 20.5 9.8-9-3-21z" fill="#c73" stroke="#c73" stroke-width="0.6"/><path d="M184.8 1795.5l2.9 20.5 9.9-8.5-3-21z" fill="#b73" stroke="#b73" stroke-width="0.6"/><path d="M187.6 1816l2.9 20.5 10-8-3-21z" fill="#a63" stroke="#a63" stroke-width="0.6"/><path d="M179 1754.5l11.5 82 10-8-12-84z" fill="none"/><path d="M298.5 1935.5l12 7 10-5.5-12-7z" fill="#fb7"/><path d="M418.5 1943l12 5 9.5-5.5-11.5-4.5z" fill="#fda"/><path d="M538.5 1945l11.5 4.5 10-5-12-4.5z" fill="#ffc"/><path d="M157 1908l3-35.9 10-7-3 36.9z" fill="#962" stroke="#962" stroke-width="0.6"/><path d="M160 1872.1l3-35.9 10-8-3 36.9z" fill="#a63" stroke="#a63" stroke-width="0.6"/><path d="M163 1836.2l3-35.9 10-9-3 36.9z" fill="#b63" stroke="#b63" stroke-width="0.6"/><path d="M166 1800.4l3-35.9 10-10-3 36.9z" fill="#b73" stroke="#b73" stroke-width="0.6"/><path d="M157 1908l12-143.5 10-10-12 147.5z" fill="none"/><path d="M277 1933l12 8 9.5-5.5-11.5-8z" fill="#fb7"/><path d="M397 1943.5l11.5 4.5 10-5-12-5z" fill="#fd9"/><path d="M516.5 1945.5l12 4.5 10-5-12-4.5z" fill="#ffc"/><path d="M135.5 1934l3-5 9.9-5.6-2.9 5.1z" fill="#c73" stroke="#c73" stroke-width="0.6"/><path d="M138.5 1929l3-5 9.8-5.8-2.9 5.1z" fill="#b73" stroke="#b73" stroke-width="0.6"/><path d="M141.5 1924l3-5 9.6-5.9-2.9 5.1z" fill="#a62" stroke="#a62" stroke-width="0.6"/><path d="M144.5 1919l3-5 9.5-6-2.9 5.1z" fill="#a62" stroke="#a62" stroke-width="0.6"/><path d="M135.5 1934l12-20 9.5-6-11.5 20.5z" fill="none"/><path d="M255.5 1927.5l11.5 10.5 10-5-12-11z" fill="#fa6"/><path d="M375.5 1943.5l11.5 5 10-5-12-5z" fill="#fc9"/><path d="M495 1946.5l12 4.5 9.5-5.5-11.5-4.5z" fill="#feb"/><path d="M234 1917l2.9 4 9.6-5.9-3-4.1z" fill="#d95" stroke="#d95" stroke-width="0.6"/><path d="M236.9 1921l2.9 4 9.8-5.8-3-4.1z" fill="#e95" stroke="#e95" stroke-width="0.6"/><path d="M239.8 1925l2.9 4 9.9-5.6-3-4.1z" fill="#ea5" stroke="#ea5" stroke-width="0.6"/><path d="M242.6 1929l2.9 4 10-5.5-3-4.1z" fill="#ea5" stroke="#ea5" stroke-width="0.6"/><path d="M234 1917l11.5 16 10-5.5-12-16.5z" fill="none"/><path d="M353.5 1943.5l12 5 10-5-12-5.5z" fill="#fc8"/><path d="M473.5 1947l12 4.5 9.5-5-11.5-5z" fill="#feb"/><path d="M212 1893.5l3 7.4 10-6.4-3-7.5z" fill="#b74" stroke="#b74" stroke-width="0.6"/><path d="M215 1900.9l3 7.4 10-6.2-3-7.5z" fill="#c84" stroke="#c84" stroke-width="0.6"/><path d="M218 1908.2l3 7.4 10-6.1-3-7.5z" fill="#c84" stroke="#c84" stroke-width="0.6"/><path d="M221 1915.6l3 7.4 10-6-3-7.5z" fill="#d94" stroke="#d94" stroke-width="0.6"/><path d="M212 1893.5l12 29.5 10-6-12-30z" fill="none"/><path d="M332 1943l12 5.5 9.5-5-11.5-5.5z" fill="#fc8"/><path d="M452 1947.5l11.5 4.5 10-5-12-5z" fill="#fea"/><path d="M190.5 1836.5l3 15.9 9.9-7.6-2.9-16.2z" fill="#963" stroke="#963" stroke-width="0.6"/><path d="M193.5 1852.4l3 15.9 9.8-7.2-2.9-16.2z" fill="#a63" stroke="#a63" stroke-width="0.6"/><path d="M196.5 1868.2l3 15.9 9.6-6.9-2.9-16.2z" fill="#a73" stroke="#a73" stroke-width="0.6"/><path d="M199.5 1884.1l3 15.9 9.5-6.5-2.9-16.2z" fill="#b73" stroke="#b73" stroke-width="0.6"/><path d="M190.5 1836.5l12 63.5 9.5-6.5-11.5-65z" fill="none"/><path d="M310.5 1942.5l11.5 6 10-5.5-11.5-6z" fill="#fc7"/><path d="M430.5 1948l11.5 4.5 10-5-12-5z" fill="#fda"/><path d="M550 1949.5l12 4.5 10-5-12-4.5z" fill="#ffc"/><path d="M169 1764.5l2.9 20 10-9.5-2.9-20.5z" fill="#d83" stroke="#d83" stroke-width="0.6"/><path d="M171.9 1784.5l2.9 20 10-9-2.9-20.5z" fill="#c73" stroke="#c73" stroke-width="0.6"/><path d="M174.8 1804.5l2.9 20 10-8.5-2.9-20.5z" fill="#b73" stroke="#b73" stroke-width="0.6"/><path d="M177.6 1824.5l2.9 20 10-8-2.9-20.5z" fill="#a63" stroke="#a63" stroke-width="0.6"/><path d="M169 1764.5l11.5 80 10-8-11.5-82z" fill="none"/><path d="M289 1941l11.5 6.5 10-5-12-7z" fill="#fb7"/><path d="M408.5 1948l12 5 10-5-12-5z" fill="#fd9"/><path d="M528.5 1950l12 4.5 9.5-5-11.5-4.5z" fill="#ffc"/><path d="M147.5 1914l2.9-35 9.6-6.9-3 35.9z" fill="#962" stroke="#962" stroke-width="0.6"/><path d="M150.4 1879l2.9-35 9.8-7.8-3 35.9z" fill="#a62" stroke="#a62" stroke-width="0.6"/><path d="M153.2 1844l2.9-35 9.9-8.6-3 35.9z" fill="#b72" stroke="#b72" stroke-width="0.6"/><path d="M156.1 1809l2.9-35 10-9.5-3 35.9z" fill="#b73" stroke="#b73" stroke-width="0.6"/><path d="M147.5 1914l11.5-140 10-9.5-12 143.5z" fill="none"/><path d="M267 1938l12 8 10-5-12-8z" fill="#fb6"/><path d="M387 1948.5l12 5 9.5-5.5-11.5-4.5z" fill="#fd9"/><path d="M507 1951l11.5 4.5 10-5.5-12-4.5z" fill="#ffb"/><path d="M245.5 1933l12 10.5 9.5-5.5-11.5-10.5z" fill="#fa5"/><path d="M365.5 1948.5l11.5 5 10-5-11.5-5z" fill="#fc8"/><path d="M485.5 1951.5l11.5 4.5 10-5-12-4.5z" fill="#feb"/><path d="M224 1923l2.9 3.9 10-5.9-2.9-4z" fill="#d94" stroke="#d94" stroke-width="0.6"/><path d="M226.9 1926.9l2.9 3.9 10-5.8-2.9-4z" fill="#e95" stroke="#e95" stroke-width="0.6"/><path d="M229.8 1930.8l2.9 3.9 10-5.6-2.9-4z" fill="#ea5" stroke="#ea5" stroke-width="0.6"/><path d="M232.6 1934.6l2.9 3.9 10-5.5-2.9-4z" fill="#ea5" stroke="#ea5" stroke-width="0.6"/><path d="M224 1923l11.5 15.5 10-5.5-11.5-16z" fill="none"/><path d="M344 1948.5l11.5 5.5 10-5.5-12-5z" fill="#fc8"/><path d="M463.5 1952l12 4.5 10-5-12-4.5z" fill="#fea"/><path d="M202.5 1900l2.9 7.2 9.6-6.4-3-7.4z" fill="#b73" stroke="#b73" stroke-width="0.6"/><path d="M205.4 1907.2l2.9 7.2 9.8-6.2-3-7.4z" fill="#c84" stroke="#c84" stroke-width="0.6"/><path d="M208.2 1914.5l2.9 7.2 9.9-6.1-3-7.4z" fill="#c84" stroke="#c84" stroke-width="0.6"/><path d="M211.1 1921.8l2.9 7.2 10-6-3-7.4z" fill="#d94" stroke="#d94" stroke-width="0.6"/><path d="M202.5 1900l11.5 29 10-6-12-29.5z" fill="none"/><path d="M322 1948.5l12 5.5 10-5.5-12-5.5z" fill="#fc7"/><path d="M442 1952.5l12 4.5 9.5-5-11.5-4.5z" fill="#fea"/><path d="M180.5 1844.5l3 15.5 10-7.6-3-15.9z" fill="#963" stroke="#963" stroke-width="0.6"/><path d="M183.5 1860l3 15.5 10-7.2-3-15.9z" fill="#a63" stroke="#a63" stroke-width="0.6"/><path d="M186.5 1875.5l3 15.5 10-6.9-3-15.9z" fill="#a73" stroke="#a73" stroke-width="0.6"/><path d="M189.5 1891l3 15.5 10-6.5-3-15.9z" fill="#b73" stroke="#b73" stroke-width="0.6"/><path d="M180.5 1844.5l12 62 10-6.5-12-63.5z" fill="none"/><path d="M300.5 1947.5l12 6 9.5-5-11.5-6z" fill="#fc7"/><path d="M420.5 1953l11.5 4.5 10-5-11.5-4.5z" fill="#fd9"/><path d="M540.5 1954.5l11.5 4.5 10-5-12-4.5z" fill="#ffc"/><path d="M159 1774l3 19.5 9.9-9-2.9-20z" fill="#d83" stroke="#d83" stroke-width="0.6"/><path d="M162 1793.5l3 19.5 9.8-8.5-2.9-20z" fill="#c73" stroke="#c73" stroke-width="0.6"/><path d="M165 1813l3 19.5 9.6-8-2.9-20z" fill="#b72" stroke="#b72" stroke-width="0.6"/><path d="M168 1832.5l3 19.5 9.5-7.5-2.9-20z" fill="#a62" stroke="#a62" stroke-width="0.6"/><path d="M159 1774l12 78 9.5-7.5-11.5-80z" fill="none"/><path d="M279 1946l11.5 7 10-5.5-11.5-6.5z" fill="#fb6"/><path d="M399 1953.5l11.5 4.5 10-5-12-5z" fill="#fd9"/><path d="M518.5 1955.5l12 4.5 10-5.5-12-4.5z" fill="#ffb"/><path d="M257.5 1943.5l11.5 8 10-5.5-12-8z" fill="#fb6"/><path d="M377 1953.5l12 5 10-5-12-5z" fill="#fd8"/><path d="M497 1956l12 4.5 9.5-5-11.5-4.5z" fill="#ffb"/><path d="M235.5 1938.5l12 10.5 10-5.5-12-10.5z" fill="#fa5"/><path d="M355.5 1954l12 5 9.5-5.5-11.5-5z" fill="#fc8"/><path d="M475.5 1956.5l11.5 4.5 10-5-11.5-4.5z" fill="#fea"/><path d="M214 1929l3 3.9 9.9-6-2.9-3.9z" fill="#d94" stroke="#d94" stroke-width="0.6"/><path d="M217 1932.9l3 3.9 9.8-6-2.9-3.9z" fill="#e94" stroke="#e94" stroke-width="0.6"/><path d="M220 1936.8l3 3.9 9.6-6-2.9-3.9z" fill="#ea4" stroke="#ea4" stroke-width="0.6"/><path d="M223 1940.6l3 3.9 9.5-6-2.9-3.9z" fill="#ea4" stroke="#ea4" stroke-width="0.6"/><path d="M214 1929l12 15.5 9.5-6-11.5-15.5z" fill="none"/><path d="M334 1954l11.5 5 10-5-11.5-5.5z" fill="#fc7"/><path d="M454 1957l11.5 4.5 10-5-12-4.5z" fill="#fea"/><path d="M192.5 1906.5l3 7 9.9-6.2-2.9-7.2z" fill="#b73" stroke="#b73" stroke-width="0.6"/><path d="M195.5 1913.5l3 7 9.8-6-2.9-7.2z" fill="#c83" stroke="#c83" stroke-width="0.6"/><path d="M198.5 1920.5l3 7 9.6-5.8-2.9-7.2z" fill="#d83" stroke="#d83" stroke-width="0.6"/><path d="M201.5 1927.5l3 7 9.5-5.5-2.9-7.2z" fill="#d94" stroke="#d94" stroke-width="0.6"/><path d="M192.5 1906.5l12 28 9.5-5.5-11.5-29z" fill="none"/><path d="M312.5 1953.5l11.5 5.5 10-5-12-5.5z" fill="#fc7"/><path d="M432 1957.5l12 4.5 10-5-12-4.5z" fill="#fe9"/><path d="M171 1852l2.9 15.2 9.6-7.2-3-15.5z" fill="#a62" stroke="#a62" stroke-width="0.6"/><path d="M173.9 1867.2l2.9 15.2 9.8-7-3-15.5z" fill="#a62" stroke="#a62" stroke-width="0.6"/><path d="M176.8 1882.5l2.9 15.2 9.9-6.8-3-15.5z" fill="#b72" stroke="#b72" stroke-width="0.6"/><path d="M179.6 1897.8l2.9 15.2 10-6.5-3-15.5z" fill="#b73" stroke="#b73" stroke-width="0.6"/><path d="M171 1852l11.5 61 10-6.5-12-62z" fill="none"/><path d="M290.5 1953l12 6 10-5.5-12-6z" fill="#fc6"/><path d="M410.5 1958l12 5 9.5-5.5-11.5-4.5z" fill="#fd9"/><path d="M530.5 1960l11.5 4 10-5-11.5-4.5z" fill="#ffb"/><path d="M269 1951.5l12 6.5 9.5-5-11.5-7z" fill="#fb6"/><path d="M389 1958.5l11.5 5 10-5.5-11.5-4.5z" fill="#fd8"/><path d="M509 1960.5l11.5 4.5 10-5-12-4.5z" fill="#ffb"/><path d="M247.5 1949l12 8 9.5-5.5-11.5-8z" fill="#fb5"/><path d="M367.5 1959l11.5 4.5 10-5-12-5z" fill="#fd8"/><path d="M487 1961l12 4.5 10-5-12-4.5z" fill="#ffa"/><path d="M226 1944.5l11.5 10 10-5.5-12-10.5z" fill="#fa5"/><path d="M345.5 1959l12 5 10-5-12-5z" fill="#fd7"/><path d="M465.5 1961.5l12 4.5 9.5-5-11.5-4.5z" fill="#fea"/><path d="M204.5 1934.5l2.9 3.9 9.6-5.5-3-3.9z" fill="#e94" stroke="#e94" stroke-width="0.6"/><path d="M207.4 1938.4l2.9 3.9 9.8-5.5-3-3.9z" fill="#e94" stroke="#e94" stroke-width="0.6"/><path d="M210.2 1942.2l2.9 3.9 9.9-5.5-3-3.9z" fill="#ea4" stroke="#ea4" stroke-width="0.6"/><path d="M213.1 1946.1l2.9 3.9 10-5.5-3-3.9z" fill="#fa4" stroke="#fa4" stroke-width="0.6"/><path d="M204.5 1934.5l11.5 15.5 10-5.5-12-15.5z" fill="none"/><path d="M324 1959l12 5 9.5-5-11.5-5z" fill="#fc7"/><path d="M444 1962l12 5 9.5-5.5-11.5-4.5z" fill="#fe9"/><path d="M182.5 1913l3 6.9 10-6.4-3-7z" fill="#c83" stroke="#c83" stroke-width="0.6"/><path d="M185.5 1919.9l3 6.9 10-6.2-3-7z" fill="#c83" stroke="#c83" stroke-width="0.6"/><path d="M188.5 1926.8l3 6.9 10-6.1-3-7z" fill="#d83" stroke="#d83" stroke-width="0.6"/><path d="M191.5 1933.6l3 6.9 10-6-3-7z" fill="#d93" stroke="#d93" stroke-width="0.6"/><path d="M182.5 1913l12 27.5 10-6-12-28z" fill="none"/><path d="M302.5 1959l12 5.5 9.5-5.5-11.5-5.5z" fill="#fc6"/><path d="M422.5 1963l11.5 4.5 10-5.5-12-4.5z" fill="#fe9"/><path d="M281 1958l11.5 6 10-5-12-6z" fill="#fc6"/><path d="M400.5 1963.5l12 4.5 10-5-12-5z" fill="#fd8"/><path d="M520.5 1965l12 4.5 9.5-5.5-11.5-4z" fill="#ffb"/><path d="M259.5 1957l11.5 6.5 10-5.5-12-6.5z" fill="#fb5"/><path d="M379 1963.5l12 5 9.5-5-11.5-5z" fill="#fd8"/><path d="M499 1965.5l12 4.5 9.5-5-11.5-4.5z" fill="#ffa"/><path d="M237.5 1954.5l12 7.5 10-5-12-8z" fill="#fb5"/><path d="M357.5 1964l12 5 9.5-5.5-11.5-4.5z" fill="#fd7"/><path d="M477.5 1966l11.5 4.5 10-5-12-4.5z" fill="#ffa"/><path d="M216 1950l12 10 9.5-5.5-11.5-10z" fill="#fa4"/><path d="M336 1964l11.5 5 10-5-12-5z" fill="#fd7"/><path d="M456 1967l11.5 4.5 10-5.5-12-4.5z" fill="#fe9"/><path d="M194.5 1940.5l2.9 3.8 10-5.9-2.9-3.9z" fill="#e93" stroke="#e93" stroke-width="0.6"/><path d="M197.4 1944.2l2.9 3.8 10-5.8-2.9-3.9z" fill="#e93" stroke="#e93" stroke-width="0.6"/><path d="M200.2 1948l2.9 3.8 10-5.6-2.9-3.9z" fill="#ea3" stroke="#ea3" stroke-width="0.6"/><path d="M203.1 1951.8l2.9 3.8 10-5.5-2.9-3.9z" fill="#fa3" stroke="#fa3" stroke-width="0.6"/><path d="M194.5 1940.5l11.5 15 10-5.5-11.5-15.5z" fill="none"/><path d="M314.5 1964.5l11.5 5 10-5.5-12-5z" fill="#fc6"/><path d="M434 1967.5l12 4.5 10-5-12-5z" fill="#fe9"/><path d="M292.5 1964l12 5.5 10-5-12-5.5z" fill="#fc6"/><path d="M412.5 1968l12 4.5 9.5-5-11.5-4.5z" fill="#fe8"/><path d="M271 1963.5l12 6 9.5-5.5-11.5-6z" fill="#fc5"/><path d="M391 1968.5l11.5 4.5 10-5-12-4.5z" fill="#fd8"/><path d="M511 1970l11.5 4.5 10-5-12-4.5z" fill="#ffa"/><path d="M249.5 1962l11.5 6.5 10-5-11.5-6.5z" fill="#fb5"/><path d="M369.5 1969l11.5 4.5 10-5-12-5z" fill="#fd7"/><path d="M489 1970.5l12 4.5 10-5-12-4.5z" fill="#ffa"/><path d="M228 1960l11.5 7.5 10-5.5-12-7.5z" fill="#fb4"/><path d="M347.5 1969l12 5 10-5-12-5z" fill="#fd7"/><path d="M467.5 1971.5l12 4.5 9.5-5.5-11.5-4.5z" fill="#ff9"/><path d="M206 1955.5l12 9.5 10-5-12-10z" fill="#fa4"/><path d="M326 1969.5l12 5 9.5-5.5-11.5-5z" fill="#fd6"/><path d="M446 1972l11.5 4.5 10-5-11.5-4.5z" fill="#fe9"/><path d="M304.5 1969.5l11.5 5 10-5-11.5-5z" fill="#fc6"/><path d="M424.5 1972.5l11.5 4.5 10-5-12-4.5z" fill="#fe8"/><path d="M283 1969.5l11.5 5 10-5-12-5.5z" fill="#fc5"/><path d="M402.5 1973l12 4.5 10-5-12-4.5z" fill="#fe8"/><path d="M261 1968.5l12 6 10-5-12-6z" fill="#fc5"/><path d="M381 1973.5l12 4.5 9.5-5-11.5-4.5z" fill="#fd7"/><path d="M501 1975l11.5 4.5 10-5-11.5-4.5z" fill="#ffa"/><path d="M239.5 1967.5l12 6.5 9.5-5.5-11.5-6.5z" fill="#fb4"/><path d="M359.5 1974l11.5 4.5 10-5-11.5-4.5z" fill="#fd7"/><path d="M479.5 1976l11.5 4 10-5-12-4.5z" fill="#ff9"/><path d="M218 1965l12 8 9.5-5.5-11.5-7.5z" fill="#fb4"/><path d="M338 1974.5l11.5 4.5 10-5-12-5z" fill="#fd6"/><path d="M457.5 1976.5l12 4.5 10-5-12-4.5z" fill="#ff9"/><path d="M316 1974.5l12 5 10-5-12-5z" fill="#fd6"/><path d="M436 1977l12 4.5 9.5-5-11.5-4.5z" fill="#fe8"/><path d="M294.5 1974.5l12 5.5 9.5-5.5-11.5-5z" fill="#fc5"/><path d="M414.5 1977.5l11.5 4.5 10-5-11.5-4.5z" fill="#fe8"/><path d="M273 1974.5l12 5.5 9.5-5.5-11.5-5z" fill="#fc5"/><path d="M393 1978l11.5 5 10-5.5-12-4.5z" fill="#fe7"/><path d="M251.5 1974l11.5 5.5 10-5-12-6z" fill="#fc4"/><path d="M371 1978.5l12 5 10-5.5-12-4.5z" fill="#fe7"/><path d="M491 1980l12 4.5 9.5-5-11.5-4.5z" fill="#ff9"/><path d="M230 1973l11.5 6 10-5-12-6.5z" fill="#fb4"/><path d="M349.5 1979l12 5 9.5-5.5-11.5-4.5z" fill="#fd6"/><path d="M469.5 1981l11.5 4.5 10-5.5-11.5-4z" fill="#ff9"/><path d="M328 1979.5l12 5 9.5-5.5-11.5-4.5z" fill="#fd6"/><path d="M448 1981.5l11.5 4.5 10-5-12-4.5z" fill="#ff8"/><path d="M306.5 1980l11.5 4.5 10-5-12-5z" fill="#fd5"/><path d="M426 1982l12 4.5 10-5-12-4.5z" fill="#fe8"/><path d="M285 1980l11.5 5 10-5-12-5.5z" fill="#fc5"/><path d="M404.5 1983l12 4.5 9.5-5.5-11.5-4.5z" fill="#fe7"/><path d="M263 1979.5l12 5.5 10-5-12-5.5z" fill="#fc4"/><path d="M383 1983.5l12 4.5 9.5-5-11.5-5z" fill="#fe7"/><path d="M241.5 1979l12 6 9.5-5.5-11.5-5.5z" fill="#fc4"/><path d="M361.5 1984l11.5 4.5 10-5-12-5z" fill="#fe6"/><path d="M481 1985.5l12 4.5 10-5.5-12-4.5z" fill="#ff9"/><path d="M340 1984.5l11.5 4.5 10-5-12-5z" fill="#fd6"/><path d="M459.5 1986l12 4.5 9.5-5-11.5-4.5z" fill="#ff8"/><path d="M318 1984.5l12 5 10-5-12-5z" fill="#fd5"/><path d="M438 1986.5l12 4.5 9.5-5-11.5-4.5z" fill="#ff8"/><path d="M296.5 1985l12 5 9.5-5.5-11.5-4.5z" fill="#fd5"/><path d="M416.5 1987.5l11.5 4.5 10-5.5-12-4.5z" fill="#fe7"/><path d="M275 1985l11.5 5 10-5-11.5-5z" fill="#fc4"/><path d="M395 1988l11.5 4.5 10-5-12-4.5z" fill="#fe7"/><path d="M253.5 1985l11.5 5 10-5-12-5.5z" fill="#fc4"/><path d="M373 1988.5l12 4.5 10-5-12-4.5zM351.5 1989l12 4.5 9.5-5-11.5-4.5z" fill="#fe6"/><path d="M471.5 1990.5l11.5 4.5 10-5-12-4.5z" fill="#ff8"/><path d="M330 1989.5l11.5 4.5 10-5-11.5-4.5z" fill="#fd5"/><path d="M450 1991l11.5 4.5 10-5-12-4.5z" fill="#ff8"/><path d="M308.5 1990l11.5 4.5 10-5-12-5z" fill="#fd5"/><path d="M428 1992l12 4 10-5-12-4.5z" fill="#ff7"/><path d="M286.5 1990l12 5 10-5-12-5z" fill="#fd4"/><path d="M406.5 1992.5l12 4.5 9.5-5-11.5-4.5z" fill="#fe7"/><path d="M265 1990l12 5 9.5-5-11.5-5z" fill="#fc4"/><path d="M385 1993l11.5 4.5 10-5-11.5-4.5zM363.5 1993.5l11.5 4.5 10-5-12-4.5z" fill="#fe6"/><path d="M341.5 1994l12 4.5 10-5-12-4.5z" fill="#fe5"/><path d="M461.5 1995.5l12 4.5 9.5-5-11.5-4.5z" fill="#ff8"/><path d="M320 1994.5l12 4.5 9.5-5-11.5-4.5z" fill="#fd5"/><path d="M440 1996l11.5 4.5 10-5-11.5-4.5z" fill="#ff7"/><path d="M298.5 1995l11.5 4.5 10-5-11.5-4.5z" fill="#fd4"/><path d="M418.5 1997l11.5 4.5 10-5.5-12-4z" fill="#ff7"/><path d="M277 1995l11.5 5 10-5-12-5z" fill="#fd4"/><path d="M396.5 1997.5l12 4.5 10-5-12-4.5zM375 1998l12 4.5 9.5-5-11.5-4.5z" fill="#fe6"/><path d="M353.5 1998.5l11.5 4.5 10-5-11.5-4.5zM332 1999l11.5 5 10-5.5-12-4.5z" fill="#fe5"/><path d="M451.5 2000.5l12 4.5 10-5-12-4.5z" fill="#ff7"/><path d="M310 1999.5l12 5 10-5.5-12-4.5z" fill="#fd4"/><path d="M430 2001.5l12 4.5 9.5-5.5-11.5-4.5z" fill="#ff7"/><path d="M288.5 2000l12 5 9.5-5.5-11.5-4.5z" fill="#fd4"/><path d="M408.5 2002l12 4.5 9.5-5-11.5-4.5z" fill="#ff6"/><path d="M387 2002.5l11.5 4.5 10-5-12-4.5z" fill="#fe6"/><path d="M365 2003l12 4.5 10-5-12-4.5zM343.5 2004l12 4.5 9.5-5.5-11.5-4.5z" fill="#fe5"/><path d="M322 2004.5l12 4.5 9.5-5-11.5-5z" fill="#fe4"/><path d="M442 2006l11.5 4 10-5-12-4.5z" fill="#ff7"/><path d="M300.5 2005l11.5 4.5 10-5-12-5z" fill="#fd4"/><path d="M420.5 2006.5l11.5 4.5 10-5-12-4.5zM398.5 2007l12 4.5 10-5-12-4.5z" fill="#ff6"/><path d="M377 2007.5l12 4.5 9.5-5-11.5-4.5zM355.5 2008.5l11.5 4.5 10-5.5-12-4.5z" fill="#fe5"/><path d="M334 2009l11.5 4.5 10-5-12-4.5zM312 2009.5l12 4.5 10-5-12-4.5z" fill="#fe4"/><path d="M432 2011l12 4.5 9.5-5.5-11.5-4zM410.5 2011.5l11.5 4.5 10-5-11.5-4.5z" fill="#ff6"/><path d="M389 2012l11.5 4.5 10-5-12-4.5z" fill="#ff5"/><path d="M367 2013l12 4.5 10-5.5-12-4.5z" fill="#fe5"/><path d="M345.5 2013.5l12 4.5 9.5-5-11.5-4.5zM324 2014l11.5 4.5 10-5-11.5-4.5z" fill="#fe4"/><path d="M422 2016l12 4.5 10-5-12-4.5z" fill="#ff6"/><path d="M400.5 2016.5l12 4.5 9.5-5-11.5-4.5zM379 2017.5l11.5 4 10-5-11.5-4.5z" fill="#ff5"/><path d="M357.5 2018l11.5 4.5 10-5-12-4.5z" fill="#ff4"/><path d="M335.5 2018.5l12 4.5 10-5-12-4.5z" fill="#fe4"/><path d="M412.5 2021l11.5 4.5 10-5-12-4.5zM390.5 2021.5l12 4.5 10-5-12-4.5z" fill="#ff5"/><path d="M369 2022.5l12 4.5 9.5-5.5-11.5-4zM347.5 2023l12 4.5 9.5-5-11.5-4.5z" fill="#ff4"/><path d="M402.5 2026l12 4.5 9.5-5-11.5-4.5z" fill="#ff5"/><path d="M381 2027l11.5 4.5 10-5.5-12-4.5zM359.5 2027.5l11.5 4.5 10-5-12-4.5zM392.5 2031.5l12 4 10-5-12-4.5zM371 2032l12 4.5 9.5-5-11.5-4.5zM383 2036.5l11.5 4 10-5-12-4z" fill="#ff4"/></g>
<path d="M394.6 2042L394.6 1707M394.6 1707L112 1604.4M394.6 1707L630.8 1585.7" stroke="#000" stroke-width="2" fill="none"/>
<path d="M112 1913.3h-14M112 1882.2h-14M112 1851.1h-14M112 1820.1h-14M112 1789h-14M112 1757.9h-14M112 1726.8h-14M112 1695.8h-14M112 1664.7h-14M112 1633.6h-14M112 1928.8h-8M112 1897.8h-8M112 1866.7h-8M112 1835.6h-8M112 1804.5h-8M112 1773.5h-8M112 1742.4h-8M112 1711.3h-8M112 1680.2h-8M112 1649.1h-8M112 1618.1h-8M112 1939.4v11M147.3 1952.2v8M182.7 1965.1v11M218 1977.9v8M253.3 1990.7v11M288.6 2003.5v8M324 2016.4v11M359.3 2029.2v8M394.6 2042v11M406.4 2035.9l6.6 2.4M418.2 2029.9l6.6 2.4M430 2023.8l6.6 2.4M441.8 2017.7l6.6 2.4M453.7 2011.7l10.3 3.7M465.5 2005.6l6.6 2.4M477.3 1999.5l6.6 2.4M489.1 1993.5l6.6 2.4M500.9 1987.4l6.6 2.4M512.7 1981.3l10.3 3.7M524.5 1975.3l6.6 2.4M536.3 1969.2l6.6 2.4M548.1 1963.2l6.6 2.4M559.9 1957.1l6.6 2.4M571.8 1951l10.3 3.7M583.6 1945l6.6 2.4M595.4 1938.9l6.6 2.4M607.2 1932.8l6.6 2.4M619 1926.8l6.6 2.4M630.8 1920.7l10.3 3.7" stroke="#000" stroke-width="1.8" fill="none"/>
<text x="96.5" y="1919.2" text-anchor="end" font-family="'Liberation Serif', 'Times New Roman', serif" font-size="17.5" fill="#000">20</text>
<text x="96.5" y="1888.2" text-anchor="end" font-family="'Liberation Serif', 'Times New Roman', serif" font-size="17.5" fill="#000">40</text>
<text x="96.5" y="1857.2" text-anchor="end" font-family="'Liberation Serif', 'Times New Roman', serif" font-size="17.5" fill="#000">60</text>
<text x="96.5" y="1826.2" text-anchor="end" font-family="'Liberation Serif', 'Times New Roman', serif" font-size="17.5" fill="#000">80</text>
<text x="96.5" y="1795.2" text-anchor="end" font-family="'Liberation Serif', 'Times New Roman', serif" font-size="17.5" fill="#000">100</text>
<text x="96.5" y="1764.2" text-anchor="end" font-family="'Liberation Serif', 'Times New Roman', serif" font-size="17.5" fill="#000">120</text>
<text x="96.5" y="1733.2" text-anchor="end" font-family="'Liberation Serif', 'Times New Roman', serif" font-size="17.5" fill="#000">140</text>
<text x="96.5" y="1702.2" text-anchor="end" font-family="'Liberation Serif', 'Times New Roman', serif" font-size="17.5" fill="#000">160</text>
<text x="96.5" y="1671.2" text-anchor="end" font-family="'Liberation Serif', 'Times New Roman', serif" font-size="17.5" fill="#000">180</text>
<text x="96.5" y="1640.3" text-anchor="end" font-family="'Liberation Serif', 'Times New Roman', serif" font-size="17.5" fill="#000">200</text>
<text x="112" y="1973.3" text-anchor="middle" font-family="'Liberation Serif', 'Times New Roman', serif" font-size="17.5" fill="#000">- 200</text>
<text x="183" y="1997.5" text-anchor="middle" font-family="'Liberation Serif', 'Times New Roman', serif" font-size="17.5" fill="#000">- 100</text>
<text x="253" y="2023.7" text-anchor="middle" font-family="'Liberation Serif', 'Times New Roman', serif" font-size="17.5" fill="#000">0</text>
<text x="324.7" y="2047.9" text-anchor="middle" font-family="'Liberation Serif', 'Times New Roman', serif" font-size="17.5" fill="#000">100</text>
<text x="394.6" y="2074.1" text-anchor="middle" font-family="'Liberation Serif', 'Times New Roman', serif" font-size="17.5" fill="#000">200</text>
<text x="481.5" y="2027.4" text-anchor="middle" font-family="'Liberation Serif', 'Times New Roman', serif" font-size="17.5" fill="#000">-0.5</text>
<text x="530" y="1999.4" text-anchor="middle" font-family="'Liberation Serif', 'Times New Roman', serif" font-size="17.5" fill="#000">0</text>
<text x="593.5" y="1967.7" text-anchor="middle" font-family="'Liberation Serif', 'Times New Roman', serif" font-size="17.5" fill="#000">0.5</text>
<text x="645.8" y="1937.8" text-anchor="middle" font-family="'Liberation Serif', 'Times New Roman', serif" font-size="17.5" fill="#000">1</text>
<text transform="translate(15 304.6) rotate(-90)" x="0" y="9.3" text-anchor="middle" font-family="'Liberation Serif', 'Times New Roman', serif" font-weight="bold" font-size="31" fill="#0c1020">Re(P)</text>
<text x="241.4" y="610" text-anchor="middle" font-family="'Liberation Serif', 'Times New Roman', serif" font-weight="bold" font-size="36" fill="#0c1020">x</text>
<text x="539.2" y="592" text-anchor="middle" font-family="'Liberation Serif', 'Times New Roman', serif" font-weight="bold" font-size="36" fill="#0c1020">y</text>
<text x="383.5" y="683" text-anchor="middle" font-family="'Liberation Serif', 'Times New Roman', serif" font-weight="bold" font-size="35" fill="#0c1020">a.</text>
<text transform="translate(24 985.5) rotate(-90)" x="0" y="9.3" text-anchor="middle" font-family="'Liberation Serif', 'Times New Roman', serif" font-weight="bold" font-size="31" fill="#0c1020">Im(P)</text>
<text x="209" y="1300" text-anchor="middle" font-family="'Liberation Serif', 'Times New Roman', serif" font-weight="bold" font-size="36" fill="#0c1020">x</text>
<text x="255.7" y="1324" text-anchor="middle" font-family="'Liberation Serif', 'Times New Roman', serif" font-style="italic" font-size="17" fill="#222">x</text>
<text x="602.8" y="1285" text-anchor="middle" font-family="'Liberation Serif', 'Times New Roman', serif" font-weight="bold" font-size="36" fill="#0c1020">y</text>
<text x="388.2" y="1382" text-anchor="middle" font-family="'Liberation Serif', 'Times New Roman', serif" font-weight="bold" font-size="35" fill="#0c1020">d.</text>
<text transform="translate(21.5 1718) rotate(-90)" x="0" y="10.8" text-anchor="middle" font-family="'Liberation Serif', 'Times New Roman', serif" font-weight="bold" font-size="36" fill="#0c1020">|P|</text>
<text x="199.7" y="2045" text-anchor="middle" font-family="'Liberation Serif', 'Times New Roman', serif" font-weight="bold" font-size="36" fill="#0c1020">x</text>
<text x="621.5" y="1983" text-anchor="middle" font-family="'Liberation Serif', 'Times New Roman', serif" font-weight="bold" font-size="36" fill="#0c1020">y</text>
<text x="358.3" y="2120" text-anchor="middle" font-family="'Liberation Serif', 'Times New Roman', serif" font-weight="bold" font-size="36" fill="#0c1020">g</text>
<circle cx="42.8" cy="392.2" r="1.1" fill="#333"/>
<circle cx="44" cy="462.6" r="1.1" fill="#333"/>
<circle cx="57.9" cy="937" r="1.1" fill="#333"/>
<circle cx="248.2" cy="2060.7" r="1.1" fill="#333"/>
<circle cx="1425.4" cy="915.2" r="1.1" fill="#333"/>
<text x="730.5" y="293.5" text-anchor="middle" font-family="'Liberation Serif', 'Times New Roman', serif" font-weight="bold" font-size="36" fill="#0c1020">y</text>
<text x="1069.6" y="610.5" text-anchor="middle" font-family="'Liberation Serif', 'Times New Roman', serif" font-weight="bold" font-size="36" fill="#0c1020">x</text>
<text x="1052" y="684" text-anchor="middle" font-family="'Liberation Serif', 'Times New Roman', serif" font-weight="bold" font-size="36" fill="#0c1020">b.</text>
<text x="716" y="995" text-anchor="middle" font-family="'Liberation Serif', 'Times New Roman', serif" font-weight="bold" font-size="36" fill="#0c1020">y</text>
<text x="1048.6" y="1338.5" text-anchor="middle" font-family="'Liberation Serif', 'Times New Roman', serif" font-weight="bold" font-size="36" fill="#0c1020">x</text>
<text x="1054" y="1387" text-anchor="middle" font-family="'Liberation Serif', 'Times New Roman', serif" font-weight="bold" font-size="36" fill="#0c1020">e.</text>
<text x="742.1" y="1740" text-anchor="middle" font-family="'Liberation Serif', 'Times New Roman', serif" font-weight="bold" font-size="36" fill="#0c1020">y</text>
<text x="1090" y="2067.5" text-anchor="middle" font-family="'Liberation Serif', 'Times New Roman', serif" font-weight="bold" font-size="36" fill="#0c1020">x</text>
<text x="1056" y="2118" text-anchor="middle" font-family="'Liberation Serif', 'Times New Roman', serif" font-weight="bold" font-size="36" fill="#0c1020">h.</text>
<text transform="translate(1389 255) rotate(-90)" x="0" y="9.9" text-anchor="middle" font-family="'Liberation Serif', 'Times New Roman', serif" font-weight="bold" font-size="33" fill="#0c1020">Re(P)</text>
<text x="1719" y="625.5" text-anchor="middle" font-family="'Liberation Serif', 'Times New Roman', serif" font-weight="bold" font-size="36" fill="#0c1020">x</text>
<text x="1725" y="684" text-anchor="middle" font-family="'Liberation Serif', 'Times New Roman', serif" font-weight="bold" font-size="36" fill="#0c1020">c.</text>
<text transform="translate(1392.5 963) rotate(-90)" x="0" y="9.6" text-anchor="middle" font-family="'Liberation Serif', 'Times New Roman', serif" font-weight="bold" font-size="32" fill="#0c1020">Im(P)</text>
<text x="1744" y="1341.5" text-anchor="middle" font-family="'Liberation Serif', 'Times New Roman', serif" font-weight="bold" font-size="36" fill="#0c1020">x</text>
<text x="1725" y="1382" text-anchor="middle" font-family="'Liberation Serif', 'Times New Roman', serif" font-weight="bold" font-size="36" fill="#0c1020">f.</text>
<text transform="translate(1391.3 1725) rotate(-90)" x="0" y="10.8" text-anchor="middle" font-family="'Liberation Serif', 'Times New Roman', serif" font-weight="bold" font-size="36" fill="#0c1020">|P|</text>
<text x="1761.2" y="2055" text-anchor="middle" font-family="'Liberation Serif', 'Times New Roman', serif" font-weight="bold" font-size="36" fill="#0c1020">x</text>
<text x="1736" y="2118" text-anchor="middle" font-family="'Liberation Serif', 'Times New Roman', serif" font-weight="bold" font-size="36" fill="#0c1020">i.</text>
</svg></body></html>
